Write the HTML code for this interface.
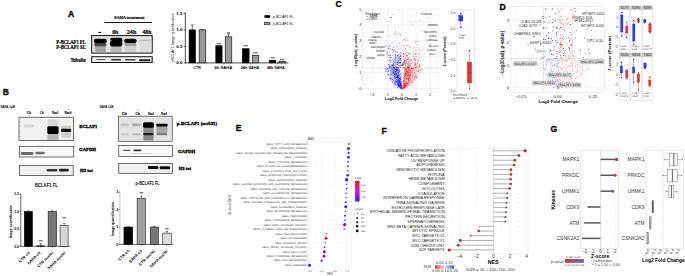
<!DOCTYPE html>
<html><head><meta charset="utf-8"><style>
html,body{margin:0;padding:0;background:#fff;}
body{width:685px;height:276px;overflow:hidden;}
svg{display:block;font-family:"Liberation Sans", sans-serif;}
</style></head><body>
<svg width="685" height="276" viewBox="0 0 685 276" xmlns="http://www.w3.org/2000/svg">
<defs>
<filter id="b1" x="-50%" y="-50%" width="200%" height="200%"><feGaussianBlur stdDeviation="0.9"/></filter>
<filter id="b05" x="-50%" y="-50%" width="200%" height="200%"><feGaussianBlur stdDeviation="0.5"/></filter>
<filter id="b03" x="-50%" y="-50%" width="200%" height="200%"><feGaussianBlur stdDeviation="0.3"/></filter>
<linearGradient id="gfdr" x1="0" y1="0" x2="0" y2="1"><stop offset="0" stop-color="#ff1010"/><stop offset="0.5" stop-color="#e010e0"/><stop offset="1" stop-color="#2020ff"/></linearGradient>
<linearGradient id="gf" x1="0" y1="0" x2="1" y2="0"><stop offset="0" stop-color="#e03030"/><stop offset="0.5" stop-color="#f0e0e0"/><stop offset="1" stop-color="#4060c0"/></linearGradient>
<linearGradient id="gg" x1="0" y1="0" x2="1" y2="0"><stop offset="0" stop-color="#d83030"/><stop offset="0.55" stop-color="#a05080"/><stop offset="1" stop-color="#5070c8"/></linearGradient>
</defs>
<rect width="685" height="276" fill="#fff"/>
<text x="68.00" y="17.20" font-size="8.6" text-anchor="start" font-weight="bold" fill="#000" stroke="#000" stroke-width="0.3" >A</text>
<text x="114.30" y="19.10" font-size="4.8" text-anchor="start" font-weight="bold" fill="#000" font-family="'Liberation Serif', serif" textLength="30.20" lengthAdjust="spacingAndGlyphs" stroke="#000" stroke-width="0.2" >SAHA treatment</text>
<line x1="104.40" y1="22.50" x2="152.00" y2="22.50" stroke="#000" stroke-width="0.9" />
<rect x="98.30" y="31.90" width="2.80" height="1.00" fill="#000" stroke="none" stroke-width="0" />
<text x="112.20" y="34.10" font-size="6.8" text-anchor="start" font-weight="bold" fill="#000" font-family="'Liberation Serif', serif" textLength="6.20" lengthAdjust="spacingAndGlyphs" stroke="#000" stroke-width="0.2" >6h</text>
<text x="126.80" y="34.10" font-size="6.8" text-anchor="start" font-weight="bold" fill="#000" font-family="'Liberation Serif', serif" textLength="9.50" lengthAdjust="spacingAndGlyphs" stroke="#000" stroke-width="0.2" >24h</text>
<text x="142.40" y="34.10" font-size="6.8" text-anchor="start" font-weight="bold" fill="#000" font-family="'Liberation Serif', serif" textLength="9.00" lengthAdjust="spacingAndGlyphs" stroke="#000" stroke-width="0.2" >48h</text>
<text x="56.30" y="43.90" font-size="5.4" text-anchor="start" font-weight="bold" fill="#000" font-family="'Liberation Serif', serif" textLength="29.50" lengthAdjust="spacingAndGlyphs" stroke="#000" stroke-width="0.2" >P-BCLAF1 FL</text>
<text x="56.30" y="49.40" font-size="5.4" text-anchor="start" font-weight="bold" fill="#000" font-family="'Liberation Serif', serif" textLength="29.50" lengthAdjust="spacingAndGlyphs" stroke="#000" stroke-width="0.2" >P-BCLAF1 SL</text>
<text x="70.40" y="61.90" font-size="5.4" text-anchor="start" font-weight="bold" fill="#000" font-family="'Liberation Serif', serif" textLength="15.40" lengthAdjust="spacingAndGlyphs" stroke="#000" stroke-width="0.2" >Tubulin</text>
<rect x="91.70" y="35.60" width="60.50" height="17.50" fill="#e6e6e6" stroke="#111" stroke-width="1.0" />
<g filter="url(#b05)">
<rect x="94.50" y="45.80" width="11.70" height="3.50" rx="1.2" fill="#a8a8a8" />
<rect x="95.00" y="49.20" width="11.00" height="2.60" rx="1.2" fill="#999" />
<rect x="110.50" y="46.00" width="11.30" height="6.00" rx="1.5" fill="#b8b8b8" />
<rect x="124.50" y="45.50" width="11.70" height="6.50" rx="1.5" fill="#cfcfcf" />
<rect x="140.00" y="41.00" width="11.50" height="11.00" rx="1.5" fill="#dcdcdc" />
<rect x="94.20" y="43.00" width="12.20" height="3.20" rx="1.5" fill="#4a4a4a" />
<rect x="93.90" y="38.80" width="12.80" height="4.40" rx="2.0" fill="#000" />
<rect x="110.00" y="37.70" width="12.30" height="8.80" rx="2.0" fill="#050505" />
<rect x="124.30" y="42.80" width="12.00" height="3.20" rx="1.5" fill="#a0a0a0" />
<rect x="124.20" y="38.80" width="12.40" height="4.20" rx="2.0" fill="#000" />
<rect x="139.30" y="39.40" width="12.70" height="1.90" rx="1.0" fill="#bdbdbd" />
</g>
<ellipse cx="110.90" cy="40.60" rx="0.80" ry="1.20" fill="#9a9a9a" filter="url(#b05)"/>
<rect x="91.70" y="56.70" width="60.50" height="5.80" fill="#f0f0f0" stroke="#111" stroke-width="1.0" />
<g filter="url(#b03)">
<rect x="96.10" y="59.00" width="9.30" height="1.10" rx="0.5" fill="#555" />
<rect x="111.20" y="58.90" width="9.80" height="1.60" rx="0.6" fill="#333" />
<rect x="125.10" y="58.90" width="10.50" height="1.70" rx="0.6" fill="#444" />
<rect x="139.00" y="59.20" width="11.60" height="2.00" rx="0.8" fill="#222" />
</g>
<line x1="185.30" y1="12.40" x2="185.30" y2="63.20" stroke="#000" stroke-width="0.7" />
<line x1="185.00" y1="62.90" x2="288.50" y2="62.90" stroke="#000" stroke-width="0.7" />
<line x1="183.60" y1="13.40" x2="185.30" y2="13.40" stroke="#000" stroke-width="0.6" />
<text x="176.20" y="14.70" font-size="3.7" text-anchor="start" font-weight="bold" fill="#000" textLength="6.30" lengthAdjust="spacingAndGlyphs" >1.5</text>
<line x1="183.60" y1="29.90" x2="185.30" y2="29.90" stroke="#000" stroke-width="0.6" />
<text x="176.20" y="31.20" font-size="3.7" text-anchor="start" font-weight="bold" fill="#000" textLength="6.30" lengthAdjust="spacingAndGlyphs" >1.0</text>
<line x1="183.60" y1="46.40" x2="185.30" y2="46.40" stroke="#000" stroke-width="0.6" />
<text x="176.20" y="47.70" font-size="3.7" text-anchor="start" font-weight="bold" fill="#000" textLength="6.30" lengthAdjust="spacingAndGlyphs" >0.5</text>
<line x1="183.60" y1="62.90" x2="185.30" y2="62.90" stroke="#000" stroke-width="0.6" />
<text x="176.20" y="64.20" font-size="3.7" text-anchor="start" font-weight="bold" fill="#000" textLength="6.30" lengthAdjust="spacingAndGlyphs" >0.0</text>
<text transform="translate(174.00,37.60) rotate(-90)" font-size="3.6" text-anchor="middle" fill="#000" textLength="48.50" lengthAdjust="spacingAndGlyphs" >pBCLAF1 Image quantification</text>
<rect x="189.10" y="29.90" width="6.40" height="33.00" fill="#000" stroke="#000" stroke-width="0.6" />
<line x1="192.30" y1="29.90" x2="192.30" y2="24.95" stroke="#000" stroke-width="0.5" />
<line x1="190.80" y1="24.95" x2="193.80" y2="24.95" stroke="#000" stroke-width="0.5" />
<rect x="199.10" y="29.90" width="6.70" height="33.00" fill="#999" stroke="#000" stroke-width="0.6" />
<line x1="202.45" y1="29.90" x2="202.45" y2="29.57" stroke="#000" stroke-width="0.5" />
<line x1="200.95" y1="29.57" x2="203.95" y2="29.57" stroke="#000" stroke-width="0.5" />
<rect x="215.80" y="45.74" width="6.30" height="17.16" fill="#000" stroke="#000" stroke-width="0.6" />
<rect x="225.20" y="36.83" width="6.60" height="26.07" fill="#999" stroke="#000" stroke-width="0.6" />
<line x1="228.50" y1="36.83" x2="228.50" y2="34.02" stroke="#000" stroke-width="0.5" />
<line x1="227.00" y1="34.02" x2="230.00" y2="34.02" stroke="#000" stroke-width="0.5" />
<rect x="242.30" y="48.71" width="6.80" height="14.19" fill="#000" stroke="#000" stroke-width="0.6" />
<rect x="252.40" y="55.31" width="6.40" height="7.59" fill="#999" stroke="#000" stroke-width="0.6" />
<rect x="269.40" y="60.26" width="6.40" height="2.64" fill="#000" stroke="#000" stroke-width="0.6" />
<rect x="279.00" y="61.58" width="6.40" height="1.32" fill="#999" stroke="#000" stroke-width="0.6" />
<text x="218.90" y="45.70" font-size="3.6" text-anchor="middle" font-weight="bold" fill="#111" >***</text>
<text x="228.50" y="34.90" font-size="3.6" text-anchor="middle" font-weight="bold" fill="#111" >**</text>
<text x="245.70" y="47.70" font-size="3.6" text-anchor="middle" font-weight="bold" fill="#111" >***</text>
<text x="255.60" y="54.60" font-size="3.6" text-anchor="middle" font-weight="bold" fill="#111" >***</text>
<text x="272.60" y="60.40" font-size="3.6" text-anchor="middle" font-weight="bold" fill="#111" >***</text>
<text x="282.20" y="61.70" font-size="3.6" text-anchor="middle" font-weight="bold" fill="#111" >***</text>
<line x1="197.40" y1="62.90" x2="197.40" y2="64.30" stroke="#000" stroke-width="0.6" />
<line x1="223.80" y1="62.90" x2="223.80" y2="64.30" stroke="#000" stroke-width="0.6" />
<line x1="250.55" y1="62.90" x2="250.55" y2="64.30" stroke="#000" stroke-width="0.6" />
<line x1="277.40" y1="62.90" x2="277.40" y2="64.30" stroke="#000" stroke-width="0.6" />
<text x="193.60" y="68.80" font-size="4.2" text-anchor="start" font-weight="bold" fill="#000" textLength="7.30" lengthAdjust="spacingAndGlyphs" >CTR</text>
<text x="214.50" y="68.80" font-size="4.2" text-anchor="start" font-weight="bold" fill="#000" textLength="17.80" lengthAdjust="spacingAndGlyphs" >6h SAHA</text>
<text x="240.70" y="68.80" font-size="4.2" text-anchor="start" font-weight="bold" fill="#000" textLength="18.60" lengthAdjust="spacingAndGlyphs" >24h SAHA</text>
<text x="266.90" y="68.80" font-size="4.2" text-anchor="start" font-weight="bold" fill="#000" textLength="17.80" lengthAdjust="spacingAndGlyphs" >48h SAHA</text>
<rect x="264.40" y="15.20" width="5.80" height="2.60" fill="#000" stroke="none" stroke-width="0" />
<rect x="264.60" y="22.30" width="5.40" height="2.50" fill="#999" stroke="#000" stroke-width="0.5" />
<text x="272.70" y="18.10" font-size="4.4" text-anchor="start" fill="#000" textLength="20.70" lengthAdjust="spacingAndGlyphs" >p-BCLAF1 FL</text>
<text x="272.70" y="25.20" font-size="4.4" text-anchor="start" fill="#000" textLength="20.70" lengthAdjust="spacingAndGlyphs" >p-BCLAF1 SL</text>
<text x="2.80" y="94.60" font-size="8.6" text-anchor="start" font-weight="bold" fill="#000" stroke="#000" stroke-width="0.3" >B</text>
<text x="0.20" y="107.80" font-size="3.3" text-anchor="start" font-weight="bold" fill="#000" textLength="14.80" lengthAdjust="spacingAndGlyphs" >SAHA 1μM</text>
<text x="99.50" y="107.80" font-size="3.3" text-anchor="start" font-weight="bold" fill="#000" textLength="14.10" lengthAdjust="spacingAndGlyphs" >SAHA 1μM</text>
<text x="29.00" y="109.80" font-size="3.0" text-anchor="middle" fill="#444" >-</text>
<text x="41.60" y="109.80" font-size="3.0" text-anchor="middle" fill="#444" >+</text>
<text x="54.80" y="109.80" font-size="3.0" text-anchor="middle" fill="#444" >-</text>
<text x="68.30" y="109.80" font-size="3.0" text-anchor="middle" fill="#444" >+</text>
<text x="26.80" y="113.90" font-size="3.9" text-anchor="start" font-weight="bold" fill="#000" font-family="'Liberation Serif', serif" textLength="4.40" lengthAdjust="spacingAndGlyphs" stroke="#000" stroke-width="0.15" >Cit</text>
<text x="40.00" y="113.90" font-size="3.9" text-anchor="start" font-weight="bold" fill="#000" font-family="'Liberation Serif', serif" textLength="3.80" lengthAdjust="spacingAndGlyphs" stroke="#000" stroke-width="0.15" >Cit</text>
<text x="52.00" y="113.90" font-size="3.9" text-anchor="start" font-weight="bold" fill="#000" font-family="'Liberation Serif', serif" textLength="6.00" lengthAdjust="spacingAndGlyphs" stroke="#000" stroke-width="0.15" >Nucl</text>
<text x="64.60" y="113.90" font-size="3.9" text-anchor="start" font-weight="bold" fill="#000" font-family="'Liberation Serif', serif" textLength="6.80" lengthAdjust="spacingAndGlyphs" stroke="#000" stroke-width="0.15" >Nucl</text>
<text x="124.30" y="111.00" font-size="3.0" text-anchor="middle" fill="#444" >-</text>
<text x="137.80" y="111.00" font-size="3.0" text-anchor="middle" fill="#444" >+</text>
<text x="150.90" y="111.00" font-size="3.0" text-anchor="middle" fill="#444" >-</text>
<text x="164.00" y="111.00" font-size="3.0" text-anchor="middle" fill="#444" >+</text>
<text x="121.70" y="114.50" font-size="3.9" text-anchor="start" font-weight="bold" fill="#000" font-family="'Liberation Serif', serif" textLength="5.20" lengthAdjust="spacingAndGlyphs" stroke="#000" stroke-width="0.15" >Cit</text>
<text x="135.60" y="114.50" font-size="3.9" text-anchor="start" font-weight="bold" fill="#000" font-family="'Liberation Serif', serif" textLength="4.40" lengthAdjust="spacingAndGlyphs" stroke="#000" stroke-width="0.15" >Cit</text>
<text x="148.00" y="114.50" font-size="3.9" text-anchor="start" font-weight="bold" fill="#000" font-family="'Liberation Serif', serif" textLength="5.80" lengthAdjust="spacingAndGlyphs" stroke="#000" stroke-width="0.15" >Nucl</text>
<text x="161.00" y="114.50" font-size="3.9" text-anchor="start" font-weight="bold" fill="#000" font-family="'Liberation Serif', serif" textLength="5.90" lengthAdjust="spacingAndGlyphs" stroke="#000" stroke-width="0.15" >Nucl</text>
<rect x="19.00" y="117.20" width="54.50" height="23.40" fill="#f1f1f1" stroke="#333" stroke-width="0.7" />
<g filter="url(#b05)">
<rect x="24.00" y="124.60" width="10.00" height="2.80" rx="0.8" fill="#dcdcdc" />
<rect x="47.50" y="119.50" width="11.00" height="7.00" rx="1.0" fill="#d8d8d8" />
<rect x="47.30" y="134.00" width="11.30" height="6.00" rx="1.0" fill="#b5b5b5" />
<rect x="47.30" y="126.30" width="11.30" height="7.80" rx="1.5" fill="#000" />
<rect x="61.20" y="125.50" width="9.80" height="12.00" rx="1.0" fill="#d0d0d0" />
<rect x="61.00" y="128.70" width="10.20" height="3.40" rx="1.2" fill="#0a0a0a" />
</g>
<line x1="19.30" y1="122.20" x2="20.80" y2="122.20" stroke="#777" stroke-width="0.4" />
<line x1="19.30" y1="126.30" x2="20.80" y2="126.30" stroke="#777" stroke-width="0.4" />
<line x1="19.30" y1="131.70" x2="20.80" y2="131.70" stroke="#777" stroke-width="0.4" />
<line x1="19.30" y1="136.50" x2="20.80" y2="136.50" stroke="#777" stroke-width="0.4" />
<rect x="19.30" y="146.30" width="54.50" height="10.70" fill="#f6f6f6" stroke="#333" stroke-width="0.7" />
<g filter="url(#b03)">
<rect x="20.70" y="152.00" width="12.70" height="3.00" rx="1.2" fill="#6a6a6a" />
<rect x="35.30" y="151.70" width="9.50" height="2.60" rx="1.2" fill="#707070" />
</g>
<rect x="19.30" y="165.30" width="53.90" height="10.30" fill="#f2f2f2" stroke="#333" stroke-width="0.7" />
<g filter="url(#b03)">
<rect x="46.70" y="169.00" width="10.70" height="2.60" rx="1.1" fill="#333" />
<rect x="58.70" y="168.80" width="10.10" height="2.60" rx="1.1" fill="#222" />
</g>
<text x="79.30" y="128.20" font-size="4.9" text-anchor="start" font-weight="bold" fill="#000" font-family="'Liberation Serif', serif" textLength="18.00" lengthAdjust="spacingAndGlyphs" stroke="#000" stroke-width="0.32" >BCLAF1</text>
<text x="79.10" y="150.90" font-size="4.9" text-anchor="start" font-weight="bold" fill="#000" font-family="'Liberation Serif', serif" textLength="16.90" lengthAdjust="spacingAndGlyphs" stroke="#000" stroke-width="0.32" >GAPDH</text>
<text x="80.10" y="171.60" font-size="4.9" text-anchor="start" font-weight="bold" fill="#000" font-family="'Liberation Serif', serif" textLength="12.70" lengthAdjust="spacingAndGlyphs" stroke="#000" stroke-width="0.32" >H3 tot</text>
<rect x="118.50" y="116.20" width="53.70" height="25.10" fill="#e3e3e3" stroke="#444" stroke-width="0.7" />
<g filter="url(#b05)">
<rect x="120.40" y="123.40" width="8.30" height="2.90" rx="1.0" fill="#c2c2c2" />
<rect x="120.40" y="133.30" width="8.30" height="2.00" rx="1.0" fill="#cacaca" />
<rect x="132.30" y="123.40" width="8.40" height="2.90" rx="1.0" fill="#a8a8a8" />
<rect x="132.30" y="133.30" width="8.40" height="2.00" rx="1.0" fill="#bdbdbd" />
<rect x="143.30" y="126.50" width="10.30" height="14.00" rx="1.0" fill="#8a8a8a" />
<rect x="143.10" y="122.20" width="10.70" height="5.60" rx="1.5" fill="#000" />
<rect x="143.30" y="132.90" width="10.30" height="2.40" rx="1.0" fill="#1e1e1e" />
<rect x="156.40" y="126.00" width="11.00" height="7.00" rx="1.0" fill="#a5a5a5" />
<rect x="156.20" y="123.80" width="11.40" height="2.80" rx="1.0" fill="#050505" />
<rect x="156.40" y="133.00" width="11.00" height="2.30" rx="1.0" fill="#7a7a7a" />
</g>
<rect x="118.80" y="145.40" width="53.70" height="11.20" fill="#fcfcfc" stroke="#333" stroke-width="0.7" />
<g filter="url(#b03)">
<rect x="123.10" y="149.80" width="7.20" height="1.10" rx="0.5" fill="#555" />
<rect x="133.50" y="149.60" width="7.90" height="1.60" rx="0.6" fill="#333" />
<rect x="130.00" y="153.20" width="22.00" height="0.90" rx="0.3" fill="#c4c4c4" />
</g>
<rect x="118.80" y="163.60" width="53.70" height="9.70" fill="#f0f0f0" stroke="#333" stroke-width="0.7" />
<g filter="url(#b03)">
<rect x="147.90" y="166.10" width="10.40" height="2.90" rx="1.2" fill="#111" />
<rect x="159.60" y="166.20" width="10.50" height="3.10" rx="1.2" fill="#111" />
</g>
<text x="176.80" y="124.90" font-size="4.5" text-anchor="start" font-weight="bold" fill="#000" font-family="'Liberation Serif', serif" textLength="40.20" lengthAdjust="spacingAndGlyphs" stroke="#000" stroke-width="0.32" >p-BCLAF1 (ser531)</text>
<text x="178.00" y="152.70" font-size="4.9" text-anchor="start" font-weight="bold" fill="#000" font-family="'Liberation Serif', serif" textLength="17.20" lengthAdjust="spacingAndGlyphs" stroke="#000" stroke-width="0.32" >GAPDH</text>
<text x="178.70" y="170.30" font-size="4.9" text-anchor="start" font-weight="bold" fill="#000" font-family="'Liberation Serif', serif" textLength="12.30" lengthAdjust="spacingAndGlyphs" stroke="#000" stroke-width="0.32" >H3 tot</text>
<line x1="20.80" y1="193.60" x2="20.80" y2="246.60" stroke="#000" stroke-width="0.6" />
<line x1="20.50" y1="246.30" x2="70.10" y2="246.30" stroke="#000" stroke-width="0.6" />
<line x1="19.50" y1="194.10" x2="20.80" y2="194.10" stroke="#000" stroke-width="0.5" />
<text x="19.00" y="195.35" font-size="3.5" text-anchor="end" font-weight="bold" fill="#000" >1.5</text>
<line x1="19.50" y1="211.50" x2="20.80" y2="211.50" stroke="#000" stroke-width="0.5" />
<text x="19.00" y="212.75" font-size="3.5" text-anchor="end" font-weight="bold" fill="#000" >1.0</text>
<line x1="19.50" y1="228.90" x2="20.80" y2="228.90" stroke="#000" stroke-width="0.5" />
<text x="19.00" y="230.15" font-size="3.5" text-anchor="end" font-weight="bold" fill="#000" >0.5</text>
<line x1="19.50" y1="246.30" x2="20.80" y2="246.30" stroke="#000" stroke-width="0.5" />
<text x="19.00" y="247.55" font-size="3.5" text-anchor="end" font-weight="bold" fill="#000" >0.0</text>
<rect x="24.30" y="211.50" width="8.20" height="34.80" fill="#000" stroke="#000" stroke-width="0.5" />
<line x1="28.40" y1="211.50" x2="28.40" y2="210.80" stroke="#000" stroke-width="0.5" />
<line x1="27.20" y1="210.80" x2="29.60" y2="210.80" stroke="#000" stroke-width="0.5" />
<line x1="28.40" y1="246.30" x2="28.40" y2="247.50" stroke="#000" stroke-width="0.5" />
<rect x="36.80" y="245.78" width="7.70" height="0.52" fill="#333" stroke="#000" stroke-width="0.5" />
<line x1="40.65" y1="245.78" x2="40.65" y2="243.69" stroke="#000" stroke-width="0.5" />
<line x1="39.45" y1="243.69" x2="41.85" y2="243.69" stroke="#000" stroke-width="0.5" />
<line x1="40.65" y1="246.30" x2="40.65" y2="247.50" stroke="#000" stroke-width="0.5" />
<rect x="48.10" y="211.50" width="8.50" height="34.80" fill="#777" stroke="#000" stroke-width="0.5" />
<line x1="52.35" y1="211.50" x2="52.35" y2="210.80" stroke="#000" stroke-width="0.5" />
<line x1="51.15" y1="210.80" x2="53.55" y2="210.80" stroke="#000" stroke-width="0.5" />
<line x1="52.35" y1="246.30" x2="52.35" y2="247.50" stroke="#000" stroke-width="0.5" />
<rect x="60.10" y="225.42" width="8.00" height="20.88" fill="#d5d5d5" stroke="#000" stroke-width="0.5" />
<line x1="64.10" y1="225.42" x2="64.10" y2="223.33" stroke="#000" stroke-width="0.5" />
<line x1="62.90" y1="223.33" x2="65.30" y2="223.33" stroke="#000" stroke-width="0.5" />
<line x1="64.10" y1="246.30" x2="64.10" y2="247.50" stroke="#000" stroke-width="0.5" />
<text x="35.00" y="187.00" font-size="4.9" text-anchor="start" font-weight="bold" fill="#000" textLength="22.80" lengthAdjust="spacingAndGlyphs" >BCLAF1 FL</text>
<text transform="translate(11.80,221.60) rotate(-90)" font-size="3.0" text-anchor="middle" font-weight="bold" fill="#000" textLength="33.00" lengthAdjust="spacingAndGlyphs" >Image quantification</text>
<text x="40.60" y="242.60" font-size="3.0" text-anchor="middle" font-weight="bold" fill="#000" >***</text>
<text x="64.10" y="220.40" font-size="3.0" text-anchor="middle" font-weight="bold" fill="#000" >***</text>
<line x1="119.90" y1="191.70" x2="119.90" y2="244.70" stroke="#999" stroke-width="0.6" />
<line x1="119.60" y1="244.40" x2="173.20" y2="244.40" stroke="#000" stroke-width="0.6" />
<line x1="118.60" y1="192.20" x2="119.90" y2="192.20" stroke="#000" stroke-width="0.5" />
<text x="118.20" y="193.45" font-size="3.5" text-anchor="end" font-weight="bold" fill="#000" >3</text>
<line x1="118.60" y1="209.60" x2="119.90" y2="209.60" stroke="#000" stroke-width="0.5" />
<text x="118.20" y="210.85" font-size="3.5" text-anchor="end" font-weight="bold" fill="#000" >2</text>
<line x1="118.60" y1="227.00" x2="119.90" y2="227.00" stroke="#000" stroke-width="0.5" />
<text x="118.20" y="228.25" font-size="3.5" text-anchor="end" font-weight="bold" fill="#000" >1</text>
<line x1="118.60" y1="244.40" x2="119.90" y2="244.40" stroke="#000" stroke-width="0.5" />
<text x="118.20" y="245.65" font-size="3.5" text-anchor="end" font-weight="bold" fill="#000" >0</text>
<rect x="123.90" y="227.00" width="8.80" height="17.40" fill="#000" stroke="#000" stroke-width="0.5" />
<line x1="128.30" y1="227.00" x2="128.30" y2="226.65" stroke="#000" stroke-width="0.5" />
<line x1="127.10" y1="226.65" x2="129.50" y2="226.65" stroke="#000" stroke-width="0.5" />
<line x1="128.30" y1="244.40" x2="128.30" y2="245.60" stroke="#000" stroke-width="0.5" />
<rect x="137.10" y="198.29" width="8.40" height="46.11" fill="#a0a0a0" stroke="#000" stroke-width="0.5" />
<line x1="141.30" y1="198.29" x2="141.30" y2="196.20" stroke="#000" stroke-width="0.5" />
<line x1="140.10" y1="196.20" x2="142.50" y2="196.20" stroke="#000" stroke-width="0.5" />
<line x1="141.30" y1="244.40" x2="141.30" y2="245.60" stroke="#000" stroke-width="0.5" />
<rect x="150.20" y="227.00" width="8.20" height="17.40" fill="#777" stroke="#000" stroke-width="0.5" />
<line x1="154.30" y1="227.00" x2="154.30" y2="226.65" stroke="#000" stroke-width="0.5" />
<line x1="153.10" y1="226.65" x2="155.50" y2="226.65" stroke="#000" stroke-width="0.5" />
<line x1="154.30" y1="244.40" x2="154.30" y2="245.60" stroke="#000" stroke-width="0.5" />
<rect x="162.80" y="233.09" width="8.40" height="11.31" fill="#dcdcdc" stroke="#000" stroke-width="0.5" />
<line x1="167.00" y1="233.09" x2="167.00" y2="231.35" stroke="#000" stroke-width="0.5" />
<line x1="165.80" y1="231.35" x2="168.20" y2="231.35" stroke="#000" stroke-width="0.5" />
<line x1="167.00" y1="244.40" x2="167.00" y2="245.60" stroke="#000" stroke-width="0.5" />
<text x="135.60" y="185.20" font-size="4.9" text-anchor="start" font-weight="bold" fill="#000" textLength="24.00" lengthAdjust="spacingAndGlyphs" >p-BCLAF1 FL</text>
<text transform="translate(114.30,219.00) rotate(-90)" font-size="3.0" text-anchor="middle" font-weight="bold" fill="#000" textLength="34.00" lengthAdjust="spacingAndGlyphs" >Image quantification</text>
<text x="141.30" y="195.00" font-size="3.0" text-anchor="middle" font-weight="bold" fill="#000" >***</text>
<text x="167.00" y="231.40" font-size="3.0" text-anchor="middle" font-weight="bold" fill="#000" >***</text>
<text transform="translate(30.20,253.00) rotate(-45)" font-size="4.0" text-anchor="end" font-weight="bold" fill="#000" >CTR cit</text>
<text transform="translate(40.90,253.00) rotate(-45)" font-size="4.0" text-anchor="end" font-weight="bold" fill="#000" >SAHA cit</text>
<text transform="translate(53.60,253.00) rotate(-45)" font-size="4.0" text-anchor="end" font-weight="bold" fill="#000" >CTR nuclei</text>
<text transform="translate(65.90,253.00) rotate(-45)" font-size="4.0" text-anchor="end" font-weight="bold" fill="#000" >SAHA nuclei</text>
<text transform="translate(129.60,251.20) rotate(-45)" font-size="4.0" text-anchor="end" font-weight="bold" fill="#000" >CTR cit</text>
<text transform="translate(142.40,251.20) rotate(-45)" font-size="4.0" text-anchor="end" font-weight="bold" fill="#000" >SAHA cit</text>
<text transform="translate(155.30,251.20) rotate(-45)" font-size="4.0" text-anchor="end" font-weight="bold" fill="#000" >CTR nuclei</text>
<text transform="translate(168.10,251.20) rotate(-45)" font-size="4.0" text-anchor="end" font-weight="bold" fill="#000" >SAHA nuclei</text>
<text x="335.40" y="6.60" font-size="8.6" text-anchor="start" font-weight="bold" fill="#000" stroke="#000" stroke-width="0.3" >C</text>
<line x1="366.05" y1="9.60" x2="366.05" y2="92.60" stroke="#f0f0f0" stroke-width="0.4" />
<line x1="380.35" y1="9.60" x2="380.35" y2="92.60" stroke="#f0f0f0" stroke-width="0.4" />
<line x1="394.65" y1="9.60" x2="394.65" y2="92.60" stroke="#f0f0f0" stroke-width="0.4" />
<line x1="408.95" y1="9.60" x2="408.95" y2="92.60" stroke="#f0f0f0" stroke-width="0.4" />
<line x1="423.25" y1="9.60" x2="423.25" y2="92.60" stroke="#f0f0f0" stroke-width="0.4" />
<line x1="437.55" y1="9.60" x2="437.55" y2="92.60" stroke="#f0f0f0" stroke-width="0.4" />
<line x1="362.30" y1="80.65" x2="440.50" y2="80.65" stroke="#f0f0f0" stroke-width="0.4" />
<line x1="362.30" y1="64.75" x2="440.50" y2="64.75" stroke="#f0f0f0" stroke-width="0.4" />
<line x1="362.30" y1="48.85" x2="440.50" y2="48.85" stroke="#f0f0f0" stroke-width="0.4" />
<line x1="362.30" y1="32.95" x2="440.50" y2="32.95" stroke="#f0f0f0" stroke-width="0.4" />
<line x1="362.30" y1="17.05" x2="440.50" y2="17.05" stroke="#f0f0f0" stroke-width="0.4" />
<line x1="373.20" y1="9.60" x2="373.20" y2="92.60" stroke="#dedede" stroke-width="0.45" />
<line x1="387.50" y1="9.60" x2="387.50" y2="92.60" stroke="#dedede" stroke-width="0.45" />
<line x1="401.80" y1="9.60" x2="401.80" y2="92.60" stroke="#dedede" stroke-width="0.45" />
<line x1="416.10" y1="9.60" x2="416.10" y2="92.60" stroke="#dedede" stroke-width="0.45" />
<line x1="430.40" y1="9.60" x2="430.40" y2="92.60" stroke="#dedede" stroke-width="0.45" />
<line x1="362.30" y1="88.60" x2="440.50" y2="88.60" stroke="#dedede" stroke-width="0.45" />
<line x1="362.30" y1="72.70" x2="440.50" y2="72.70" stroke="#dedede" stroke-width="0.45" />
<line x1="362.30" y1="56.80" x2="440.50" y2="56.80" stroke="#dedede" stroke-width="0.45" />
<line x1="362.30" y1="40.90" x2="440.50" y2="40.90" stroke="#dedede" stroke-width="0.45" />
<line x1="362.30" y1="25.00" x2="440.50" y2="25.00" stroke="#dedede" stroke-width="0.45" />
<line x1="362.30" y1="9.10" x2="440.50" y2="9.10" stroke="#dedede" stroke-width="0.45" />
<line x1="362.30" y1="9.60" x2="362.30" y2="92.60" stroke="#ccc" stroke-width="0.4" />
<path d="M394.1 79.3h0.5v0.5h-0.5zM390.4 75.5h0.5v0.5h-0.5zM398.2 87.7h0.5v0.5h-0.5zM392.1 71.1h0.5v0.5h-0.5zM391.7 69.5h0.5v0.5h-0.5zM390.5 77.8h0.5v0.5h-0.5zM393.6 84.1h0.5v0.5h-0.5zM390.6 71.6h0.5v0.5h-0.5zM385.4 68.9h0.5v0.5h-0.5zM390.6 73.8h0.5v0.5h-0.5zM392.9 75.7h0.5v0.5h-0.5zM392.4 79.5h0.5v0.5h-0.5zM387.5 74.2h0.5v0.5h-0.5zM388.9 68.2h0.5v0.5h-0.5zM391.6 68.9h0.5v0.5h-0.5zM387.6 74.5h0.5v0.5h-0.5zM391.4 77.8h0.5v0.5h-0.5zM391.6 75.2h0.5v0.5h-0.5zM392.2 82.5h0.5v0.5h-0.5zM394.6 82.9h0.5v0.5h-0.5zM392.9 75.6h0.5v0.5h-0.5zM391.1 72.4h0.5v0.5h-0.5zM393.8 81.9h0.5v0.5h-0.5zM394.2 83.8h0.5v0.5h-0.5zM396.6 84.2h0.5v0.5h-0.5zM392.2 70.5h0.5v0.5h-0.5zM387.6 71.1h0.5v0.5h-0.5zM393.5 78.5h0.5v0.5h-0.5zM392.9 78.6h0.5v0.5h-0.5zM387.3 68.2h0.5v0.5h-0.5zM391.1 80.7h0.5v0.5h-0.5zM385.6 69.8h0.5v0.5h-0.5zM388.2 70.4h0.5v0.5h-0.5zM384.4 68.2h0.5v0.5h-0.5zM392.3 80.8h0.5v0.5h-0.5zM391.8 81.3h0.5v0.5h-0.5zM395.6 82.4h0.5v0.5h-0.5zM387.7 68.0h0.5v0.5h-0.5zM393.8 77.5h0.5v0.5h-0.5zM390.8 70.2h0.5v0.5h-0.5zM395.2 82.0h0.5v0.5h-0.5zM393.6 82.8h0.5v0.5h-0.5zM390.1 76.5h0.5v0.5h-0.5zM391.5 78.2h0.5v0.5h-0.5zM388.1 71.1h0.5v0.5h-0.5zM391.3 74.5h0.5v0.5h-0.5zM394.7 84.8h0.5v0.5h-0.5zM390.6 74.6h0.5v0.5h-0.5zM393.8 79.6h0.5v0.5h-0.5zM392.6 81.2h0.5v0.5h-0.5zM390.7 79.9h0.5v0.5h-0.5zM396.6 83.5h0.5v0.5h-0.5zM392.5 73.4h0.5v0.5h-0.5zM398.1 86.4h0.5v0.5h-0.5zM394.6 81.8h0.5v0.5h-0.5zM397.0 86.4h0.5v0.5h-0.5zM390.1 72.0h0.5v0.5h-0.5zM392.7 72.5h0.5v0.5h-0.5zM398.1 86.1h0.5v0.5h-0.5zM385.9 70.8h0.5v0.5h-0.5zM387.9 71.4h0.5v0.5h-0.5zM390.5 80.0h0.5v0.5h-0.5zM390.2 76.5h0.5v0.5h-0.5zM393.2 74.9h0.5v0.5h-0.5zM393.8 78.4h0.5v0.5h-0.5zM391.5 79.3h0.5v0.5h-0.5zM391.6 72.7h0.5v0.5h-0.5zM387.9 75.4h0.5v0.5h-0.5zM390.0 78.5h0.5v0.5h-0.5zM395.9 84.0h0.5v0.5h-0.5zM394.9 81.6h0.5v0.5h-0.5zM395.5 84.0h0.5v0.5h-0.5zM394.3 78.3h0.5v0.5h-0.5zM390.7 74.5h0.5v0.5h-0.5zM391.3 76.9h0.5v0.5h-0.5zM395.0 80.6h0.5v0.5h-0.5zM392.1 79.6h0.5v0.5h-0.5zM390.7 79.0h0.5v0.5h-0.5zM392.3 79.1h0.5v0.5h-0.5zM388.4 68.4h0.5v0.5h-0.5zM394.3 82.8h0.5v0.5h-0.5zM398.1 86.4h0.5v0.5h-0.5zM387.0 71.9h0.5v0.5h-0.5zM392.0 77.1h0.5v0.5h-0.5zM394.8 82.7h0.5v0.5h-0.5zM392.4 74.6h0.5v0.5h-0.5zM396.1 84.9h0.5v0.5h-0.5zM387.7 70.5h0.5v0.5h-0.5zM389.8 73.8h0.5v0.5h-0.5zM387.1 68.3h0.5v0.5h-0.5zM390.6 79.6h0.5v0.5h-0.5zM397.5 86.9h0.5v0.5h-0.5zM390.4 76.6h0.5v0.5h-0.5zM393.8 84.0h0.5v0.5h-0.5zM388.2 74.8h0.5v0.5h-0.5zM393.2 80.6h0.5v0.5h-0.5zM393.1 80.6h0.5v0.5h-0.5zM392.1 77.4h0.5v0.5h-0.5zM385.5 71.3h0.5v0.5h-0.5zM387.1 71.9h0.5v0.5h-0.5zM389.0 77.7h0.5v0.5h-0.5zM391.1 71.0h0.5v0.5h-0.5zM391.5 78.1h0.5v0.5h-0.5zM392.8 81.5h0.5v0.5h-0.5zM386.8 69.5h0.5v0.5h-0.5zM389.9 70.2h0.5v0.5h-0.5zM392.5 82.0h0.5v0.5h-0.5zM393.2 74.2h0.5v0.5h-0.5zM389.4 74.7h0.5v0.5h-0.5zM389.7 77.9h0.5v0.5h-0.5zM389.5 68.4h0.5v0.5h-0.5zM391.3 70.6h0.5v0.5h-0.5zM389.0 76.1h0.5v0.5h-0.5zM397.1 85.1h0.5v0.5h-0.5zM394.6 82.5h0.5v0.5h-0.5zM391.4 74.3h0.5v0.5h-0.5zM397.2 87.2h0.5v0.5h-0.5zM396.7 86.2h0.5v0.5h-0.5zM393.1 80.1h0.5v0.5h-0.5zM390.4 78.3h0.5v0.5h-0.5zM393.2 74.8h0.5v0.5h-0.5zM389.5 78.8h0.5v0.5h-0.5zM392.7 76.0h0.5v0.5h-0.5zM395.1 81.0h0.5v0.5h-0.5zM395.3 82.6h0.5v0.5h-0.5zM384.8 68.5h0.5v0.5h-0.5zM392.4 74.2h0.5v0.5h-0.5zM386.4 71.1h0.5v0.5h-0.5zM395.1 85.4h0.5v0.5h-0.5zM395.2 80.1h0.5v0.5h-0.5zM393.6 82.7h0.5v0.5h-0.5zM395.1 81.4h0.5v0.5h-0.5zM388.1 73.9h0.5v0.5h-0.5zM391.2 69.5h0.5v0.5h-0.5zM397.9 85.8h0.5v0.5h-0.5zM390.2 73.5h0.5v0.5h-0.5zM390.6 74.0h0.5v0.5h-0.5zM387.2 67.8h0.5v0.5h-0.5zM392.2 71.9h0.5v0.5h-0.5zM393.5 82.9h0.5v0.5h-0.5zM387.9 71.6h0.5v0.5h-0.5zM395.1 83.5h0.5v0.5h-0.5zM386.0 67.8h0.5v0.5h-0.5zM397.0 84.7h0.5v0.5h-0.5zM393.7 83.1h0.5v0.5h-0.5zM391.6 68.8h0.5v0.5h-0.5zM385.4 71.0h0.5v0.5h-0.5zM390.4 70.6h0.5v0.5h-0.5zM386.7 69.1h0.5v0.5h-0.5zM388.3 69.7h0.5v0.5h-0.5zM391.8 73.5h0.5v0.5h-0.5zM394.5 80.4h0.5v0.5h-0.5zM388.0 74.4h0.5v0.5h-0.5zM386.7 69.6h0.5v0.5h-0.5zM390.2 70.3h0.5v0.5h-0.5zM386.4 69.4h0.5v0.5h-0.5zM385.8 69.7h0.5v0.5h-0.5zM391.4 67.7h0.5v0.5h-0.5zM386.6 68.9h0.5v0.5h-0.5zM395.1 84.5h0.5v0.5h-0.5zM394.3 84.7h0.5v0.5h-0.5zM396.9 86.7h0.5v0.5h-0.5z" fill="#1a1aff"/>
<path d="M411.3 80.9h0.5v0.5h-0.5zM410.8 79.9h0.5v0.5h-0.5zM413.5 78.5h0.5v0.5h-0.5zM416.9 69.9h0.5v0.5h-0.5zM418.2 71.6h0.5v0.5h-0.5zM415.5 76.1h0.5v0.5h-0.5zM404.3 88.1h0.5v0.5h-0.5zM414.7 75.7h0.5v0.5h-0.5zM416.1 77.2h0.5v0.5h-0.5zM412.4 76.5h0.5v0.5h-0.5zM412.4 77.7h0.5v0.5h-0.5zM414.7 79.1h0.5v0.5h-0.5zM414.7 79.1h0.5v0.5h-0.5zM420.8 71.1h0.5v0.5h-0.5zM415.7 75.4h0.5v0.5h-0.5zM413.9 78.5h0.5v0.5h-0.5zM413.8 77.5h0.5v0.5h-0.5zM416.8 69.4h0.5v0.5h-0.5zM417.4 76.8h0.5v0.5h-0.5zM414.8 78.7h0.5v0.5h-0.5zM413.5 70.2h0.5v0.5h-0.5zM420.0 69.2h0.5v0.5h-0.5zM416.8 67.8h0.5v0.5h-0.5zM414.1 73.4h0.5v0.5h-0.5zM413.9 67.7h0.5v0.5h-0.5zM412.1 77.3h0.5v0.5h-0.5zM418.2 70.0h0.5v0.5h-0.5zM411.9 80.3h0.5v0.5h-0.5zM416.7 67.7h0.5v0.5h-0.5zM415.2 75.3h0.5v0.5h-0.5zM409.2 84.4h0.5v0.5h-0.5zM407.8 85.9h0.5v0.5h-0.5zM412.3 76.0h0.5v0.5h-0.5zM408.7 84.0h0.5v0.5h-0.5zM406.2 86.6h0.5v0.5h-0.5zM408.3 82.9h0.5v0.5h-0.5zM409.8 80.2h0.5v0.5h-0.5zM415.9 76.7h0.5v0.5h-0.5zM411.2 78.0h0.5v0.5h-0.5zM415.0 68.3h0.5v0.5h-0.5zM412.2 80.4h0.5v0.5h-0.5zM409.1 81.5h0.5v0.5h-0.5zM412.7 75.4h0.5v0.5h-0.5zM410.2 79.1h0.5v0.5h-0.5zM419.5 71.0h0.5v0.5h-0.5zM414.4 72.6h0.5v0.5h-0.5zM414.8 77.3h0.5v0.5h-0.5zM410.7 80.7h0.5v0.5h-0.5zM419.1 68.9h0.5v0.5h-0.5zM410.8 82.3h0.5v0.5h-0.5zM414.8 70.1h0.5v0.5h-0.5zM407.4 86.3h0.5v0.5h-0.5zM415.5 77.7h0.5v0.5h-0.5zM414.8 77.1h0.5v0.5h-0.5zM417.1 71.6h0.5v0.5h-0.5zM416.7 77.0h0.5v0.5h-0.5zM407.7 83.6h0.5v0.5h-0.5zM413.9 72.2h0.5v0.5h-0.5zM415.6 74.9h0.5v0.5h-0.5zM409.0 83.3h0.5v0.5h-0.5zM418.8 70.4h0.5v0.5h-0.5zM410.8 82.5h0.5v0.5h-0.5zM416.3 76.4h0.5v0.5h-0.5zM410.5 81.9h0.5v0.5h-0.5zM405.5 87.7h0.5v0.5h-0.5zM410.4 84.9h0.5v0.5h-0.5zM405.0 87.9h0.5v0.5h-0.5zM416.4 73.4h0.5v0.5h-0.5zM407.2 86.9h0.5v0.5h-0.5zM414.0 69.9h0.5v0.5h-0.5zM418.4 70.9h0.5v0.5h-0.5zM411.3 78.1h0.5v0.5h-0.5zM407.4 86.3h0.5v0.5h-0.5zM420.3 70.3h0.5v0.5h-0.5zM407.1 85.0h0.5v0.5h-0.5zM411.1 76.7h0.5v0.5h-0.5zM416.1 69.8h0.5v0.5h-0.5zM412.0 79.9h0.5v0.5h-0.5zM418.9 72.8h0.5v0.5h-0.5zM421.0 68.0h0.5v0.5h-0.5zM418.6 68.0h0.5v0.5h-0.5zM412.4 78.1h0.5v0.5h-0.5zM413.7 75.1h0.5v0.5h-0.5zM409.3 81.2h0.5v0.5h-0.5zM411.6 75.4h0.5v0.5h-0.5zM418.7 69.7h0.5v0.5h-0.5zM412.2 74.6h0.5v0.5h-0.5zM414.3 77.1h0.5v0.5h-0.5zM420.8 69.5h0.5v0.5h-0.5zM413.8 78.7h0.5v0.5h-0.5zM417.9 71.6h0.5v0.5h-0.5zM406.0 86.3h0.5v0.5h-0.5zM412.0 74.8h0.5v0.5h-0.5zM415.1 68.7h0.5v0.5h-0.5zM407.8 84.1h0.5v0.5h-0.5zM416.9 75.0h0.5v0.5h-0.5zM411.8 83.0h0.5v0.5h-0.5zM415.6 70.4h0.5v0.5h-0.5zM413.9 77.7h0.5v0.5h-0.5zM413.4 69.2h0.5v0.5h-0.5zM404.2 88.0h0.5v0.5h-0.5zM411.8 80.4h0.5v0.5h-0.5zM413.7 68.2h0.5v0.5h-0.5zM417.7 74.6h0.5v0.5h-0.5zM417.4 71.1h0.5v0.5h-0.5zM418.5 69.5h0.5v0.5h-0.5zM413.7 79.5h0.5v0.5h-0.5zM413.2 75.5h0.5v0.5h-0.5zM404.5 87.9h0.5v0.5h-0.5zM412.4 76.7h0.5v0.5h-0.5zM412.6 79.4h0.5v0.5h-0.5zM413.8 74.3h0.5v0.5h-0.5zM416.2 73.9h0.5v0.5h-0.5zM413.3 81.9h0.5v0.5h-0.5zM412.7 82.1h0.5v0.5h-0.5zM413.2 73.2h0.5v0.5h-0.5zM413.4 79.0h0.5v0.5h-0.5zM412.2 77.4h0.5v0.5h-0.5zM405.4 87.6h0.5v0.5h-0.5zM408.3 84.7h0.5v0.5h-0.5zM414.9 75.0h0.5v0.5h-0.5zM414.1 73.0h0.5v0.5h-0.5zM414.6 71.2h0.5v0.5h-0.5zM415.8 71.1h0.5v0.5h-0.5zM414.7 80.0h0.5v0.5h-0.5zM414.3 73.0h0.5v0.5h-0.5zM407.9 85.7h0.5v0.5h-0.5zM409.8 82.2h0.5v0.5h-0.5zM413.1 75.7h0.5v0.5h-0.5zM407.5 85.5h0.5v0.5h-0.5zM416.6 77.4h0.5v0.5h-0.5zM411.6 81.7h0.5v0.5h-0.5zM410.5 79.6h0.5v0.5h-0.5zM411.8 75.9h0.5v0.5h-0.5zM415.2 72.5h0.5v0.5h-0.5zM412.8 74.3h0.5v0.5h-0.5zM407.3 84.1h0.5v0.5h-0.5zM420.1 72.0h0.5v0.5h-0.5z" fill="#ff1a1a"/>
<path d="M397.4 81.0h0.65v0.65h-0.65zM400.1 78.7h0.65v0.65h-0.65zM393.9 75.8h0.65v0.65h-0.65zM400.1 84.9h0.65v0.65h-0.65zM395.5 71.1h0.65v0.65h-0.65zM396.4 74.6h0.65v0.65h-0.65zM400.9 86.9h0.65v0.65h-0.65zM397.9 73.8h0.65v0.65h-0.65zM398.3 75.6h0.65v0.65h-0.65zM393.0 72.8h0.65v0.65h-0.65zM398.7 85.5h0.65v0.65h-0.65zM401.1 84.7h0.65v0.65h-0.65zM394.4 70.0h0.65v0.65h-0.65zM395.2 74.1h0.65v0.65h-0.65zM397.6 81.8h0.65v0.65h-0.65zM401.3 87.9h0.65v0.65h-0.65zM398.7 85.6h0.65v0.65h-0.65zM399.9 85.3h0.65v0.65h-0.65zM396.2 70.1h0.65v0.65h-0.65zM396.5 70.2h0.65v0.65h-0.65zM400.3 84.8h0.65v0.65h-0.65zM398.3 82.9h0.65v0.65h-0.65zM398.9 82.3h0.65v0.65h-0.65zM393.8 73.8h0.65v0.65h-0.65zM400.1 79.6h0.65v0.65h-0.65zM399.7 74.7h0.65v0.65h-0.65zM399.6 83.5h0.65v0.65h-0.65zM401.1 87.1h0.65v0.65h-0.65zM401.3 85.9h0.65v0.65h-0.65zM399.3 82.5h0.65v0.65h-0.65zM400.0 78.0h0.65v0.65h-0.65zM400.5 85.9h0.65v0.65h-0.65zM399.6 70.9h0.65v0.65h-0.65zM397.0 76.5h0.65v0.65h-0.65zM400.2 82.3h0.65v0.65h-0.65zM396.5 80.9h0.65v0.65h-0.65zM400.2 77.0h0.65v0.65h-0.65zM401.1 87.8h0.65v0.65h-0.65zM399.5 80.1h0.65v0.65h-0.65zM398.4 83.7h0.65v0.65h-0.65zM398.6 72.4h0.65v0.65h-0.65zM394.0 71.6h0.65v0.65h-0.65zM396.3 68.1h0.65v0.65h-0.65zM398.1 85.3h0.65v0.65h-0.65zM393.7 71.3h0.65v0.65h-0.65zM400.2 76.4h0.65v0.65h-0.65zM392.8 68.9h0.65v0.65h-0.65zM397.9 70.9h0.65v0.65h-0.65zM397.9 81.6h0.65v0.65h-0.65zM400.4 82.4h0.65v0.65h-0.65zM396.0 69.3h0.65v0.65h-0.65zM397.6 76.9h0.65v0.65h-0.65zM397.8 84.0h0.65v0.65h-0.65zM398.2 84.3h0.65v0.65h-0.65zM397.0 76.2h0.65v0.65h-0.65zM398.5 76.1h0.65v0.65h-0.65zM396.3 73.5h0.65v0.65h-0.65zM399.6 85.1h0.65v0.65h-0.65zM401.2 86.6h0.65v0.65h-0.65zM399.2 84.5h0.65v0.65h-0.65zM399.1 80.7h0.65v0.65h-0.65zM396.0 72.9h0.65v0.65h-0.65zM398.6 78.6h0.65v0.65h-0.65zM401.2 85.8h0.65v0.65h-0.65zM398.9 71.8h0.65v0.65h-0.65zM396.6 82.4h0.65v0.65h-0.65zM393.5 71.4h0.65v0.65h-0.65zM398.4 82.2h0.65v0.65h-0.65zM400.3 82.8h0.65v0.65h-0.65zM400.8 87.2h0.65v0.65h-0.65zM398.3 77.4h0.65v0.65h-0.65zM401.6 88.0h0.65v0.65h-0.65zM396.1 71.1h0.65v0.65h-0.65zM395.9 70.8h0.65v0.65h-0.65zM400.3 79.3h0.65v0.65h-0.65zM398.6 85.3h0.65v0.65h-0.65zM400.6 82.5h0.65v0.65h-0.65zM399.5 81.9h0.65v0.65h-0.65zM397.8 78.2h0.65v0.65h-0.65zM394.1 76.4h0.65v0.65h-0.65zM400.9 81.3h0.65v0.65h-0.65zM397.9 79.8h0.65v0.65h-0.65zM399.0 82.3h0.65v0.65h-0.65zM400.9 87.4h0.65v0.65h-0.65zM397.2 69.9h0.65v0.65h-0.65zM393.7 67.9h0.65v0.65h-0.65zM394.4 74.5h0.65v0.65h-0.65zM395.9 71.2h0.65v0.65h-0.65zM400.9 87.7h0.65v0.65h-0.65zM395.5 77.6h0.65v0.65h-0.65zM395.0 74.2h0.65v0.65h-0.65zM399.7 82.5h0.65v0.65h-0.65zM394.7 72.8h0.65v0.65h-0.65zM396.4 68.1h0.65v0.65h-0.65zM398.4 84.9h0.65v0.65h-0.65zM399.7 86.9h0.65v0.65h-0.65zM397.5 77.0h0.65v0.65h-0.65zM399.3 78.4h0.65v0.65h-0.65zM395.0 68.6h0.65v0.65h-0.65zM399.4 69.6h0.65v0.65h-0.65zM401.3 88.5h0.65v0.65h-0.65zM399.1 81.5h0.65v0.65h-0.65zM398.9 81.7h0.65v0.65h-0.65zM400.3 78.8h0.65v0.65h-0.65zM397.5 68.8h0.65v0.65h-0.65zM398.1 77.1h0.65v0.65h-0.65zM394.6 72.7h0.65v0.65h-0.65zM399.8 74.5h0.65v0.65h-0.65zM395.9 69.0h0.65v0.65h-0.65zM396.8 80.6h0.65v0.65h-0.65zM394.3 68.1h0.65v0.65h-0.65zM400.4 84.4h0.65v0.65h-0.65zM397.9 69.4h0.65v0.65h-0.65zM400.9 85.0h0.65v0.65h-0.65zM399.5 80.6h0.65v0.65h-0.65zM396.9 72.4h0.65v0.65h-0.65zM398.2 76.9h0.65v0.65h-0.65zM398.9 86.9h0.65v0.65h-0.65zM397.6 70.2h0.65v0.65h-0.65zM398.9 82.6h0.65v0.65h-0.65zM400.4 87.9h0.65v0.65h-0.65zM395.1 69.6h0.65v0.65h-0.65zM401.6 88.6h0.65v0.65h-0.65zM400.3 82.6h0.65v0.65h-0.65zM393.1 71.8h0.65v0.65h-0.65zM399.3 74.4h0.65v0.65h-0.65zM399.6 85.7h0.65v0.65h-0.65zM398.8 75.7h0.65v0.65h-0.65zM398.2 75.3h0.65v0.65h-0.65zM397.8 69.8h0.65v0.65h-0.65zM398.3 81.3h0.65v0.65h-0.65zM398.3 73.9h0.65v0.65h-0.65zM400.7 87.6h0.65v0.65h-0.65zM394.5 73.7h0.65v0.65h-0.65zM393.0 68.2h0.65v0.65h-0.65zM397.6 83.0h0.65v0.65h-0.65zM399.4 84.0h0.65v0.65h-0.65zM395.1 79.5h0.65v0.65h-0.65zM401.0 85.0h0.65v0.65h-0.65zM395.9 80.9h0.65v0.65h-0.65zM395.1 72.5h0.65v0.65h-0.65zM398.9 79.8h0.65v0.65h-0.65zM400.1 84.4h0.65v0.65h-0.65zM396.7 68.3h0.65v0.65h-0.65zM400.6 87.2h0.65v0.65h-0.65zM396.7 69.1h0.65v0.65h-0.65zM396.5 69.6h0.65v0.65h-0.65zM399.7 87.6h0.65v0.65h-0.65zM395.7 80.7h0.65v0.65h-0.65zM395.4 75.0h0.65v0.65h-0.65zM400.8 81.1h0.65v0.65h-0.65zM397.7 68.7h0.65v0.65h-0.65zM398.3 79.7h0.65v0.65h-0.65zM396.7 81.1h0.65v0.65h-0.65zM399.2 86.5h0.65v0.65h-0.65zM400.9 82.6h0.65v0.65h-0.65zM394.0 76.3h0.65v0.65h-0.65zM399.9 86.3h0.65v0.65h-0.65zM398.3 73.2h0.65v0.65h-0.65zM395.5 76.0h0.65v0.65h-0.65zM400.1 83.7h0.65v0.65h-0.65zM395.6 80.9h0.65v0.65h-0.65zM395.4 77.2h0.65v0.65h-0.65zM397.3 69.2h0.65v0.65h-0.65zM397.9 85.5h0.65v0.65h-0.65zM397.7 70.2h0.65v0.65h-0.65zM399.6 80.0h0.65v0.65h-0.65zM399.7 83.6h0.65v0.65h-0.65zM397.9 73.8h0.65v0.65h-0.65zM400.4 86.8h0.65v0.65h-0.65zM396.2 81.9h0.65v0.65h-0.65zM396.7 80.2h0.65v0.65h-0.65zM397.2 83.6h0.65v0.65h-0.65zM398.4 69.8h0.65v0.65h-0.65zM394.8 69.3h0.65v0.65h-0.65zM398.6 85.7h0.65v0.65h-0.65zM398.5 68.2h0.65v0.65h-0.65zM399.5 84.0h0.65v0.65h-0.65zM399.6 77.0h0.65v0.65h-0.65zM397.9 81.4h0.65v0.65h-0.65zM396.9 78.6h0.65v0.65h-0.65zM395.8 77.6h0.65v0.65h-0.65zM398.5 71.8h0.65v0.65h-0.65zM399.7 77.9h0.65v0.65h-0.65zM398.0 78.8h0.65v0.65h-0.65zM396.4 77.1h0.65v0.65h-0.65zM397.3 77.1h0.65v0.65h-0.65zM392.5 71.1h0.65v0.65h-0.65zM399.4 86.8h0.65v0.65h-0.65zM396.0 71.1h0.65v0.65h-0.65zM397.5 69.1h0.65v0.65h-0.65zM400.2 77.2h0.65v0.65h-0.65zM397.3 84.1h0.65v0.65h-0.65zM396.0 71.7h0.65v0.65h-0.65zM394.2 74.6h0.65v0.65h-0.65zM398.6 72.1h0.65v0.65h-0.65zM394.0 72.5h0.65v0.65h-0.65zM401.6 88.5h0.65v0.65h-0.65zM396.7 75.0h0.65v0.65h-0.65zM397.9 69.6h0.65v0.65h-0.65zM400.1 74.3h0.65v0.65h-0.65zM398.8 80.3h0.65v0.65h-0.65zM398.8 84.8h0.65v0.65h-0.65zM397.8 82.3h0.65v0.65h-0.65zM396.1 76.1h0.65v0.65h-0.65zM398.9 76.7h0.65v0.65h-0.65zM400.6 81.3h0.65v0.65h-0.65zM400.0 83.1h0.65v0.65h-0.65zM399.9 87.5h0.65v0.65h-0.65zM397.7 69.9h0.65v0.65h-0.65zM393.6 72.5h0.65v0.65h-0.65zM396.0 80.9h0.65v0.65h-0.65zM392.8 68.0h0.65v0.65h-0.65zM399.4 69.3h0.65v0.65h-0.65zM401.1 85.0h0.65v0.65h-0.65zM395.7 72.7h0.65v0.65h-0.65zM393.0 69.7h0.65v0.65h-0.65zM401.0 83.5h0.65v0.65h-0.65zM398.9 86.0h0.65v0.65h-0.65zM399.3 83.6h0.65v0.65h-0.65zM401.1 88.0h0.65v0.65h-0.65zM397.7 73.1h0.65v0.65h-0.65zM397.4 75.0h0.65v0.65h-0.65zM393.5 70.2h0.65v0.65h-0.65zM400.4 84.3h0.65v0.65h-0.65zM395.5 77.5h0.65v0.65h-0.65zM399.7 84.0h0.65v0.65h-0.65zM392.7 70.8h0.65v0.65h-0.65zM397.4 81.8h0.65v0.65h-0.65zM396.5 77.4h0.65v0.65h-0.65zM395.6 79.4h0.65v0.65h-0.65zM397.1 83.5h0.65v0.65h-0.65zM394.9 77.3h0.65v0.65h-0.65zM398.6 82.9h0.65v0.65h-0.65zM399.9 80.5h0.65v0.65h-0.65zM398.1 84.4h0.65v0.65h-0.65zM397.2 75.8h0.65v0.65h-0.65zM398.2 69.8h0.65v0.65h-0.65zM400.3 84.7h0.65v0.65h-0.65zM395.7 80.9h0.65v0.65h-0.65zM393.1 72.8h0.65v0.65h-0.65zM398.2 85.9h0.65v0.65h-0.65zM401.0 83.5h0.65v0.65h-0.65zM397.3 74.8h0.65v0.65h-0.65zM395.3 76.5h0.65v0.65h-0.65zM394.4 76.9h0.65v0.65h-0.65zM392.7 72.2h0.65v0.65h-0.65zM399.3 80.3h0.65v0.65h-0.65zM398.3 79.4h0.65v0.65h-0.65zM397.4 82.2h0.65v0.65h-0.65zM398.2 71.4h0.65v0.65h-0.65zM396.3 74.7h0.65v0.65h-0.65zM397.2 78.0h0.65v0.65h-0.65zM396.9 70.5h0.65v0.65h-0.65zM400.1 82.5h0.65v0.65h-0.65zM398.8 82.7h0.65v0.65h-0.65zM393.8 71.7h0.65v0.65h-0.65zM400.1 74.7h0.65v0.65h-0.65zM400.6 85.9h0.65v0.65h-0.65zM398.7 71.9h0.65v0.65h-0.65zM394.5 70.7h0.65v0.65h-0.65zM398.8 82.9h0.65v0.65h-0.65zM401.1 87.0h0.65v0.65h-0.65zM397.1 77.5h0.65v0.65h-0.65zM393.3 70.2h0.65v0.65h-0.65zM396.6 70.6h0.65v0.65h-0.65zM394.5 68.4h0.65v0.65h-0.65zM396.0 74.6h0.65v0.65h-0.65zM394.1 69.6h0.65v0.65h-0.65zM394.4 74.8h0.65v0.65h-0.65zM397.8 80.1h0.65v0.65h-0.65zM396.7 72.0h0.65v0.65h-0.65zM397.3 77.3h0.65v0.65h-0.65zM399.2 80.8h0.65v0.65h-0.65zM398.4 76.4h0.65v0.65h-0.65zM400.8 88.4h0.65v0.65h-0.65zM395.4 73.7h0.65v0.65h-0.65zM397.9 84.1h0.65v0.65h-0.65zM399.0 82.4h0.65v0.65h-0.65zM397.5 81.1h0.65v0.65h-0.65zM395.1 68.9h0.65v0.65h-0.65zM399.8 87.5h0.65v0.65h-0.65zM400.8 88.1h0.65v0.65h-0.65zM396.9 79.1h0.65v0.65h-0.65zM401.0 83.4h0.65v0.65h-0.65zM392.6 68.2h0.65v0.65h-0.65zM398.7 85.3h0.65v0.65h-0.65zM392.0 68.9h0.65v0.65h-0.65zM399.9 73.0h0.65v0.65h-0.65zM399.2 70.3h0.65v0.65h-0.65zM394.5 73.8h0.65v0.65h-0.65zM396.1 79.0h0.65v0.65h-0.65zM396.0 81.7h0.65v0.65h-0.65zM397.4 75.3h0.65v0.65h-0.65zM394.4 69.7h0.65v0.65h-0.65zM399.6 81.9h0.65v0.65h-0.65zM393.3 69.8h0.65v0.65h-0.65zM399.0 78.1h0.65v0.65h-0.65zM399.0 75.6h0.65v0.65h-0.65zM396.9 76.1h0.65v0.65h-0.65zM397.4 84.8h0.65v0.65h-0.65zM397.2 79.9h0.65v0.65h-0.65zM395.5 71.7h0.65v0.65h-0.65zM392.9 71.8h0.65v0.65h-0.65zM400.0 82.5h0.65v0.65h-0.65zM401.0 84.1h0.65v0.65h-0.65zM399.4 75.4h0.65v0.65h-0.65zM395.1 68.4h0.65v0.65h-0.65zM399.8 79.5h0.65v0.65h-0.65zM400.8 87.5h0.65v0.65h-0.65zM396.0 73.8h0.65v0.65h-0.65zM397.6 72.2h0.65v0.65h-0.65zM398.7 82.4h0.65v0.65h-0.65zM400.6 84.4h0.65v0.65h-0.65zM395.1 73.8h0.65v0.65h-0.65zM397.1 83.8h0.65v0.65h-0.65zM396.2 69.7h0.65v0.65h-0.65zM397.9 74.8h0.65v0.65h-0.65zM395.1 71.0h0.65v0.65h-0.65zM401.0 85.0h0.65v0.65h-0.65zM396.5 70.1h0.65v0.65h-0.65zM397.9 84.7h0.65v0.65h-0.65zM398.2 80.8h0.65v0.65h-0.65zM392.4 68.0h0.65v0.65h-0.65zM396.8 74.0h0.65v0.65h-0.65zM399.9 81.8h0.65v0.65h-0.65zM397.3 69.0h0.65v0.65h-0.65zM394.0 69.6h0.65v0.65h-0.65zM398.8 71.3h0.65v0.65h-0.65zM397.3 84.0h0.65v0.65h-0.65zM400.8 83.7h0.65v0.65h-0.65zM398.4 75.2h0.65v0.65h-0.65zM394.2 73.0h0.65v0.65h-0.65zM394.8 77.5h0.65v0.65h-0.65zM398.8 84.5h0.65v0.65h-0.65zM395.9 77.0h0.65v0.65h-0.65zM394.7 73.2h0.65v0.65h-0.65zM394.2 76.6h0.65v0.65h-0.65zM400.6 83.1h0.65v0.65h-0.65zM399.5 85.4h0.65v0.65h-0.65zM398.9 81.9h0.65v0.65h-0.65zM395.9 79.6h0.65v0.65h-0.65zM394.4 76.8h0.65v0.65h-0.65zM398.1 71.9h0.65v0.65h-0.65zM395.6 80.8h0.65v0.65h-0.65zM395.8 70.5h0.65v0.65h-0.65zM397.6 76.7h0.65v0.65h-0.65zM399.6 77.3h0.65v0.65h-0.65zM394.7 69.8h0.65v0.65h-0.65zM397.1 68.5h0.65v0.65h-0.65zM396.1 74.4h0.65v0.65h-0.65zM400.3 85.4h0.65v0.65h-0.65zM399.2 79.3h0.65v0.65h-0.65z" fill="#1a1aff"/>
<path d="M403.3 86.6h0.65v0.65h-0.65zM402.2 87.0h0.65v0.65h-0.65zM403.8 78.9h0.65v0.65h-0.65zM407.4 83.2h0.65v0.65h-0.65zM402.8 87.3h0.65v0.65h-0.65zM405.9 71.5h0.65v0.65h-0.65zM409.9 75.9h0.65v0.65h-0.65zM408.1 74.0h0.65v0.65h-0.65zM406.8 75.5h0.65v0.65h-0.65zM408.0 70.7h0.65v0.65h-0.65zM409.9 74.4h0.65v0.65h-0.65zM409.3 76.4h0.65v0.65h-0.65zM408.8 80.3h0.65v0.65h-0.65zM408.9 80.0h0.65v0.65h-0.65zM408.5 73.6h0.65v0.65h-0.65zM410.5 71.8h0.65v0.65h-0.65zM405.3 70.0h0.65v0.65h-0.65zM406.3 85.4h0.65v0.65h-0.65zM405.4 68.5h0.65v0.65h-0.65zM410.5 68.0h0.65v0.65h-0.65zM410.3 72.0h0.65v0.65h-0.65zM411.5 67.9h0.65v0.65h-0.65zM405.8 71.1h0.65v0.65h-0.65zM407.2 73.5h0.65v0.65h-0.65zM412.7 68.8h0.65v0.65h-0.65zM408.2 69.5h0.65v0.65h-0.65zM404.2 74.3h0.65v0.65h-0.65zM409.7 74.1h0.65v0.65h-0.65zM405.6 68.6h0.65v0.65h-0.65zM407.4 68.0h0.65v0.65h-0.65zM408.9 68.2h0.65v0.65h-0.65zM406.5 75.7h0.65v0.65h-0.65zM408.8 69.2h0.65v0.65h-0.65zM404.1 76.2h0.65v0.65h-0.65zM408.4 72.0h0.65v0.65h-0.65zM407.4 72.2h0.65v0.65h-0.65zM407.3 75.1h0.65v0.65h-0.65zM408.0 77.8h0.65v0.65h-0.65zM406.2 70.0h0.65v0.65h-0.65zM409.5 76.2h0.65v0.65h-0.65zM410.7 74.0h0.65v0.65h-0.65zM405.3 84.7h0.65v0.65h-0.65zM406.5 85.0h0.65v0.65h-0.65zM404.6 83.2h0.65v0.65h-0.65zM409.0 77.6h0.65v0.65h-0.65zM403.9 74.9h0.65v0.65h-0.65zM413.1 67.9h0.65v0.65h-0.65zM408.5 78.9h0.65v0.65h-0.65zM404.0 75.9h0.65v0.65h-0.65zM403.3 87.0h0.65v0.65h-0.65zM404.2 86.6h0.65v0.65h-0.65zM403.5 86.8h0.65v0.65h-0.65zM408.5 80.7h0.65v0.65h-0.65zM404.4 81.4h0.65v0.65h-0.65zM405.2 72.7h0.65v0.65h-0.65zM403.8 77.9h0.65v0.65h-0.65zM406.3 73.6h0.65v0.65h-0.65zM409.3 70.8h0.65v0.65h-0.65zM409.7 70.6h0.65v0.65h-0.65zM408.0 82.3h0.65v0.65h-0.65zM402.5 83.6h0.65v0.65h-0.65zM405.3 82.9h0.65v0.65h-0.65zM409.6 72.4h0.65v0.65h-0.65zM410.5 69.7h0.65v0.65h-0.65zM408.9 77.3h0.65v0.65h-0.65zM411.5 70.9h0.65v0.65h-0.65zM405.4 73.7h0.65v0.65h-0.65zM404.3 85.8h0.65v0.65h-0.65zM408.7 74.8h0.65v0.65h-0.65zM408.1 72.4h0.65v0.65h-0.65zM408.5 77.8h0.65v0.65h-0.65zM404.0 75.0h0.65v0.65h-0.65zM402.8 81.4h0.65v0.65h-0.65zM405.9 73.5h0.65v0.65h-0.65zM403.1 85.5h0.65v0.65h-0.65zM404.3 68.0h0.65v0.65h-0.65zM409.7 78.2h0.65v0.65h-0.65zM406.4 85.0h0.65v0.65h-0.65zM404.4 85.2h0.65v0.65h-0.65zM406.0 69.8h0.65v0.65h-0.65zM402.8 81.2h0.65v0.65h-0.65zM404.7 72.4h0.65v0.65h-0.65zM412.1 69.0h0.65v0.65h-0.65zM407.5 67.6h0.65v0.65h-0.65zM403.3 85.9h0.65v0.65h-0.65zM411.5 68.4h0.65v0.65h-0.65zM410.8 74.7h0.65v0.65h-0.65zM403.6 76.4h0.65v0.65h-0.65zM405.0 81.5h0.65v0.65h-0.65zM408.0 69.4h0.65v0.65h-0.65zM407.5 82.4h0.65v0.65h-0.65zM404.9 85.3h0.65v0.65h-0.65zM412.0 68.5h0.65v0.65h-0.65zM412.2 70.9h0.65v0.65h-0.65zM410.0 76.9h0.65v0.65h-0.65zM409.9 73.0h0.65v0.65h-0.65zM403.3 78.2h0.65v0.65h-0.65zM406.4 82.5h0.65v0.65h-0.65zM407.5 78.2h0.65v0.65h-0.65zM406.4 82.6h0.65v0.65h-0.65zM405.3 74.0h0.65v0.65h-0.65zM405.4 72.6h0.65v0.65h-0.65zM405.6 81.6h0.65v0.65h-0.65zM404.7 74.1h0.65v0.65h-0.65zM408.7 79.5h0.65v0.65h-0.65zM411.3 72.7h0.65v0.65h-0.65zM403.6 80.4h0.65v0.65h-0.65zM407.5 71.0h0.65v0.65h-0.65zM404.2 71.2h0.65v0.65h-0.65zM407.5 82.4h0.65v0.65h-0.65zM409.0 72.3h0.65v0.65h-0.65zM409.8 77.9h0.65v0.65h-0.65zM404.4 77.5h0.65v0.65h-0.65zM410.8 71.4h0.65v0.65h-0.65zM406.5 72.0h0.65v0.65h-0.65zM406.3 69.8h0.65v0.65h-0.65zM407.5 79.1h0.65v0.65h-0.65zM409.2 72.4h0.65v0.65h-0.65zM403.5 85.5h0.65v0.65h-0.65zM404.9 84.7h0.65v0.65h-0.65zM404.3 74.3h0.65v0.65h-0.65zM409.0 77.9h0.65v0.65h-0.65zM406.2 75.7h0.65v0.65h-0.65zM404.6 71.9h0.65v0.65h-0.65zM405.0 75.4h0.65v0.65h-0.65zM406.2 82.5h0.65v0.65h-0.65zM405.2 83.6h0.65v0.65h-0.65zM403.9 76.3h0.65v0.65h-0.65zM404.3 84.5h0.65v0.65h-0.65zM404.9 81.2h0.65v0.65h-0.65zM409.6 79.1h0.65v0.65h-0.65zM405.7 78.9h0.65v0.65h-0.65zM403.0 88.1h0.65v0.65h-0.65zM403.8 80.0h0.65v0.65h-0.65zM407.9 81.9h0.65v0.65h-0.65zM408.4 68.7h0.65v0.65h-0.65zM403.2 87.1h0.65v0.65h-0.65zM411.3 69.4h0.65v0.65h-0.65zM403.4 84.6h0.65v0.65h-0.65zM408.4 79.3h0.65v0.65h-0.65zM407.4 82.6h0.65v0.65h-0.65zM404.0 87.4h0.65v0.65h-0.65zM402.3 87.5h0.65v0.65h-0.65zM408.2 75.4h0.65v0.65h-0.65zM406.0 78.9h0.65v0.65h-0.65zM404.8 86.4h0.65v0.65h-0.65zM403.8 79.9h0.65v0.65h-0.65zM410.3 70.3h0.65v0.65h-0.65zM409.6 77.5h0.65v0.65h-0.65zM406.6 84.5h0.65v0.65h-0.65zM403.6 84.6h0.65v0.65h-0.65zM404.9 73.8h0.65v0.65h-0.65zM409.8 76.2h0.65v0.65h-0.65zM404.6 85.8h0.65v0.65h-0.65zM404.6 79.5h0.65v0.65h-0.65zM407.5 67.8h0.65v0.65h-0.65zM408.0 82.5h0.65v0.65h-0.65zM405.7 75.6h0.65v0.65h-0.65zM405.6 83.1h0.65v0.65h-0.65zM404.9 83.6h0.65v0.65h-0.65zM403.3 85.1h0.65v0.65h-0.65zM407.5 70.1h0.65v0.65h-0.65zM408.0 78.5h0.65v0.65h-0.65zM402.8 82.6h0.65v0.65h-0.65zM402.2 87.0h0.65v0.65h-0.65zM404.3 76.3h0.65v0.65h-0.65zM405.0 83.7h0.65v0.65h-0.65zM404.8 74.5h0.65v0.65h-0.65zM410.3 69.7h0.65v0.65h-0.65zM402.7 88.4h0.65v0.65h-0.65zM406.2 78.1h0.65v0.65h-0.65zM409.3 73.5h0.65v0.65h-0.65zM405.1 82.2h0.65v0.65h-0.65zM406.0 71.7h0.65v0.65h-0.65zM405.2 74.5h0.65v0.65h-0.65zM407.6 82.9h0.65v0.65h-0.65zM408.6 74.7h0.65v0.65h-0.65zM407.1 73.4h0.65v0.65h-0.65zM406.2 72.9h0.65v0.65h-0.65zM402.9 83.4h0.65v0.65h-0.65zM403.6 85.8h0.65v0.65h-0.65zM409.2 73.5h0.65v0.65h-0.65zM408.0 80.2h0.65v0.65h-0.65zM405.0 69.2h0.65v0.65h-0.65zM409.4 70.5h0.65v0.65h-0.65zM406.3 70.9h0.65v0.65h-0.65zM411.9 68.3h0.65v0.65h-0.65zM405.4 78.6h0.65v0.65h-0.65zM405.4 73.3h0.65v0.65h-0.65zM403.8 72.2h0.65v0.65h-0.65zM404.5 86.4h0.65v0.65h-0.65zM406.8 71.7h0.65v0.65h-0.65zM402.3 86.3h0.65v0.65h-0.65zM409.1 72.3h0.65v0.65h-0.65zM410.3 70.6h0.65v0.65h-0.65zM407.6 81.5h0.65v0.65h-0.65zM403.7 80.9h0.65v0.65h-0.65zM407.5 71.5h0.65v0.65h-0.65zM403.0 83.8h0.65v0.65h-0.65zM407.5 79.4h0.65v0.65h-0.65zM406.5 77.3h0.65v0.65h-0.65zM404.1 85.0h0.65v0.65h-0.65zM407.2 72.6h0.65v0.65h-0.65zM406.5 75.9h0.65v0.65h-0.65zM407.1 83.0h0.65v0.65h-0.65zM410.9 71.9h0.65v0.65h-0.65zM407.2 73.8h0.65v0.65h-0.65zM403.3 81.2h0.65v0.65h-0.65zM407.7 79.0h0.65v0.65h-0.65zM405.9 78.3h0.65v0.65h-0.65zM405.0 73.9h0.65v0.65h-0.65zM406.6 74.3h0.65v0.65h-0.65zM403.4 77.6h0.65v0.65h-0.65zM405.0 68.7h0.65v0.65h-0.65zM408.7 75.9h0.65v0.65h-0.65zM409.1 77.1h0.65v0.65h-0.65zM404.5 83.4h0.65v0.65h-0.65zM405.3 79.0h0.65v0.65h-0.65zM406.1 68.8h0.65v0.65h-0.65zM405.6 85.3h0.65v0.65h-0.65zM404.4 83.1h0.65v0.65h-0.65zM409.8 74.6h0.65v0.65h-0.65zM403.7 85.4h0.65v0.65h-0.65zM402.1 88.5h0.65v0.65h-0.65zM407.4 78.8h0.65v0.65h-0.65zM408.2 80.2h0.65v0.65h-0.65zM404.7 87.0h0.65v0.65h-0.65zM406.4 68.5h0.65v0.65h-0.65zM405.5 69.4h0.65v0.65h-0.65zM410.9 69.7h0.65v0.65h-0.65zM409.8 74.0h0.65v0.65h-0.65zM406.4 76.7h0.65v0.65h-0.65zM406.3 69.8h0.65v0.65h-0.65zM407.7 78.0h0.65v0.65h-0.65zM406.2 73.7h0.65v0.65h-0.65zM408.6 68.0h0.65v0.65h-0.65zM408.5 78.9h0.65v0.65h-0.65zM405.0 81.6h0.65v0.65h-0.65zM411.4 68.1h0.65v0.65h-0.65zM409.3 75.6h0.65v0.65h-0.65zM404.2 87.4h0.65v0.65h-0.65zM409.5 75.2h0.65v0.65h-0.65zM409.5 69.3h0.65v0.65h-0.65zM408.1 74.8h0.65v0.65h-0.65zM403.8 78.2h0.65v0.65h-0.65zM407.3 69.2h0.65v0.65h-0.65zM408.7 71.0h0.65v0.65h-0.65zM406.7 75.8h0.65v0.65h-0.65zM408.4 68.8h0.65v0.65h-0.65zM402.1 88.4h0.65v0.65h-0.65zM403.6 82.7h0.65v0.65h-0.65zM404.0 87.2h0.65v0.65h-0.65zM404.6 70.4h0.65v0.65h-0.65zM407.0 74.8h0.65v0.65h-0.65zM404.1 74.3h0.65v0.65h-0.65zM403.7 81.3h0.65v0.65h-0.65zM405.6 80.1h0.65v0.65h-0.65zM406.8 80.2h0.65v0.65h-0.65zM409.2 68.7h0.65v0.65h-0.65zM406.3 73.3h0.65v0.65h-0.65zM409.8 75.2h0.65v0.65h-0.65zM409.6 75.3h0.65v0.65h-0.65zM408.4 78.9h0.65v0.65h-0.65zM408.7 71.2h0.65v0.65h-0.65zM407.2 82.1h0.65v0.65h-0.65zM406.3 73.7h0.65v0.65h-0.65zM404.9 86.3h0.65v0.65h-0.65zM407.1 83.7h0.65v0.65h-0.65zM406.1 82.9h0.65v0.65h-0.65zM407.5 72.4h0.65v0.65h-0.65zM404.9 86.3h0.65v0.65h-0.65zM407.3 82.9h0.65v0.65h-0.65zM408.2 69.8h0.65v0.65h-0.65zM404.1 84.1h0.65v0.65h-0.65zM402.9 80.5h0.65v0.65h-0.65zM404.0 87.6h0.65v0.65h-0.65zM405.0 77.6h0.65v0.65h-0.65zM411.8 72.1h0.65v0.65h-0.65zM406.7 76.2h0.65v0.65h-0.65zM404.7 68.6h0.65v0.65h-0.65zM408.7 74.5h0.65v0.65h-0.65zM406.2 68.3h0.65v0.65h-0.65zM411.4 69.5h0.65v0.65h-0.65zM404.0 87.3h0.65v0.65h-0.65zM403.9 74.4h0.65v0.65h-0.65zM406.4 84.9h0.65v0.65h-0.65zM407.0 83.2h0.65v0.65h-0.65zM405.3 86.0h0.65v0.65h-0.65zM404.8 73.1h0.65v0.65h-0.65zM403.4 81.1h0.65v0.65h-0.65zM409.1 80.1h0.65v0.65h-0.65zM402.8 81.6h0.65v0.65h-0.65zM402.2 88.5h0.65v0.65h-0.65zM403.2 83.3h0.65v0.65h-0.65zM405.8 84.1h0.65v0.65h-0.65zM406.0 83.5h0.65v0.65h-0.65zM405.5 71.2h0.65v0.65h-0.65zM403.4 86.8h0.65v0.65h-0.65zM408.1 80.8h0.65v0.65h-0.65zM405.0 77.8h0.65v0.65h-0.65zM404.2 84.0h0.65v0.65h-0.65zM402.3 88.4h0.65v0.65h-0.65zM406.6 71.1h0.65v0.65h-0.65zM405.0 86.9h0.65v0.65h-0.65zM406.9 77.5h0.65v0.65h-0.65zM402.8 82.6h0.65v0.65h-0.65zM402.9 86.0h0.65v0.65h-0.65zM403.0 88.0h0.65v0.65h-0.65zM404.0 76.9h0.65v0.65h-0.65zM404.3 70.1h0.65v0.65h-0.65zM406.0 85.1h0.65v0.65h-0.65zM405.6 84.9h0.65v0.65h-0.65zM406.7 84.5h0.65v0.65h-0.65zM410.7 71.3h0.65v0.65h-0.65zM406.4 68.4h0.65v0.65h-0.65zM405.4 78.9h0.65v0.65h-0.65zM412.7 68.2h0.65v0.65h-0.65zM410.3 74.7h0.65v0.65h-0.65zM404.1 82.2h0.65v0.65h-0.65zM407.8 76.5h0.65v0.65h-0.65zM404.9 82.6h0.65v0.65h-0.65zM406.5 68.4h0.65v0.65h-0.65zM404.1 78.0h0.65v0.65h-0.65zM405.1 86.2h0.65v0.65h-0.65zM408.4 75.1h0.65v0.65h-0.65zM404.8 83.6h0.65v0.65h-0.65zM406.7 76.4h0.65v0.65h-0.65z" fill="#ff1a1a"/>
<path d="M395.7 58.6h0.7v0.7h-0.7zM400.2 65.8h0.7v0.7h-0.7zM395.5 51.2h0.7v0.7h-0.7zM399.7 66.8h0.7v0.7h-0.7zM391.9 58.7h0.7v0.7h-0.7zM397.9 62.4h0.7v0.7h-0.7zM399.6 57.5h0.7v0.7h-0.7zM400.5 65.5h0.7v0.7h-0.7zM395.2 62.3h0.7v0.7h-0.7zM393.4 64.3h0.7v0.7h-0.7zM398.2 57.9h0.7v0.7h-0.7zM400.0 64.1h0.7v0.7h-0.7zM390.2 17.0h0.7v0.7h-0.7zM393.0 47.2h0.7v0.7h-0.7zM399.5 64.2h0.7v0.7h-0.7zM391.6 48.9h0.7v0.7h-0.7zM395.3 58.0h0.7v0.7h-0.7zM389.0 60.4h0.7v0.7h-0.7zM400.0 62.8h0.7v0.7h-0.7zM397.1 51.8h0.7v0.7h-0.7zM400.3 66.6h0.7v0.7h-0.7zM397.4 63.1h0.7v0.7h-0.7zM397.7 62.1h0.7v0.7h-0.7zM400.6 64.6h0.7v0.7h-0.7zM391.1 64.8h0.7v0.7h-0.7zM392.0 66.1h0.7v0.7h-0.7zM400.5 60.3h0.7v0.7h-0.7zM392.9 63.3h0.7v0.7h-0.7zM394.1 65.1h0.7v0.7h-0.7zM397.2 54.7h0.7v0.7h-0.7zM400.4 59.2h0.7v0.7h-0.7zM395.3 56.7h0.7v0.7h-0.7zM391.5 65.9h0.7v0.7h-0.7zM392.7 67.1h0.7v0.7h-0.7zM393.2 61.3h0.7v0.7h-0.7zM400.5 58.1h0.7v0.7h-0.7zM394.5 58.6h0.7v0.7h-0.7zM396.1 66.7h0.7v0.7h-0.7zM399.1 65.5h0.7v0.7h-0.7zM398.5 63.6h0.7v0.7h-0.7zM400.5 65.6h0.7v0.7h-0.7zM396.5 61.8h0.7v0.7h-0.7zM387.9 55.1h0.7v0.7h-0.7zM398.3 61.5h0.7v0.7h-0.7zM395.1 61.9h0.7v0.7h-0.7zM391.7 64.8h0.7v0.7h-0.7zM388.6 60.8h0.7v0.7h-0.7zM393.7 52.1h0.7v0.7h-0.7zM392.6 55.1h0.7v0.7h-0.7zM399.3 59.0h0.7v0.7h-0.7zM387.6 53.4h0.7v0.7h-0.7zM400.3 66.1h0.7v0.7h-0.7zM388.9 59.4h0.7v0.7h-0.7zM400.5 58.7h0.7v0.7h-0.7zM390.1 58.5h0.7v0.7h-0.7zM395.1 65.2h0.7v0.7h-0.7zM388.5 48.6h0.7v0.7h-0.7zM397.7 64.0h0.7v0.7h-0.7zM395.2 59.8h0.7v0.7h-0.7zM393.1 67.1h0.7v0.7h-0.7zM387.6 53.9h0.7v0.7h-0.7zM392.5 65.2h0.7v0.7h-0.7zM400.0 61.7h0.7v0.7h-0.7zM399.1 64.7h0.7v0.7h-0.7zM390.8 57.1h0.7v0.7h-0.7zM395.4 65.1h0.7v0.7h-0.7zM400.6 60.7h0.7v0.7h-0.7zM393.8 62.2h0.7v0.7h-0.7zM390.6 66.6h0.7v0.7h-0.7zM395.9 66.9h0.7v0.7h-0.7zM399.8 66.9h0.7v0.7h-0.7zM399.5 66.2h0.7v0.7h-0.7zM390.8 66.8h0.7v0.7h-0.7zM389.1 45.1h0.7v0.7h-0.7zM398.7 56.9h0.7v0.7h-0.7zM396.2 67.7h0.7v0.7h-0.7zM394.5 61.1h0.7v0.7h-0.7zM390.0 54.5h0.7v0.7h-0.7zM396.4 45.5h0.7v0.7h-0.7zM393.1 67.2h0.7v0.7h-0.7zM397.9 58.9h0.7v0.7h-0.7zM399.4 66.7h0.7v0.7h-0.7zM395.6 55.5h0.7v0.7h-0.7zM394.0 59.9h0.7v0.7h-0.7zM399.7 57.9h0.7v0.7h-0.7zM384.9 44.7h0.7v0.7h-0.7zM389.6 55.6h0.7v0.7h-0.7zM396.8 65.8h0.7v0.7h-0.7zM389.9 65.8h0.7v0.7h-0.7zM395.7 55.4h0.7v0.7h-0.7zM391.9 67.8h0.7v0.7h-0.7zM398.0 64.7h0.7v0.7h-0.7zM393.6 67.2h0.7v0.7h-0.7zM398.6 54.2h0.7v0.7h-0.7zM398.9 42.8h0.7v0.7h-0.7zM388.7 63.9h0.7v0.7h-0.7zM395.0 53.8h0.7v0.7h-0.7zM389.7 67.9h0.7v0.7h-0.7zM395.5 64.5h0.7v0.7h-0.7zM391.6 42.8h0.7v0.7h-0.7zM395.6 60.0h0.7v0.7h-0.7zM389.0 64.8h0.7v0.7h-0.7zM393.7 50.3h0.7v0.7h-0.7zM397.4 61.1h0.7v0.7h-0.7zM394.9 56.5h0.7v0.7h-0.7zM395.2 65.3h0.7v0.7h-0.7zM398.6 65.0h0.7v0.7h-0.7zM389.4 66.3h0.7v0.7h-0.7zM397.1 66.2h0.7v0.7h-0.7zM397.7 67.0h0.7v0.7h-0.7zM392.4 64.9h0.7v0.7h-0.7zM397.6 56.8h0.7v0.7h-0.7zM391.5 60.0h0.7v0.7h-0.7zM395.6 65.7h0.7v0.7h-0.7zM398.2 54.8h0.7v0.7h-0.7zM400.4 66.8h0.7v0.7h-0.7zM390.3 61.2h0.7v0.7h-0.7zM400.4 60.4h0.7v0.7h-0.7zM400.3 66.0h0.7v0.7h-0.7zM400.7 53.4h0.7v0.7h-0.7zM398.7 60.0h0.7v0.7h-0.7zM395.7 67.4h0.7v0.7h-0.7zM389.7 54.8h0.7v0.7h-0.7zM394.6 67.0h0.7v0.7h-0.7zM395.3 64.6h0.7v0.7h-0.7zM400.4 62.3h0.7v0.7h-0.7zM394.5 33.8h0.7v0.7h-0.7zM393.8 66.8h0.7v0.7h-0.7zM397.9 58.1h0.7v0.7h-0.7zM398.8 66.3h0.7v0.7h-0.7zM393.1 63.3h0.7v0.7h-0.7zM395.5 66.2h0.7v0.7h-0.7zM399.4 57.8h0.7v0.7h-0.7zM397.8 60.0h0.7v0.7h-0.7zM399.7 65.0h0.7v0.7h-0.7zM400.2 63.1h0.7v0.7h-0.7zM400.6 66.1h0.7v0.7h-0.7zM389.3 36.6h0.7v0.7h-0.7zM399.4 66.8h0.7v0.7h-0.7zM400.6 60.9h0.7v0.7h-0.7zM394.7 67.3h0.7v0.7h-0.7zM392.8 50.7h0.7v0.7h-0.7zM390.0 66.1h0.7v0.7h-0.7zM394.9 64.1h0.7v0.7h-0.7zM396.9 66.9h0.7v0.7h-0.7zM392.7 63.3h0.7v0.7h-0.7zM397.6 67.5h0.7v0.7h-0.7zM388.8 67.4h0.7v0.7h-0.7zM392.0 65.9h0.7v0.7h-0.7zM389.1 67.6h0.7v0.7h-0.7zM400.5 55.0h0.7v0.7h-0.7zM399.7 47.9h0.7v0.7h-0.7zM395.3 54.8h0.7v0.7h-0.7zM388.2 48.2h0.7v0.7h-0.7zM395.8 67.3h0.7v0.7h-0.7zM400.6 65.2h0.7v0.7h-0.7zM390.0 57.1h0.7v0.7h-0.7zM400.0 54.7h0.7v0.7h-0.7zM396.8 59.6h0.7v0.7h-0.7zM392.8 64.5h0.7v0.7h-0.7zM392.2 64.3h0.7v0.7h-0.7zM400.4 56.3h0.7v0.7h-0.7zM397.2 62.1h0.7v0.7h-0.7zM386.7 51.2h0.7v0.7h-0.7zM398.3 65.1h0.7v0.7h-0.7zM388.9 67.1h0.7v0.7h-0.7zM397.4 65.4h0.7v0.7h-0.7zM390.7 67.8h0.7v0.7h-0.7zM389.9 47.8h0.7v0.7h-0.7zM390.8 61.9h0.7v0.7h-0.7zM386.4 45.8h0.7v0.7h-0.7zM390.0 66.0h0.7v0.7h-0.7zM393.4 67.8h0.7v0.7h-0.7zM395.1 31.6h0.7v0.7h-0.7zM398.8 56.8h0.7v0.7h-0.7zM400.4 58.5h0.7v0.7h-0.7zM398.0 67.4h0.7v0.7h-0.7zM396.4 66.7h0.7v0.7h-0.7zM400.2 56.3h0.7v0.7h-0.7zM393.5 65.1h0.7v0.7h-0.7zM388.4 46.5h0.7v0.7h-0.7zM399.6 65.3h0.7v0.7h-0.7zM392.3 49.2h0.7v0.7h-0.7zM388.8 66.7h0.7v0.7h-0.7zM400.6 65.9h0.7v0.7h-0.7zM386.5 52.7h0.7v0.7h-0.7zM397.5 55.6h0.7v0.7h-0.7zM399.0 62.0h0.7v0.7h-0.7zM397.3 55.3h0.7v0.7h-0.7zM399.4 56.4h0.7v0.7h-0.7zM397.9 66.0h0.7v0.7h-0.7zM389.7 59.8h0.7v0.7h-0.7zM397.1 65.8h0.7v0.7h-0.7zM393.4 67.0h0.7v0.7h-0.7zM396.6 67.1h0.7v0.7h-0.7zM397.1 66.4h0.7v0.7h-0.7zM398.0 66.9h0.7v0.7h-0.7zM392.9 67.3h0.7v0.7h-0.7zM386.9 52.4h0.7v0.7h-0.7zM399.7 62.0h0.7v0.7h-0.7zM400.3 52.0h0.7v0.7h-0.7zM396.4 57.5h0.7v0.7h-0.7zM393.9 64.9h0.7v0.7h-0.7zM388.3 64.4h0.7v0.7h-0.7zM400.6 62.7h0.7v0.7h-0.7zM391.8 13.9h0.7v0.7h-0.7zM391.1 17.0h0.7v0.7h-0.7zM398.9 32.9h0.7v0.7h-0.7zM396.8 33.7h0.7v0.7h-0.7zM400.4 34.5h0.7v0.7h-0.7z" fill="#1a1aff"/>
<path d="M404.9 67.8h0.7v0.7h-0.7zM405.6 62.5h0.7v0.7h-0.7zM416.1 66.0h0.7v0.7h-0.7zM409.2 59.5h0.7v0.7h-0.7zM417.6 58.6h0.7v0.7h-0.7zM406.1 63.6h0.7v0.7h-0.7zM413.3 66.9h0.7v0.7h-0.7zM408.6 64.8h0.7v0.7h-0.7zM402.9 64.9h0.7v0.7h-0.7zM408.7 57.0h0.7v0.7h-0.7zM404.3 60.8h0.7v0.7h-0.7zM406.1 60.0h0.7v0.7h-0.7zM405.3 60.4h0.7v0.7h-0.7zM404.2 60.0h0.7v0.7h-0.7zM408.3 62.8h0.7v0.7h-0.7zM409.9 47.1h0.7v0.7h-0.7zM404.3 62.0h0.7v0.7h-0.7zM407.0 66.4h0.7v0.7h-0.7zM418.0 59.8h0.7v0.7h-0.7zM403.4 53.7h0.7v0.7h-0.7zM408.2 64.4h0.7v0.7h-0.7zM410.1 21.8h0.7v0.7h-0.7zM413.5 62.8h0.7v0.7h-0.7zM405.6 66.6h0.7v0.7h-0.7zM403.0 66.1h0.7v0.7h-0.7zM404.5 66.4h0.7v0.7h-0.7zM415.1 67.2h0.7v0.7h-0.7zM403.9 61.1h0.7v0.7h-0.7zM407.1 39.7h0.7v0.7h-0.7zM413.6 62.5h0.7v0.7h-0.7zM406.9 67.7h0.7v0.7h-0.7zM406.5 63.0h0.7v0.7h-0.7zM406.9 62.8h0.7v0.7h-0.7zM415.3 62.6h0.7v0.7h-0.7zM406.5 59.1h0.7v0.7h-0.7zM408.4 67.6h0.7v0.7h-0.7zM403.4 56.3h0.7v0.7h-0.7zM427.5 18.1h0.7v0.7h-0.7zM404.5 67.9h0.7v0.7h-0.7zM409.1 52.4h0.7v0.7h-0.7zM418.7 51.9h0.7v0.7h-0.7zM405.8 62.6h0.7v0.7h-0.7zM414.2 65.2h0.7v0.7h-0.7zM403.0 63.3h0.7v0.7h-0.7zM403.0 63.4h0.7v0.7h-0.7zM408.7 66.4h0.7v0.7h-0.7zM407.0 55.7h0.7v0.7h-0.7zM403.5 64.9h0.7v0.7h-0.7zM418.6 66.6h0.7v0.7h-0.7zM403.3 63.5h0.7v0.7h-0.7zM412.3 23.8h0.7v0.7h-0.7zM403.2 62.5h0.7v0.7h-0.7zM409.9 62.7h0.7v0.7h-0.7zM415.2 65.4h0.7v0.7h-0.7zM403.0 65.9h0.7v0.7h-0.7zM405.6 60.7h0.7v0.7h-0.7zM403.0 45.0h0.7v0.7h-0.7zM413.4 67.1h0.7v0.7h-0.7zM405.4 66.8h0.7v0.7h-0.7zM403.6 64.2h0.7v0.7h-0.7zM405.2 66.5h0.7v0.7h-0.7zM408.4 53.2h0.7v0.7h-0.7zM405.9 61.8h0.7v0.7h-0.7zM403.0 62.4h0.7v0.7h-0.7zM404.2 61.2h0.7v0.7h-0.7zM403.1 65.2h0.7v0.7h-0.7zM403.1 55.7h0.7v0.7h-0.7zM418.9 65.7h0.7v0.7h-0.7zM411.1 67.6h0.7v0.7h-0.7zM402.9 63.0h0.7v0.7h-0.7zM419.7 64.7h0.7v0.7h-0.7zM414.7 55.9h0.7v0.7h-0.7zM403.2 53.1h0.7v0.7h-0.7zM417.2 41.1h0.7v0.7h-0.7zM417.3 66.8h0.7v0.7h-0.7zM418.5 49.2h0.7v0.7h-0.7zM407.4 55.0h0.7v0.7h-0.7zM418.7 54.1h0.7v0.7h-0.7zM408.3 65.1h0.7v0.7h-0.7zM406.4 58.7h0.7v0.7h-0.7zM412.8 55.8h0.7v0.7h-0.7zM407.5 45.3h0.7v0.7h-0.7zM414.6 67.2h0.7v0.7h-0.7zM415.2 64.6h0.7v0.7h-0.7zM407.1 63.6h0.7v0.7h-0.7zM405.2 53.1h0.7v0.7h-0.7zM414.7 63.3h0.7v0.7h-0.7zM403.0 66.9h0.7v0.7h-0.7zM420.4 50.4h0.7v0.7h-0.7zM403.8 62.3h0.7v0.7h-0.7zM404.4 63.1h0.7v0.7h-0.7zM406.5 52.2h0.7v0.7h-0.7zM413.7 46.9h0.7v0.7h-0.7zM406.7 67.3h0.7v0.7h-0.7zM408.3 59.0h0.7v0.7h-0.7zM403.0 64.3h0.7v0.7h-0.7zM410.0 53.6h0.7v0.7h-0.7zM417.0 63.2h0.7v0.7h-0.7zM403.0 57.6h0.7v0.7h-0.7zM404.9 57.0h0.7v0.7h-0.7zM410.8 63.6h0.7v0.7h-0.7zM406.4 54.9h0.7v0.7h-0.7zM415.3 41.7h0.7v0.7h-0.7zM405.9 54.0h0.7v0.7h-0.7zM415.7 66.7h0.7v0.7h-0.7zM403.6 66.5h0.7v0.7h-0.7zM418.8 64.1h0.7v0.7h-0.7zM404.5 64.1h0.7v0.7h-0.7zM406.8 66.1h0.7v0.7h-0.7zM415.9 53.5h0.7v0.7h-0.7zM411.4 62.9h0.7v0.7h-0.7zM405.3 48.1h0.7v0.7h-0.7zM408.7 67.6h0.7v0.7h-0.7zM404.5 64.5h0.7v0.7h-0.7zM406.9 56.8h0.7v0.7h-0.7zM411.0 59.7h0.7v0.7h-0.7zM406.5 58.6h0.7v0.7h-0.7zM406.3 45.5h0.7v0.7h-0.7zM405.5 64.0h0.7v0.7h-0.7zM408.2 66.3h0.7v0.7h-0.7zM417.6 62.1h0.7v0.7h-0.7zM415.8 63.7h0.7v0.7h-0.7zM406.6 59.2h0.7v0.7h-0.7zM403.6 55.6h0.7v0.7h-0.7zM408.3 59.1h0.7v0.7h-0.7zM415.6 49.8h0.7v0.7h-0.7zM418.9 54.3h0.7v0.7h-0.7zM411.5 66.8h0.7v0.7h-0.7zM404.7 60.6h0.7v0.7h-0.7zM415.5 59.0h0.7v0.7h-0.7zM403.1 64.4h0.7v0.7h-0.7zM403.9 66.0h0.7v0.7h-0.7zM409.6 53.4h0.7v0.7h-0.7zM403.0 67.7h0.7v0.7h-0.7zM409.9 60.0h0.7v0.7h-0.7zM409.5 63.9h0.7v0.7h-0.7zM419.3 65.9h0.7v0.7h-0.7zM405.6 55.0h0.7v0.7h-0.7zM407.9 66.2h0.7v0.7h-0.7zM414.1 58.3h0.7v0.7h-0.7zM415.9 44.4h0.7v0.7h-0.7zM411.8 67.8h0.7v0.7h-0.7zM418.9 66.5h0.7v0.7h-0.7zM414.4 64.4h0.7v0.7h-0.7zM407.1 66.6h0.7v0.7h-0.7zM421.1 30.9h0.7v0.7h-0.7zM403.4 62.8h0.7v0.7h-0.7zM407.7 67.0h0.7v0.7h-0.7zM422.6 48.9h0.7v0.7h-0.7zM415.4 64.1h0.7v0.7h-0.7zM408.0 53.8h0.7v0.7h-0.7zM408.1 67.6h0.7v0.7h-0.7zM412.6 60.9h0.7v0.7h-0.7zM404.4 59.0h0.7v0.7h-0.7zM407.7 59.6h0.7v0.7h-0.7zM409.4 66.7h0.7v0.7h-0.7zM414.7 54.1h0.7v0.7h-0.7zM404.0 65.7h0.7v0.7h-0.7zM411.2 59.1h0.7v0.7h-0.7zM403.2 67.8h0.7v0.7h-0.7zM404.2 39.2h0.7v0.7h-0.7zM416.0 67.0h0.7v0.7h-0.7zM408.1 61.5h0.7v0.7h-0.7zM415.1 60.2h0.7v0.7h-0.7zM408.4 67.0h0.7v0.7h-0.7zM403.3 52.9h0.7v0.7h-0.7zM418.5 66.7h0.7v0.7h-0.7zM409.3 67.0h0.7v0.7h-0.7zM418.5 60.4h0.7v0.7h-0.7zM419.2 57.4h0.7v0.7h-0.7zM403.0 53.5h0.7v0.7h-0.7zM407.0 58.9h0.7v0.7h-0.7zM404.4 63.3h0.7v0.7h-0.7zM414.3 59.5h0.7v0.7h-0.7zM415.1 53.5h0.7v0.7h-0.7zM415.9 56.1h0.7v0.7h-0.7zM405.7 64.9h0.7v0.7h-0.7zM403.6 61.8h0.7v0.7h-0.7zM408.7 61.9h0.7v0.7h-0.7zM403.2 58.6h0.7v0.7h-0.7zM414.0 58.7h0.7v0.7h-0.7zM403.9 67.7h0.7v0.7h-0.7zM410.4 65.5h0.7v0.7h-0.7zM410.1 60.8h0.7v0.7h-0.7zM405.3 40.2h0.7v0.7h-0.7zM403.2 63.3h0.7v0.7h-0.7zM404.0 67.7h0.7v0.7h-0.7zM413.0 52.6h0.7v0.7h-0.7zM403.8 60.9h0.7v0.7h-0.7zM409.1 64.1h0.7v0.7h-0.7zM403.4 64.3h0.7v0.7h-0.7zM414.5 67.5h0.7v0.7h-0.7zM409.0 62.9h0.7v0.7h-0.7zM419.6 61.4h0.7v0.7h-0.7zM407.1 65.5h0.7v0.7h-0.7zM420.4 20.2h0.7v0.7h-0.7z" fill="#ff1a1a"/>
<line x1="362.30" y1="67.93" x2="440.50" y2="67.93" stroke="#888" stroke-width="0.4" stroke-dasharray="1.2,1"/>
<text x="361.30" y="90.00" font-size="3.9" text-anchor="end" fill="#333" >0</text>
<text x="361.30" y="74.10" font-size="3.9" text-anchor="end" fill="#333" >1</text>
<text x="361.30" y="58.20" font-size="3.9" text-anchor="end" fill="#333" >2</text>
<text x="361.30" y="42.30" font-size="3.9" text-anchor="end" fill="#333" >3</text>
<text x="361.30" y="26.40" font-size="3.9" text-anchor="end" fill="#333" >4</text>
<text x="361.30" y="10.50" font-size="3.9" text-anchor="end" fill="#333" >5</text>
<text x="372.30" y="96.40" font-size="3.8" text-anchor="middle" fill="#222" >−2</text>
<text x="386.60" y="96.40" font-size="3.8" text-anchor="middle" fill="#222" >−1</text>
<text x="401.80" y="96.40" font-size="3.8" text-anchor="middle" fill="#222" >0</text>
<text x="416.10" y="96.40" font-size="3.8" text-anchor="middle" fill="#222" >1</text>
<text x="430.40" y="96.40" font-size="3.8" text-anchor="middle" fill="#222" >2</text>
<text x="384.80" y="99.90" font-size="3.9" text-anchor="start" font-weight="bold" fill="#000" textLength="33.30" lengthAdjust="spacingAndGlyphs" >Log2 Fold Change</text>
<text transform="translate(356.60,51.20) rotate(-90)" font-size="3.7" text-anchor="middle" font-weight="bold" fill="#111" textLength="34.50" lengthAdjust="spacingAndGlyphs" >−Log10(adj. p-value)</text>
<text x="365.60" y="14.60" font-size="3.2" text-anchor="start" fill="#222" textLength="14.40" lengthAdjust="spacingAndGlyphs" >Enrichment</text>
<circle cx="367.10" cy="16.30" r="0.55" fill="#f00" />
<text x="369.30" y="17.40" font-size="2.9" text-anchor="start" fill="#222" textLength="7.90" lengthAdjust="spacingAndGlyphs" >SAHA</text>
<circle cx="367.10" cy="19.20" r="0.55" fill="#00f" />
<text x="369.30" y="20.30" font-size="2.9" text-anchor="start" fill="#222" textLength="8.30" lengthAdjust="spacingAndGlyphs" >DMSO</text>
<text x="422.80" y="14.50" font-size="3.1" text-anchor="start" fill="#111" textLength="9.40" lengthAdjust="spacingAndGlyphs" text-rendering="geometricPrecision" >PBOX6</text>
<text x="428.10" y="25.80" font-size="3.1" text-anchor="start" fill="#111" textLength="9.30" lengthAdjust="spacingAndGlyphs" text-rendering="geometricPrecision" >SMIM2</text>
<text x="424.00" y="33.40" font-size="3.1" text-anchor="start" fill="#111" textLength="12.90" lengthAdjust="spacingAndGlyphs" text-rendering="geometricPrecision" >SERPIH1</text>
<text x="429.30" y="37.20" font-size="3.1" text-anchor="start" fill="#111" textLength="7.60" lengthAdjust="spacingAndGlyphs" text-rendering="geometricPrecision" >CSK1</text>
<text x="426.60" y="41.00" font-size="3.1" text-anchor="start" fill="#111" textLength="10.80" lengthAdjust="spacingAndGlyphs" text-rendering="geometricPrecision" >LMNCas</text>
<text x="429.40" y="47.40" font-size="3.1" text-anchor="start" fill="#111" textLength="9.80" lengthAdjust="spacingAndGlyphs" text-rendering="geometricPrecision" >KCTC47</text>
<text x="427.00" y="51.20" font-size="3.1" text-anchor="start" fill="#111" textLength="9.00" lengthAdjust="spacingAndGlyphs" text-rendering="geometricPrecision" >CREG1</text>
<text x="428.40" y="54.60" font-size="3.1" text-anchor="start" fill="#111" textLength="6.20" lengthAdjust="spacingAndGlyphs" text-rendering="geometricPrecision" >TAF6</text>
<text x="374.30" y="33.30" font-size="3.1" text-anchor="start" fill="#111" textLength="9.60" lengthAdjust="spacingAndGlyphs" text-rendering="geometricPrecision" >KIF13B</text>
<text x="371.40" y="37.50" font-size="3.1" text-anchor="start" fill="#111" textLength="9.30" lengthAdjust="spacingAndGlyphs" text-rendering="geometricPrecision" >UBE2C</text>
<text x="368.20" y="40.70" font-size="3.1" text-anchor="start" fill="#111" textLength="9.00" lengthAdjust="spacingAndGlyphs" text-rendering="geometricPrecision" >PCLAF</text>
<text x="369.00" y="43.90" font-size="3.1" text-anchor="start" fill="#111" textLength="7.40" lengthAdjust="spacingAndGlyphs" text-rendering="geometricPrecision" >NASP1</text>
<text x="370.80" y="47.70" font-size="3.1" text-anchor="start" fill="#111" textLength="13.70" lengthAdjust="spacingAndGlyphs" text-rendering="geometricPrecision" >SGPP2ABN</text>
<text x="376.10" y="52.10" font-size="3.1" text-anchor="start" fill="#111" textLength="9.00" lengthAdjust="spacingAndGlyphs" text-rendering="geometricPrecision" >SEMP</text>
<text x="377.20" y="55.70" font-size="3.1" text-anchor="start" fill="#111" textLength="7.60" lengthAdjust="spacingAndGlyphs" text-rendering="geometricPrecision" >APOE</text>
<text x="367.00" y="58.90" font-size="3.1" text-anchor="start" fill="#111" textLength="7.90" lengthAdjust="spacingAndGlyphs" text-rendering="geometricPrecision" >PKIB</text>
<circle cx="421.50" cy="13.50" r="0.60" fill="#f22" />
<circle cx="429.30" cy="46.40" r="0.50" fill="#222" />
<rect x="395.20" y="62.90" width="12.40" height="4.00" fill="#eee" stroke="#888" stroke-width="0.35" rx="0.8"/>
<text x="396.40" y="65.90" font-size="2.9" text-anchor="start" fill="#222" textLength="10.00" lengthAdjust="spacingAndGlyphs" >BCLAF1</text>
<rect x="456.90" y="9.90" width="17.40" height="83.50" fill="#fff" stroke="#ccc" stroke-width="0.4" />
<line x1="456.90" y1="12.80" x2="474.30" y2="12.80" stroke="#eee" stroke-width="0.4" />
<line x1="456.90" y1="28.45" x2="474.30" y2="28.45" stroke="#eee" stroke-width="0.4" />
<line x1="456.90" y1="44.10" x2="474.30" y2="44.10" stroke="#eee" stroke-width="0.4" />
<line x1="456.90" y1="59.75" x2="474.30" y2="59.75" stroke="#eee" stroke-width="0.4" />
<line x1="456.90" y1="75.40" x2="474.30" y2="75.40" stroke="#eee" stroke-width="0.4" />
<line x1="456.90" y1="91.05" x2="474.30" y2="91.05" stroke="#eee" stroke-width="0.4" />
<line x1="456.90" y1="4.98" x2="474.30" y2="4.98" stroke="#f6f6f6" stroke-width="0.3" />
<line x1="456.90" y1="20.62" x2="474.30" y2="20.62" stroke="#f6f6f6" stroke-width="0.3" />
<line x1="456.90" y1="36.27" x2="474.30" y2="36.27" stroke="#f6f6f6" stroke-width="0.3" />
<line x1="456.90" y1="51.93" x2="474.30" y2="51.93" stroke="#f6f6f6" stroke-width="0.3" />
<line x1="456.90" y1="67.58" x2="474.30" y2="67.58" stroke="#f6f6f6" stroke-width="0.3" />
<line x1="456.90" y1="83.22" x2="474.30" y2="83.22" stroke="#f6f6f6" stroke-width="0.3" />
<line x1="461.00" y1="9.90" x2="461.00" y2="93.40" stroke="#eee" stroke-width="0.4" />
<line x1="469.80" y1="9.90" x2="469.80" y2="93.40" stroke="#eee" stroke-width="0.4" />
<text x="455.40" y="14.10" font-size="3.5" text-anchor="end" fill="#333" >1.0</text>
<text x="455.40" y="29.75" font-size="3.5" text-anchor="end" fill="#333" >0.5</text>
<text x="455.40" y="45.40" font-size="3.5" text-anchor="end" fill="#333" >0.0</text>
<text x="455.40" y="61.05" font-size="3.5" text-anchor="end" fill="#333" >−0.5</text>
<text x="455.40" y="76.70" font-size="3.5" text-anchor="end" fill="#333" >−1.0</text>
<text x="455.40" y="92.35" font-size="3.5" text-anchor="end" fill="#333" >−1.5</text>
<line x1="460.80" y1="13.50" x2="460.80" y2="27.50" stroke="#00c" stroke-width="0.4" />
<rect x="458.80" y="15.60" width="4.10" height="5.40" fill="#2040e8" stroke="#00a" stroke-width="0.3" />
<circle cx="460.80" cy="13.50" r="0.70" fill="#00f" />
<circle cx="460.80" cy="27.50" r="0.70" fill="#00f" />
<line x1="469.40" y1="50.40" x2="469.40" y2="88.70" stroke="#e00" stroke-width="0.4" />
<rect x="467.30" y="62.10" width="4.30" height="20.80" fill="#e53535" stroke="#b00" stroke-width="0.3" />
<line x1="467.30" y1="73.10" x2="471.60" y2="73.10" stroke="#900" stroke-width="0.3" />
<circle cx="469.40" cy="50.40" r="0.70" fill="#e00" />
<circle cx="469.40" cy="88.70" r="0.70" fill="#e00" />
<circle cx="469.90" cy="66.00" r="0.45" fill="#a00" />
<circle cx="469.00" cy="80.30" r="0.45" fill="#a00" />
<text x="458.80" y="35.90" font-size="2.9" text-anchor="start" fill="#333" textLength="6.20" lengthAdjust="spacingAndGlyphs" text-rendering="geometricPrecision" >p value</text>
<text x="458.80" y="38.90" font-size="2.9" text-anchor="start" fill="#333" textLength="5.20" lengthAdjust="spacingAndGlyphs" text-rendering="geometricPrecision" >0.001</text>
<text transform="translate(445.80,51.50) rotate(-90)" font-size="3.9" text-anchor="middle" font-weight="bold" fill="#000" textLength="30.00" lengthAdjust="spacingAndGlyphs" >Z-score (Protein)</text>
<text x="453.00" y="96.00" font-size="3.2" text-anchor="start" fill="#333" textLength="14.20" lengthAdjust="spacingAndGlyphs" text-rendering="geometricPrecision" >Enrichment</text>
<circle cx="454.30" cy="98.30" r="0.60" fill="#00f" />
<text x="455.80" y="99.20" font-size="2.8" text-anchor="start" fill="#333" textLength="9.20" lengthAdjust="spacingAndGlyphs" text-rendering="geometricPrecision" >DMSO</text>
<circle cx="467.80" cy="98.30" r="0.60" fill="#e00" />
<text x="469.90" y="99.20" font-size="2.8" text-anchor="start" fill="#333" textLength="7.40" lengthAdjust="spacingAndGlyphs" text-rendering="geometricPrecision" >SAHA</text>
<text x="499.60" y="9.90" font-size="8.6" text-anchor="start" font-weight="bold" fill="#000" stroke="#000" stroke-width="0.3" >D</text>
<rect x="510.70" y="6.80" width="93.70" height="85.50" fill="#fff" stroke="#d8d8d8" stroke-width="0.4" />
<line x1="515.60" y1="6.80" x2="515.60" y2="92.30" stroke="#ececec" stroke-width="0.4" />
<line x1="529.70" y1="6.80" x2="529.70" y2="92.30" stroke="#ececec" stroke-width="0.4" />
<line x1="586.10" y1="6.80" x2="586.10" y2="92.30" stroke="#ececec" stroke-width="0.4" />
<line x1="600.20" y1="6.80" x2="600.20" y2="92.30" stroke="#ececec" stroke-width="0.4" />
<line x1="510.70" y1="76.40" x2="604.40" y2="76.40" stroke="#f2f2f2" stroke-width="0.35" />
<line x1="510.70" y1="54.00" x2="604.40" y2="54.00" stroke="#f2f2f2" stroke-width="0.35" />
<line x1="510.70" y1="31.60" x2="604.40" y2="31.60" stroke="#f2f2f2" stroke-width="0.35" />
<line x1="510.70" y1="9.20" x2="604.40" y2="9.20" stroke="#f2f2f2" stroke-width="0.35" />
<line x1="510.70" y1="87.60" x2="604.40" y2="87.60" stroke="#e6e6e6" stroke-width="0.4" />
<line x1="510.70" y1="65.20" x2="604.40" y2="65.20" stroke="#e6e6e6" stroke-width="0.4" />
<line x1="510.70" y1="42.80" x2="604.40" y2="42.80" stroke="#e6e6e6" stroke-width="0.4" />
<line x1="510.70" y1="20.40" x2="604.40" y2="20.40" stroke="#e6e6e6" stroke-width="0.4" />
<line x1="543.60" y1="6.80" x2="543.60" y2="92.30" stroke="#999" stroke-width="0.4" stroke-dasharray="1,0.8"/>
<line x1="572.60" y1="6.80" x2="572.60" y2="92.30" stroke="#999" stroke-width="0.4" stroke-dasharray="1,0.8"/>
<line x1="558.00" y1="6.80" x2="558.00" y2="92.30" stroke="#bbb" stroke-width="0.4" />
<line x1="510.70" y1="58.48" x2="604.40" y2="58.48" stroke="#999" stroke-width="0.4" stroke-dasharray="1,0.8"/>
<path d="M545.7 73.6h0.9v0.9h-0.9zM552.1 59.6h0.9v0.9h-0.9zM539.8 67.4h0.9v0.9h-0.9zM542.5 71.7h0.9v0.9h-0.9zM552.9 64.9h0.9v0.9h-0.9zM545.6 61.5h0.9v0.9h-0.9zM553.2 82.8h0.9v0.9h-0.9zM547.4 62.5h0.9v0.9h-0.9zM552.2 71.3h0.9v0.9h-0.9zM542.9 61.3h0.9v0.9h-0.9zM554.7 79.3h0.9v0.9h-0.9zM543.3 74.6h0.9v0.9h-0.9zM556.4 65.8h0.9v0.9h-0.9zM557.6 60.5h0.9v0.9h-0.9zM551.1 68.5h0.9v0.9h-0.9zM550.4 65.3h0.9v0.9h-0.9zM554.1 83.3h0.9v0.9h-0.9zM540.0 62.7h0.9v0.9h-0.9zM555.7 74.8h0.9v0.9h-0.9zM540.6 64.6h0.9v0.9h-0.9zM547.5 79.0h0.9v0.9h-0.9zM548.6 58.7h0.9v0.9h-0.9zM547.8 74.2h0.9v0.9h-0.9zM554.6 60.1h0.9v0.9h-0.9zM554.6 76.4h0.9v0.9h-0.9zM555.3 64.9h0.9v0.9h-0.9zM550.1 69.6h0.9v0.9h-0.9zM556.2 66.5h0.9v0.9h-0.9zM531.0 59.5h0.9v0.9h-0.9zM543.4 69.3h0.9v0.9h-0.9zM547.9 80.1h0.9v0.9h-0.9zM544.4 69.5h0.9v0.9h-0.9zM551.2 61.6h0.9v0.9h-0.9zM554.5 60.3h0.9v0.9h-0.9zM555.1 86.2h0.9v0.9h-0.9zM535.4 60.9h0.9v0.9h-0.9zM546.7 59.5h0.9v0.9h-0.9zM545.5 60.1h0.9v0.9h-0.9zM552.2 81.4h0.9v0.9h-0.9zM550.0 63.2h0.9v0.9h-0.9zM554.4 68.2h0.9v0.9h-0.9zM553.5 77.2h0.9v0.9h-0.9zM551.0 70.5h0.9v0.9h-0.9zM557.9 83.3h0.9v0.9h-0.9zM548.2 75.3h0.9v0.9h-0.9zM554.3 64.5h0.9v0.9h-0.9zM552.4 77.8h0.9v0.9h-0.9zM552.1 80.4h0.9v0.9h-0.9zM554.7 60.7h0.9v0.9h-0.9zM544.8 68.6h0.9v0.9h-0.9zM543.0 64.5h0.9v0.9h-0.9zM553.8 65.4h0.9v0.9h-0.9zM535.5 62.3h0.9v0.9h-0.9zM550.7 84.8h0.9v0.9h-0.9zM557.2 72.4h0.9v0.9h-0.9zM551.8 84.1h0.9v0.9h-0.9zM556.2 66.3h0.9v0.9h-0.9zM548.2 72.0h0.9v0.9h-0.9zM551.2 58.5h0.9v0.9h-0.9zM554.1 64.1h0.9v0.9h-0.9zM556.8 79.6h0.9v0.9h-0.9zM549.1 73.3h0.9v0.9h-0.9zM556.6 76.4h0.9v0.9h-0.9zM557.4 79.0h0.9v0.9h-0.9zM555.3 79.8h0.9v0.9h-0.9zM555.9 70.8h0.9v0.9h-0.9zM551.8 71.4h0.9v0.9h-0.9zM547.3 59.1h0.9v0.9h-0.9zM547.9 59.8h0.9v0.9h-0.9zM552.0 79.6h0.9v0.9h-0.9zM556.9 81.4h0.9v0.9h-0.9zM552.6 84.0h0.9v0.9h-0.9zM549.6 59.3h0.9v0.9h-0.9zM552.9 74.9h0.9v0.9h-0.9zM548.5 75.0h0.9v0.9h-0.9zM556.5 73.8h0.9v0.9h-0.9zM545.7 61.7h0.9v0.9h-0.9zM553.0 87.1h0.9v0.9h-0.9zM552.0 65.0h0.9v0.9h-0.9zM539.2 67.5h0.9v0.9h-0.9zM552.4 73.6h0.9v0.9h-0.9zM551.4 76.5h0.9v0.9h-0.9zM543.5 66.6h0.9v0.9h-0.9zM555.7 59.7h0.9v0.9h-0.9zM545.3 74.6h0.9v0.9h-0.9zM545.9 63.5h0.9v0.9h-0.9zM552.5 66.3h0.9v0.9h-0.9zM545.7 59.8h0.9v0.9h-0.9zM556.1 73.5h0.9v0.9h-0.9zM549.6 82.4h0.9v0.9h-0.9zM557.7 63.2h0.9v0.9h-0.9zM552.3 75.8h0.9v0.9h-0.9zM553.0 71.0h0.9v0.9h-0.9zM551.3 60.9h0.9v0.9h-0.9zM540.7 70.0h0.9v0.9h-0.9zM549.9 67.2h0.9v0.9h-0.9zM553.6 75.5h0.9v0.9h-0.9zM543.0 68.0h0.9v0.9h-0.9zM554.3 77.7h0.9v0.9h-0.9zM553.6 74.0h0.9v0.9h-0.9zM546.2 60.5h0.9v0.9h-0.9zM554.7 77.2h0.9v0.9h-0.9zM555.6 62.7h0.9v0.9h-0.9zM557.7 66.0h0.9v0.9h-0.9zM557.6 79.8h0.9v0.9h-0.9zM555.9 63.1h0.9v0.9h-0.9zM557.6 78.7h0.9v0.9h-0.9zM549.1 77.6h0.9v0.9h-0.9zM537.9 65.2h0.9v0.9h-0.9zM545.6 59.7h0.9v0.9h-0.9zM556.8 60.3h0.9v0.9h-0.9zM549.0 60.2h0.9v0.9h-0.9zM550.0 79.8h0.9v0.9h-0.9zM550.6 61.8h0.9v0.9h-0.9zM550.4 83.2h0.9v0.9h-0.9zM546.0 64.4h0.9v0.9h-0.9zM557.5 59.0h0.9v0.9h-0.9zM557.4 84.7h0.9v0.9h-0.9zM553.6 86.2h0.9v0.9h-0.9zM556.7 67.5h0.9v0.9h-0.9zM556.7 80.8h0.9v0.9h-0.9zM545.7 68.0h0.9v0.9h-0.9zM550.7 59.2h0.9v0.9h-0.9zM548.7 59.0h0.9v0.9h-0.9zM555.2 73.9h0.9v0.9h-0.9zM545.8 78.5h0.9v0.9h-0.9zM540.4 58.6h0.9v0.9h-0.9zM556.7 80.4h0.9v0.9h-0.9zM555.2 81.1h0.9v0.9h-0.9zM557.3 64.8h0.9v0.9h-0.9z" fill="#a8acf4"/>
<path d="M576.3 70.1h0.9v0.9h-0.9zM561.4 85.7h0.9v0.9h-0.9zM577.2 63.5h0.9v0.9h-0.9zM580.6 72.2h0.9v0.9h-0.9zM566.4 68.2h0.9v0.9h-0.9zM580.8 73.7h0.9v0.9h-0.9zM593.4 61.8h0.9v0.9h-0.9zM560.8 69.3h0.9v0.9h-0.9zM563.0 80.4h0.9v0.9h-0.9zM558.0 65.9h0.9v0.9h-0.9zM586.2 63.2h0.9v0.9h-0.9zM558.0 70.5h0.9v0.9h-0.9zM571.0 63.3h0.9v0.9h-0.9zM575.0 66.5h0.9v0.9h-0.9zM570.0 65.0h0.9v0.9h-0.9zM598.2 59.4h0.9v0.9h-0.9zM581.1 60.1h0.9v0.9h-0.9zM564.6 76.0h0.9v0.9h-0.9zM575.5 77.4h0.9v0.9h-0.9zM586.1 63.4h0.9v0.9h-0.9zM595.8 62.7h0.9v0.9h-0.9zM566.6 66.0h0.9v0.9h-0.9zM565.2 64.3h0.9v0.9h-0.9zM561.4 68.0h0.9v0.9h-0.9zM574.6 61.8h0.9v0.9h-0.9zM576.2 77.2h0.9v0.9h-0.9zM569.0 83.6h0.9v0.9h-0.9zM561.6 64.3h0.9v0.9h-0.9zM576.6 64.2h0.9v0.9h-0.9zM579.5 60.7h0.9v0.9h-0.9zM581.5 72.9h0.9v0.9h-0.9zM567.0 83.5h0.9v0.9h-0.9zM560.7 82.9h0.9v0.9h-0.9zM569.3 82.5h0.9v0.9h-0.9zM575.7 72.5h0.9v0.9h-0.9zM571.2 77.8h0.9v0.9h-0.9zM559.9 67.0h0.9v0.9h-0.9zM576.8 71.0h0.9v0.9h-0.9zM568.6 79.1h0.9v0.9h-0.9zM564.0 77.1h0.9v0.9h-0.9zM596.4 60.4h0.9v0.9h-0.9zM573.6 58.5h0.9v0.9h-0.9zM581.5 69.0h0.9v0.9h-0.9zM572.1 64.3h0.9v0.9h-0.9zM571.2 61.7h0.9v0.9h-0.9zM575.1 59.7h0.9v0.9h-0.9zM567.6 82.3h0.9v0.9h-0.9zM567.3 81.4h0.9v0.9h-0.9zM568.3 84.8h0.9v0.9h-0.9zM578.4 69.8h0.9v0.9h-0.9zM566.2 81.9h0.9v0.9h-0.9zM562.4 74.3h0.9v0.9h-0.9zM558.5 62.9h0.9v0.9h-0.9zM559.4 71.5h0.9v0.9h-0.9zM592.2 62.0h0.9v0.9h-0.9zM561.7 85.6h0.9v0.9h-0.9zM576.1 71.7h0.9v0.9h-0.9zM567.7 65.0h0.9v0.9h-0.9zM563.4 60.1h0.9v0.9h-0.9zM569.2 81.7h0.9v0.9h-0.9zM559.7 82.3h0.9v0.9h-0.9zM565.5 70.9h0.9v0.9h-0.9zM572.3 80.8h0.9v0.9h-0.9zM578.3 71.6h0.9v0.9h-0.9zM575.1 78.0h0.9v0.9h-0.9zM573.9 78.9h0.9v0.9h-0.9zM588.6 67.9h0.9v0.9h-0.9zM579.1 63.9h0.9v0.9h-0.9zM582.1 70.0h0.9v0.9h-0.9zM559.5 72.4h0.9v0.9h-0.9zM589.7 60.5h0.9v0.9h-0.9zM581.8 66.2h0.9v0.9h-0.9zM565.2 78.6h0.9v0.9h-0.9zM594.6 62.7h0.9v0.9h-0.9zM562.5 60.3h0.9v0.9h-0.9zM574.7 66.1h0.9v0.9h-0.9zM560.8 73.5h0.9v0.9h-0.9zM563.8 81.7h0.9v0.9h-0.9zM563.6 71.1h0.9v0.9h-0.9zM569.5 74.5h0.9v0.9h-0.9zM577.3 64.2h0.9v0.9h-0.9zM571.4 80.8h0.9v0.9h-0.9zM580.3 74.5h0.9v0.9h-0.9zM562.0 58.9h0.9v0.9h-0.9zM587.5 68.7h0.9v0.9h-0.9zM569.6 74.0h0.9v0.9h-0.9zM558.2 76.1h0.9v0.9h-0.9zM559.3 79.4h0.9v0.9h-0.9zM569.6 77.0h0.9v0.9h-0.9zM586.2 69.2h0.9v0.9h-0.9zM568.0 66.1h0.9v0.9h-0.9zM582.3 59.7h0.9v0.9h-0.9zM582.6 69.7h0.9v0.9h-0.9zM567.8 66.5h0.9v0.9h-0.9zM565.4 68.1h0.9v0.9h-0.9zM565.8 59.2h0.9v0.9h-0.9zM559.5 59.1h0.9v0.9h-0.9zM561.8 86.9h0.9v0.9h-0.9zM565.6 79.4h0.9v0.9h-0.9zM569.0 82.3h0.9v0.9h-0.9zM579.2 66.5h0.9v0.9h-0.9zM599.1 60.2h0.9v0.9h-0.9zM580.5 66.3h0.9v0.9h-0.9zM558.1 87.4h0.9v0.9h-0.9zM582.5 72.9h0.9v0.9h-0.9zM568.8 76.1h0.9v0.9h-0.9zM560.7 86.9h0.9v0.9h-0.9zM579.6 60.8h0.9v0.9h-0.9zM558.1 62.6h0.9v0.9h-0.9zM560.1 79.5h0.9v0.9h-0.9zM560.4 62.5h0.9v0.9h-0.9zM566.5 60.1h0.9v0.9h-0.9zM576.0 61.3h0.9v0.9h-0.9zM578.9 75.8h0.9v0.9h-0.9zM574.0 73.5h0.9v0.9h-0.9zM566.9 84.2h0.9v0.9h-0.9zM561.0 58.9h0.9v0.9h-0.9zM565.4 64.6h0.9v0.9h-0.9zM562.4 81.3h0.9v0.9h-0.9zM589.4 66.7h0.9v0.9h-0.9zM601.1 58.6h0.9v0.9h-0.9zM577.2 67.6h0.9v0.9h-0.9zM568.5 80.8h0.9v0.9h-0.9zM566.6 69.5h0.9v0.9h-0.9zM565.8 60.8h0.9v0.9h-0.9zM559.5 81.5h0.9v0.9h-0.9zM565.9 81.2h0.9v0.9h-0.9zM562.1 63.2h0.9v0.9h-0.9zM572.4 70.8h0.9v0.9h-0.9zM568.3 69.3h0.9v0.9h-0.9zM558.1 69.7h0.9v0.9h-0.9zM561.7 84.6h0.9v0.9h-0.9zM571.2 78.4h0.9v0.9h-0.9zM572.8 78.2h0.9v0.9h-0.9zM559.0 78.3h0.9v0.9h-0.9zM566.7 71.5h0.9v0.9h-0.9zM574.1 75.4h0.9v0.9h-0.9zM569.1 78.9h0.9v0.9h-0.9zM572.9 62.4h0.9v0.9h-0.9zM583.5 70.8h0.9v0.9h-0.9zM562.0 68.1h0.9v0.9h-0.9zM558.5 84.2h0.9v0.9h-0.9zM559.1 75.6h0.9v0.9h-0.9zM569.7 67.0h0.9v0.9h-0.9zM567.5 76.2h0.9v0.9h-0.9zM565.6 60.0h0.9v0.9h-0.9zM561.6 81.1h0.9v0.9h-0.9zM577.5 75.8h0.9v0.9h-0.9zM570.5 65.6h0.9v0.9h-0.9zM558.3 80.7h0.9v0.9h-0.9zM569.3 82.2h0.9v0.9h-0.9zM561.5 67.0h0.9v0.9h-0.9zM559.0 67.6h0.9v0.9h-0.9zM565.5 70.7h0.9v0.9h-0.9zM567.0 82.9h0.9v0.9h-0.9zM573.6 65.3h0.9v0.9h-0.9zM567.7 80.6h0.9v0.9h-0.9zM573.6 72.7h0.9v0.9h-0.9zM568.9 83.3h0.9v0.9h-0.9zM559.1 87.3h0.9v0.9h-0.9zM561.4 73.7h0.9v0.9h-0.9zM565.7 83.4h0.9v0.9h-0.9zM569.6 58.6h0.9v0.9h-0.9zM570.1 77.5h0.9v0.9h-0.9zM563.9 78.8h0.9v0.9h-0.9zM570.4 66.0h0.9v0.9h-0.9zM558.5 81.0h0.9v0.9h-0.9zM587.1 69.7h0.9v0.9h-0.9zM560.5 60.4h0.9v0.9h-0.9zM569.8 70.8h0.9v0.9h-0.9z" fill="#f6aaaa"/>
<path d="M556.4 27.6h0.9v0.9h-0.9zM550.9 38.3h0.9v0.9h-0.9zM549.9 50.3h0.9v0.9h-0.9zM546.3 27.7h0.9v0.9h-0.9zM545.3 8.5h0.9v0.9h-0.9zM540.0 43.8h0.9v0.9h-0.9zM544.4 50.7h0.9v0.9h-0.9zM556.4 56.4h0.9v0.9h-0.9zM555.3 40.0h0.9v0.9h-0.9zM543.7 21.6h0.9v0.9h-0.9zM556.5 42.0h0.9v0.9h-0.9zM551.8 8.3h0.9v0.9h-0.9zM533.4 36.0h0.9v0.9h-0.9zM542.4 16.0h0.9v0.9h-0.9zM543.2 39.1h0.9v0.9h-0.9zM553.7 46.2h0.9v0.9h-0.9zM553.3 26.6h0.9v0.9h-0.9zM556.5 53.4h0.9v0.9h-0.9zM552.2 30.4h0.9v0.9h-0.9zM555.8 33.1h0.9v0.9h-0.9zM543.2 50.1h0.9v0.9h-0.9zM551.2 53.9h0.9v0.9h-0.9zM556.3 31.9h0.9v0.9h-0.9zM550.2 50.3h0.9v0.9h-0.9zM544.7 39.3h0.9v0.9h-0.9zM543.3 27.1h0.9v0.9h-0.9zM535.2 48.7h0.9v0.9h-0.9zM541.6 57.3h0.9v0.9h-0.9zM554.3 58.2h0.9v0.9h-0.9zM546.3 35.0h0.9v0.9h-0.9zM555.9 27.6h0.9v0.9h-0.9zM550.2 49.9h0.9v0.9h-0.9zM543.2 18.2h0.9v0.9h-0.9zM544.5 52.2h0.9v0.9h-0.9zM548.4 32.6h0.9v0.9h-0.9zM553.4 49.4h0.9v0.9h-0.9zM556.2 35.3h0.9v0.9h-0.9zM551.9 22.1h0.9v0.9h-0.9zM556.5 26.4h0.9v0.9h-0.9zM548.1 38.0h0.9v0.9h-0.9zM543.3 27.9h0.9v0.9h-0.9zM552.5 19.2h0.9v0.9h-0.9zM548.9 22.4h0.9v0.9h-0.9zM555.0 20.4h0.9v0.9h-0.9zM556.4 51.2h0.9v0.9h-0.9zM552.6 54.5h0.9v0.9h-0.9zM543.6 56.5h0.9v0.9h-0.9zM548.2 32.2h0.9v0.9h-0.9zM551.8 40.1h0.9v0.9h-0.9zM555.6 58.2h0.9v0.9h-0.9zM527.6 43.7h0.9v0.9h-0.9zM549.4 15.9h0.9v0.9h-0.9zM539.6 24.4h0.9v0.9h-0.9zM554.7 20.5h0.9v0.9h-0.9zM545.4 16.8h0.9v0.9h-0.9zM555.2 13.3h0.9v0.9h-0.9z" fill="#2a2aee"/>
<path d="M568.9 58.1h0.9v0.9h-0.9zM559.0 47.7h0.9v0.9h-0.9zM559.0 52.2h0.9v0.9h-0.9zM568.7 49.6h0.9v0.9h-0.9zM574.9 11.0h0.9v0.9h-0.9zM562.2 44.6h0.9v0.9h-0.9zM561.4 40.4h0.9v0.9h-0.9zM560.2 56.9h0.9v0.9h-0.9zM568.4 55.6h0.9v0.9h-0.9zM569.0 48.1h0.9v0.9h-0.9zM560.5 44.3h0.9v0.9h-0.9zM559.3 11.3h0.9v0.9h-0.9zM563.1 53.0h0.9v0.9h-0.9zM570.3 23.9h0.9v0.9h-0.9zM566.4 18.9h0.9v0.9h-0.9zM570.5 51.4h0.9v0.9h-0.9zM559.6 19.6h0.9v0.9h-0.9zM560.0 27.0h0.9v0.9h-0.9zM559.7 51.3h0.9v0.9h-0.9zM561.4 28.7h0.9v0.9h-0.9zM568.9 40.1h0.9v0.9h-0.9zM560.9 57.7h0.9v0.9h-0.9zM568.3 46.8h0.9v0.9h-0.9zM576.0 29.7h0.9v0.9h-0.9zM561.4 45.8h0.9v0.9h-0.9zM569.8 52.9h0.9v0.9h-0.9zM573.6 17.5h0.9v0.9h-0.9zM562.1 19.4h0.9v0.9h-0.9zM566.8 23.7h0.9v0.9h-0.9zM565.1 55.6h0.9v0.9h-0.9zM589.3 53.1h0.9v0.9h-0.9zM559.8 38.1h0.9v0.9h-0.9zM562.8 35.7h0.9v0.9h-0.9zM569.9 24.0h0.9v0.9h-0.9zM563.1 55.0h0.9v0.9h-0.9zM567.9 36.9h0.9v0.9h-0.9zM564.5 50.0h0.9v0.9h-0.9zM562.9 24.2h0.9v0.9h-0.9zM590.4 38.9h0.9v0.9h-0.9zM564.2 29.5h0.9v0.9h-0.9zM559.2 28.5h0.9v0.9h-0.9zM574.5 8.1h0.9v0.9h-0.9zM561.9 37.9h0.9v0.9h-0.9zM569.8 56.4h0.9v0.9h-0.9zM563.2 39.4h0.9v0.9h-0.9zM573.0 55.5h0.9v0.9h-0.9zM560.0 46.9h0.9v0.9h-0.9zM560.3 55.0h0.9v0.9h-0.9zM560.3 34.3h0.9v0.9h-0.9zM563.7 52.2h0.9v0.9h-0.9zM561.2 44.5h0.9v0.9h-0.9zM561.4 8.7h0.9v0.9h-0.9zM589.8 22.5h0.9v0.9h-0.9zM583.9 37.5h0.9v0.9h-0.9zM568.7 46.9h0.9v0.9h-0.9zM560.6 22.9h0.9v0.9h-0.9zM570.6 9.5h0.9v0.9h-0.9zM561.3 44.4h0.9v0.9h-0.9zM574.9 37.7h0.9v0.9h-0.9zM560.4 15.8h0.9v0.9h-0.9zM560.5 22.3h0.9v0.9h-0.9zM571.6 40.4h0.9v0.9h-0.9zM569.7 32.0h0.9v0.9h-0.9zM590.8 30.2h0.9v0.9h-0.9zM570.8 45.0h0.9v0.9h-0.9zM563.0 48.0h0.9v0.9h-0.9zM559.7 43.7h0.9v0.9h-0.9zM580.1 49.8h0.9v0.9h-0.9zM586.9 28.6h0.9v0.9h-0.9zM587.9 49.0h0.9v0.9h-0.9zM567.6 18.3h0.9v0.9h-0.9zM560.0 42.3h0.9v0.9h-0.9zM570.8 33.9h0.9v0.9h-0.9zM571.3 44.1h0.9v0.9h-0.9zM573.2 14.4h0.9v0.9h-0.9zM567.6 22.3h0.9v0.9h-0.9zM582.8 57.1h0.9v0.9h-0.9zM570.0 38.4h0.9v0.9h-0.9zM576.2 20.1h0.9v0.9h-0.9zM559.6 44.3h0.9v0.9h-0.9zM570.3 45.0h0.9v0.9h-0.9zM559.4 49.8h0.9v0.9h-0.9zM564.3 22.5h0.9v0.9h-0.9z" fill="#ee2a2a"/>
<text x="509.20" y="89.10" font-size="4.2" text-anchor="end" fill="#222" >0</text>
<text x="509.20" y="66.70" font-size="4.2" text-anchor="end" fill="#222" >1</text>
<text x="509.20" y="44.30" font-size="4.2" text-anchor="end" fill="#222" >2</text>
<text x="509.20" y="21.90" font-size="4.2" text-anchor="end" fill="#222" >3</text>
<text x="515.80" y="97.80" font-size="4.3" text-anchor="start" fill="#222" textLength="10.80" lengthAdjust="spacingAndGlyphs" >−0.25</text>
<text x="553.60" y="97.80" font-size="4.3" text-anchor="start" fill="#222" textLength="8.20" lengthAdjust="spacingAndGlyphs" >0.00</text>
<text x="588.80" y="97.80" font-size="4.3" text-anchor="start" fill="#222" textLength="8.40" lengthAdjust="spacingAndGlyphs" >0.25</text>
<text x="538.50" y="102.60" font-size="4.4" text-anchor="start" font-weight="bold" fill="#000" textLength="39.40" lengthAdjust="spacingAndGlyphs" >Log2 Fold Change</text>
<text transform="translate(504.00,53.20) rotate(-90)" font-size="4.6" text-anchor="middle" font-weight="bold" fill="#111" textLength="44.50" lengthAdjust="spacingAndGlyphs" >−Log10(adj. p-value)</text>
<text x="520.80" y="22.90" font-size="3.5" text-anchor="start" fill="#3a3a3a" textLength="20.60" lengthAdjust="spacingAndGlyphs" >JCAD-S1048</text>
<text x="518.60" y="26.80" font-size="3.5" text-anchor="start" fill="#3a3a3a" textLength="19.30" lengthAdjust="spacingAndGlyphs" >JCAD-S737</text>
<text x="513.40" y="35.10" font-size="3.5" text-anchor="start" fill="#3a3a3a" textLength="27.10" lengthAdjust="spacingAndGlyphs" >CHAENF1-S984</text>
<text x="529.70" y="43.70" font-size="3.5" text-anchor="start" fill="#3a3a3a" textLength="21.20" lengthAdjust="spacingAndGlyphs" >SSRP1-S444</text>
<text x="582.20" y="15.10" font-size="3.5" text-anchor="start" fill="#3a3a3a" textLength="22.40" lengthAdjust="spacingAndGlyphs" >HP1BP3-S441</text>
<text x="572.30" y="18.70" font-size="3.5" text-anchor="start" fill="#3a3a3a" textLength="19.70" lengthAdjust="spacingAndGlyphs" >PSMD5-S18</text>
<text x="574.10" y="22.30" font-size="3.5" text-anchor="start" fill="#3a3a3a" textLength="19.00" lengthAdjust="spacingAndGlyphs" >STIM1-S257</text>
<text x="581.10" y="26.70" font-size="3.5" text-anchor="start" fill="#3a3a3a" textLength="22.60" lengthAdjust="spacingAndGlyphs" >HP1BP3-S448</text>
<text x="586.20" y="41.90" font-size="3.5" text-anchor="start" fill="#3a3a3a" textLength="17.10" lengthAdjust="spacingAndGlyphs" >TJP2-S110</text>
<rect x="535.60" y="49.60" width="9.40" height="3.40" fill="#ececec" stroke="#ccc" stroke-width="0.3" rx="0.8"/>
<text x="536.50" y="52.30" font-size="2.6" text-anchor="start" fill="#888" textLength="7.70" lengthAdjust="spacingAndGlyphs" text-rendering="geometricPrecision" >ASAH1</text>
<rect x="513.40" y="61.80" width="23.60" height="3.70" fill="#dedede" stroke="#888" stroke-width="0.4" rx="0.9"/>
<text x="514.60" y="64.75" font-size="3.2" text-anchor="start" fill="#111" textLength="21.20" lengthAdjust="spacingAndGlyphs" text-rendering="geometricPrecision" >BCLAF1-S397</text>
<rect x="580.00" y="59.80" width="24.00" height="3.80" fill="#dedede" stroke="#888" stroke-width="0.4" rx="0.9"/>
<text x="581.20" y="62.85" font-size="3.2" text-anchor="start" fill="#111" textLength="21.60" lengthAdjust="spacingAndGlyphs" text-rendering="geometricPrecision" >BCLAF1-S290</text>
<rect x="547.80" y="73.10" width="23.80" height="3.70" fill="#dedede" stroke="#888" stroke-width="0.4" rx="0.9"/>
<text x="549.00" y="76.05" font-size="3.2" text-anchor="start" fill="#111" textLength="21.40" lengthAdjust="spacingAndGlyphs" text-rendering="geometricPrecision" >BCLAF1-S177</text>
<rect x="532.50" y="81.20" width="23.50" height="3.70" fill="#dedede" stroke="#888" stroke-width="0.4" rx="0.9"/>
<text x="533.70" y="84.15" font-size="3.2" text-anchor="start" fill="#111" textLength="21.10" lengthAdjust="spacingAndGlyphs" text-rendering="geometricPrecision" >BCLAF1-S531</text>
<rect x="558.40" y="83.00" width="22.80" height="3.80" fill="#dedede" stroke="#888" stroke-width="0.4" rx="0.9"/>
<text x="559.60" y="86.05" font-size="3.2" text-anchor="start" fill="#111" textLength="20.40" lengthAdjust="spacingAndGlyphs" text-rendering="geometricPrecision" >BCLAF1-S658</text>
<circle cx="558.20" cy="88.00" r="0.80" fill="#e22" />
<circle cx="557.40" cy="86.60" r="0.60" fill="#33e" />
<rect x="619.20" y="5.90" width="10.60" height="4.00" fill="#cdcdcd" stroke="#aaa" stroke-width="0.3" />
<text x="620.40" y="9.10" font-size="3.0" text-anchor="start" fill="#111" textLength="8.20" lengthAdjust="spacingAndGlyphs" >S177</text>
<rect x="619.20" y="9.70" width="10.60" height="43.10" fill="#fff" stroke="#bbb" stroke-width="0.3" />
<rect x="630.80" y="5.90" width="10.50" height="4.00" fill="#cdcdcd" stroke="#aaa" stroke-width="0.3" />
<text x="632.00" y="9.10" font-size="3.0" text-anchor="start" fill="#111" textLength="8.10" lengthAdjust="spacingAndGlyphs" >S290</text>
<rect x="630.80" y="9.70" width="10.50" height="43.10" fill="#fff" stroke="#bbb" stroke-width="0.3" />
<rect x="642.30" y="5.90" width="10.40" height="4.00" fill="#cdcdcd" stroke="#aaa" stroke-width="0.3" />
<text x="643.50" y="9.10" font-size="3.0" text-anchor="start" fill="#111" textLength="8.00" lengthAdjust="spacingAndGlyphs" >S397</text>
<rect x="642.30" y="9.70" width="10.40" height="43.10" fill="#fff" stroke="#bbb" stroke-width="0.3" />
<rect x="619.20" y="53.20" width="10.60" height="4.00" fill="#cdcdcd" stroke="#aaa" stroke-width="0.3" />
<text x="620.40" y="56.40" font-size="3.0" text-anchor="start" fill="#111" textLength="8.20" lengthAdjust="spacingAndGlyphs" >S531</text>
<rect x="619.20" y="57.00" width="10.60" height="43.70" fill="#fff" stroke="#bbb" stroke-width="0.3" />
<rect x="630.80" y="53.20" width="10.50" height="4.00" fill="#cdcdcd" stroke="#aaa" stroke-width="0.3" />
<text x="632.00" y="56.40" font-size="3.0" text-anchor="start" fill="#111" textLength="8.10" lengthAdjust="spacingAndGlyphs" >S658</text>
<rect x="630.80" y="57.00" width="10.50" height="43.70" fill="#fff" stroke="#bbb" stroke-width="0.3" />
<rect x="642.30" y="53.20" width="10.40" height="4.00" fill="#cdcdcd" stroke="#aaa" stroke-width="0.3" />
<text x="643.50" y="56.40" font-size="3.0" text-anchor="start" fill="#111" textLength="8.00" lengthAdjust="spacingAndGlyphs" >T402</text>
<rect x="642.30" y="57.00" width="10.40" height="43.70" fill="#fff" stroke="#bbb" stroke-width="0.3" />
<text x="618.20" y="18.50" font-size="3.7" text-anchor="end" fill="#333" >1</text>
<text x="618.20" y="66.20" font-size="3.7" text-anchor="end" fill="#333" >1</text>
<line x1="619.20" y1="17.20" x2="629.80" y2="17.20" stroke="#eee" stroke-width="0.3" />
<line x1="619.20" y1="64.90" x2="629.80" y2="64.90" stroke="#eee" stroke-width="0.3" />
<line x1="630.80" y1="17.20" x2="641.30" y2="17.20" stroke="#eee" stroke-width="0.3" />
<line x1="630.80" y1="64.90" x2="641.30" y2="64.90" stroke="#eee" stroke-width="0.3" />
<line x1="642.30" y1="17.20" x2="652.70" y2="17.20" stroke="#eee" stroke-width="0.3" />
<line x1="642.30" y1="64.90" x2="652.70" y2="64.90" stroke="#eee" stroke-width="0.3" />
<text x="618.20" y="28.20" font-size="3.7" text-anchor="end" fill="#333" >0</text>
<text x="618.20" y="76.10" font-size="3.7" text-anchor="end" fill="#333" >0</text>
<line x1="619.20" y1="26.90" x2="629.80" y2="26.90" stroke="#eee" stroke-width="0.3" />
<line x1="619.20" y1="74.80" x2="629.80" y2="74.80" stroke="#eee" stroke-width="0.3" />
<line x1="630.80" y1="26.90" x2="641.30" y2="26.90" stroke="#eee" stroke-width="0.3" />
<line x1="630.80" y1="74.80" x2="641.30" y2="74.80" stroke="#eee" stroke-width="0.3" />
<line x1="642.30" y1="26.90" x2="652.70" y2="26.90" stroke="#eee" stroke-width="0.3" />
<line x1="642.30" y1="74.80" x2="652.70" y2="74.80" stroke="#eee" stroke-width="0.3" />
<text x="618.20" y="37.90" font-size="3.7" text-anchor="end" fill="#333" >−1</text>
<text x="618.20" y="86.00" font-size="3.7" text-anchor="end" fill="#333" >−1</text>
<line x1="619.20" y1="36.60" x2="629.80" y2="36.60" stroke="#eee" stroke-width="0.3" />
<line x1="619.20" y1="84.70" x2="629.80" y2="84.70" stroke="#eee" stroke-width="0.3" />
<line x1="630.80" y1="36.60" x2="641.30" y2="36.60" stroke="#eee" stroke-width="0.3" />
<line x1="630.80" y1="84.70" x2="641.30" y2="84.70" stroke="#eee" stroke-width="0.3" />
<line x1="642.30" y1="36.60" x2="652.70" y2="36.60" stroke="#eee" stroke-width="0.3" />
<line x1="642.30" y1="84.70" x2="652.70" y2="84.70" stroke="#eee" stroke-width="0.3" />
<text x="618.20" y="47.60" font-size="3.7" text-anchor="end" fill="#333" >−2</text>
<text x="618.20" y="95.90" font-size="3.7" text-anchor="end" fill="#333" >−2</text>
<line x1="619.20" y1="46.30" x2="629.80" y2="46.30" stroke="#eee" stroke-width="0.3" />
<line x1="619.20" y1="94.60" x2="629.80" y2="94.60" stroke="#eee" stroke-width="0.3" />
<line x1="630.80" y1="46.30" x2="641.30" y2="46.30" stroke="#eee" stroke-width="0.3" />
<line x1="630.80" y1="94.60" x2="641.30" y2="94.60" stroke="#eee" stroke-width="0.3" />
<line x1="642.30" y1="46.30" x2="652.70" y2="46.30" stroke="#eee" stroke-width="0.3" />
<line x1="642.30" y1="94.60" x2="652.70" y2="94.60" stroke="#eee" stroke-width="0.3" />
<text transform="translate(611.40,53.50) rotate(-90)" font-size="4.2" text-anchor="middle" font-weight="bold" fill="#000" textLength="35.00" lengthAdjust="spacingAndGlyphs" >Z-score (Protein)</text>
<line x1="621.80" y1="12.40" x2="621.80" y2="35.90" stroke="#0000cc" stroke-width="0.35" />
<rect x="620.65" y="15.00" width="2.30" height="17.00" fill="#3040f0" stroke="#0000cc" stroke-width="0.3" />
<circle cx="621.80" cy="12.40" r="0.65" fill="#0000cc" />
<circle cx="621.80" cy="35.90" r="0.65" fill="#0000cc" />
<line x1="626.80" y1="22.30" x2="626.80" y2="37.50" stroke="#cc0000" stroke-width="0.35" />
<rect x="625.65" y="26.00" width="2.30" height="7.00" fill="#e83a3a" stroke="#cc0000" stroke-width="0.3" />
<circle cx="626.80" cy="22.30" r="0.65" fill="#cc0000" />
<circle cx="626.80" cy="37.50" r="0.65" fill="#cc0000" />
<line x1="633.80" y1="20.50" x2="633.80" y2="44.30" stroke="#0000cc" stroke-width="0.35" />
<rect x="632.65" y="24.00" width="2.30" height="17.00" fill="#3040f0" stroke="#0000cc" stroke-width="0.3" />
<circle cx="633.80" cy="20.50" r="0.65" fill="#0000cc" />
<circle cx="633.80" cy="44.30" r="0.65" fill="#0000cc" />
<line x1="638.50" y1="18.50" x2="638.50" y2="22.50" stroke="#cc0000" stroke-width="0.35" />
<rect x="637.35" y="19.00" width="2.30" height="3.00" fill="#e83a3a" stroke="#cc0000" stroke-width="0.3" />
<circle cx="638.50" cy="18.50" r="0.65" fill="#cc0000" />
<circle cx="638.50" cy="22.50" r="0.65" fill="#cc0000" />
<line x1="644.80" y1="19.50" x2="644.80" y2="22.80" stroke="#0000cc" stroke-width="0.35" />
<rect x="643.65" y="20.00" width="2.30" height="2.30" fill="#3040f0" stroke="#0000cc" stroke-width="0.3" />
<circle cx="644.80" cy="19.50" r="0.65" fill="#0000cc" />
<circle cx="644.80" cy="22.80" r="0.65" fill="#0000cc" />
<line x1="650.00" y1="23.00" x2="650.00" y2="33.00" stroke="#cc0000" stroke-width="0.35" />
<rect x="648.85" y="24.00" width="2.30" height="8.00" fill="#e83a3a" stroke="#cc0000" stroke-width="0.3" />
<circle cx="650.00" cy="23.00" r="0.65" fill="#cc0000" />
<circle cx="650.00" cy="33.00" r="0.65" fill="#cc0000" />
<line x1="621.40" y1="62.40" x2="621.40" y2="77.70" stroke="#0000cc" stroke-width="0.35" />
<rect x="620.25" y="66.00" width="2.30" height="7.00" fill="#3040f0" stroke="#0000cc" stroke-width="0.3" />
<circle cx="621.40" cy="62.40" r="0.65" fill="#0000cc" />
<circle cx="621.40" cy="77.70" r="0.65" fill="#0000cc" />
<line x1="626.80" y1="70.00" x2="626.80" y2="78.50" stroke="#cc0000" stroke-width="0.35" />
<rect x="625.65" y="70.60" width="2.30" height="7.10" fill="#e83a3a" stroke="#cc0000" stroke-width="0.3" />
<circle cx="626.80" cy="70.00" r="0.65" fill="#cc0000" />
<circle cx="626.80" cy="78.50" r="0.65" fill="#cc0000" />
<line x1="633.60" y1="59.30" x2="633.60" y2="82.90" stroke="#0000cc" stroke-width="0.35" />
<rect x="632.45" y="67.00" width="2.30" height="6.00" fill="#3040f0" stroke="#0000cc" stroke-width="0.3" />
<circle cx="633.60" cy="59.30" r="0.65" fill="#0000cc" />
<circle cx="633.60" cy="82.90" r="0.65" fill="#0000cc" />
<line x1="638.40" y1="73.00" x2="638.40" y2="90.00" stroke="#cc0000" stroke-width="0.35" />
<rect x="637.25" y="74.00" width="2.30" height="8.40" fill="#e83a3a" stroke="#cc0000" stroke-width="0.3" />
<circle cx="638.40" cy="73.00" r="0.65" fill="#cc0000" />
<circle cx="638.40" cy="90.00" r="0.65" fill="#cc0000" />
<line x1="645.00" y1="63.00" x2="645.00" y2="68.50" stroke="#0000cc" stroke-width="0.35" />
<rect x="643.85" y="63.50" width="2.30" height="4.30" fill="#3040f0" stroke="#0000cc" stroke-width="0.3" />
<circle cx="645.00" cy="63.00" r="0.65" fill="#0000cc" />
<circle cx="645.00" cy="68.50" r="0.65" fill="#0000cc" />
<line x1="649.80" y1="77.00" x2="649.80" y2="86.00" stroke="#cc0000" stroke-width="0.35" />
<rect x="648.65" y="80.00" width="2.30" height="5.40" fill="#e83a3a" stroke="#cc0000" stroke-width="0.3" />
<circle cx="649.80" cy="77.00" r="0.65" fill="#cc0000" />
<circle cx="649.80" cy="86.00" r="0.65" fill="#cc0000" />
<text x="620.20" y="47.40" font-size="2.7" text-anchor="start" fill="#333" textLength="6.60" lengthAdjust="spacingAndGlyphs" text-rendering="geometricPrecision" >p value</text>
<text x="620.20" y="49.90" font-size="2.7" text-anchor="start" fill="#333" textLength="5.60" lengthAdjust="spacingAndGlyphs" text-rendering="geometricPrecision" >0.005</text>
<text x="631.80" y="47.40" font-size="2.7" text-anchor="start" fill="#333" textLength="6.60" lengthAdjust="spacingAndGlyphs" text-rendering="geometricPrecision" >p value</text>
<text x="631.80" y="49.90" font-size="2.7" text-anchor="start" fill="#333" textLength="5.60" lengthAdjust="spacingAndGlyphs" text-rendering="geometricPrecision" >0.001</text>
<text x="643.30" y="47.40" font-size="2.7" text-anchor="start" fill="#333" textLength="6.60" lengthAdjust="spacingAndGlyphs" text-rendering="geometricPrecision" >p value</text>
<text x="643.30" y="49.90" font-size="2.7" text-anchor="start" fill="#333" textLength="5.60" lengthAdjust="spacingAndGlyphs" text-rendering="geometricPrecision" >0.004</text>
<text x="620.20" y="94.40" font-size="2.7" text-anchor="start" fill="#333" textLength="6.60" lengthAdjust="spacingAndGlyphs" text-rendering="geometricPrecision" >p value</text>
<text x="620.20" y="96.90" font-size="2.7" text-anchor="start" fill="#333" textLength="5.60" lengthAdjust="spacingAndGlyphs" text-rendering="geometricPrecision" >0.013</text>
<text x="631.80" y="94.40" font-size="2.7" text-anchor="start" fill="#333" textLength="6.60" lengthAdjust="spacingAndGlyphs" text-rendering="geometricPrecision" >p value</text>
<text x="631.80" y="96.90" font-size="2.7" text-anchor="start" fill="#333" textLength="5.60" lengthAdjust="spacingAndGlyphs" text-rendering="geometricPrecision" >0.003</text>
<text x="643.30" y="94.40" font-size="2.7" text-anchor="start" fill="#333" textLength="6.60" lengthAdjust="spacingAndGlyphs" text-rendering="geometricPrecision" >p value</text>
<text x="643.30" y="96.90" font-size="2.7" text-anchor="start" fill="#333" textLength="5.60" lengthAdjust="spacingAndGlyphs" text-rendering="geometricPrecision" >0.001</text>
<circle cx="651.00" cy="48.80" r="0.60" fill="#cc0000" />
<circle cx="627.50" cy="96.00" r="0.60" fill="#cc0000" />
<text x="235.80" y="131.20" font-size="8.6" text-anchor="start" font-weight="bold" fill="#000" stroke="#000" stroke-width="0.3" >E</text>
<text x="307.80" y="139.60" font-size="3.0" text-anchor="start" fill="#333" textLength="6.70" lengthAdjust="spacingAndGlyphs" >AML</text>
<rect x="307.80" y="141.20" width="43.60" height="127.10" fill="#fff" stroke="#e2e2e2" stroke-width="0.3" />
<line x1="315.91" y1="141.20" x2="315.91" y2="268.30" stroke="#f4f4f4" stroke-width="0.3" />
<line x1="328.57" y1="141.20" x2="328.57" y2="268.30" stroke="#f4f4f4" stroke-width="0.3" />
<line x1="341.23" y1="141.20" x2="341.23" y2="268.30" stroke="#f4f4f4" stroke-width="0.3" />
<line x1="309.58" y1="141.20" x2="309.58" y2="268.30" stroke="#e8e8e8" stroke-width="0.35" />
<line x1="322.24" y1="141.20" x2="322.24" y2="268.30" stroke="#e8e8e8" stroke-width="0.35" />
<line x1="334.90" y1="141.20" x2="334.90" y2="268.30" stroke="#e8e8e8" stroke-width="0.35" />
<line x1="347.56" y1="141.20" x2="347.56" y2="268.30" stroke="#e8e8e8" stroke-width="0.35" />
<line x1="307.80" y1="143.90" x2="351.40" y2="143.90" stroke="#efefef" stroke-width="0.3" />
<line x1="307.80" y1="148.39" x2="351.40" y2="148.39" stroke="#efefef" stroke-width="0.3" />
<line x1="307.80" y1="152.88" x2="351.40" y2="152.88" stroke="#efefef" stroke-width="0.3" />
<line x1="307.80" y1="157.37" x2="351.40" y2="157.37" stroke="#efefef" stroke-width="0.3" />
<line x1="307.80" y1="161.86" x2="351.40" y2="161.86" stroke="#efefef" stroke-width="0.3" />
<line x1="307.80" y1="166.35" x2="351.40" y2="166.35" stroke="#efefef" stroke-width="0.3" />
<line x1="307.80" y1="170.84" x2="351.40" y2="170.84" stroke="#efefef" stroke-width="0.3" />
<line x1="307.80" y1="175.33" x2="351.40" y2="175.33" stroke="#efefef" stroke-width="0.3" />
<line x1="307.80" y1="179.82" x2="351.40" y2="179.82" stroke="#efefef" stroke-width="0.3" />
<line x1="307.80" y1="184.31" x2="351.40" y2="184.31" stroke="#efefef" stroke-width="0.3" />
<line x1="307.80" y1="188.80" x2="351.40" y2="188.80" stroke="#efefef" stroke-width="0.3" />
<line x1="307.80" y1="193.29" x2="351.40" y2="193.29" stroke="#efefef" stroke-width="0.3" />
<line x1="307.80" y1="197.78" x2="351.40" y2="197.78" stroke="#efefef" stroke-width="0.3" />
<line x1="307.80" y1="202.27" x2="351.40" y2="202.27" stroke="#efefef" stroke-width="0.3" />
<line x1="307.80" y1="206.76" x2="351.40" y2="206.76" stroke="#efefef" stroke-width="0.3" />
<line x1="307.80" y1="211.25" x2="351.40" y2="211.25" stroke="#efefef" stroke-width="0.3" />
<line x1="307.80" y1="215.74" x2="351.40" y2="215.74" stroke="#efefef" stroke-width="0.3" />
<line x1="307.80" y1="220.23" x2="351.40" y2="220.23" stroke="#efefef" stroke-width="0.3" />
<line x1="307.80" y1="224.72" x2="351.40" y2="224.72" stroke="#efefef" stroke-width="0.3" />
<line x1="307.80" y1="229.21" x2="351.40" y2="229.21" stroke="#efefef" stroke-width="0.3" />
<line x1="307.80" y1="233.70" x2="351.40" y2="233.70" stroke="#efefef" stroke-width="0.3" />
<line x1="307.80" y1="238.19" x2="351.40" y2="238.19" stroke="#efefef" stroke-width="0.3" />
<line x1="307.80" y1="242.68" x2="351.40" y2="242.68" stroke="#efefef" stroke-width="0.3" />
<line x1="307.80" y1="247.17" x2="351.40" y2="247.17" stroke="#efefef" stroke-width="0.3" />
<line x1="307.80" y1="251.66" x2="351.40" y2="251.66" stroke="#efefef" stroke-width="0.3" />
<line x1="307.80" y1="256.15" x2="351.40" y2="256.15" stroke="#efefef" stroke-width="0.3" />
<line x1="307.80" y1="260.64" x2="351.40" y2="260.64" stroke="#efefef" stroke-width="0.3" />
<line x1="307.80" y1="265.13" x2="351.40" y2="265.13" stroke="#efefef" stroke-width="0.3" />
<text x="306.50" y="144.75" font-size="2.45" text-anchor="end" fill="#333" text-rendering="geometricPrecision" >KEGG_FATTY_ACID_METABOLISM</text>
<line x1="306.90" y1="143.90" x2="307.80" y2="143.90" stroke="#555" stroke-width="0.3" />
<text x="306.50" y="149.24" font-size="2.45" text-anchor="end" fill="#333" text-rendering="geometricPrecision" >KEGG_PARKINSONS_DISEASE</text>
<line x1="306.90" y1="148.39" x2="307.80" y2="148.39" stroke="#555" stroke-width="0.3" />
<text x="306.50" y="153.73" font-size="2.45" text-anchor="end" fill="#333" text-rendering="geometricPrecision" >KEGG_VALINE_LEUCINE_AND_ISOLEUCINE_DEGRADATION</text>
<line x1="306.90" y1="152.88" x2="307.80" y2="152.88" stroke="#555" stroke-width="0.3" />
<text x="306.50" y="158.22" font-size="2.45" text-anchor="end" fill="#333" text-rendering="geometricPrecision" >KEGG_LYSOSOME</text>
<line x1="306.90" y1="157.37" x2="307.80" y2="157.37" stroke="#555" stroke-width="0.3" />
<text x="306.50" y="162.71" font-size="2.45" text-anchor="end" fill="#333" text-rendering="geometricPrecision" >KEGG_PYRUVATE_METABOLISM</text>
<line x1="306.90" y1="161.86" x2="307.80" y2="161.86" stroke="#555" stroke-width="0.3" />
<text x="306.50" y="167.20" font-size="2.45" text-anchor="end" fill="#333" text-rendering="geometricPrecision" >KEGG_GLYCOLYSIS_GLUCONEOGENESIS</text>
<line x1="306.90" y1="166.35" x2="307.80" y2="166.35" stroke="#555" stroke-width="0.3" />
<text x="306.50" y="171.69" font-size="2.45" text-anchor="end" fill="#333" text-rendering="geometricPrecision" >KEGG_CITRATE_CYCLE_TCA_CYCLE</text>
<line x1="306.90" y1="170.84" x2="307.80" y2="170.84" stroke="#555" stroke-width="0.3" />
<text x="306.50" y="176.18" font-size="2.45" text-anchor="end" fill="#333" text-rendering="geometricPrecision" >KEGG_OXIDATIVE_PHOSPHORYLATION</text>
<line x1="306.90" y1="175.33" x2="307.80" y2="175.33" stroke="#555" stroke-width="0.3" />
<text x="306.50" y="180.67" font-size="2.45" text-anchor="end" fill="#333" text-rendering="geometricPrecision" >KEGG_HUNTINGTONS_DISEASE</text>
<line x1="306.90" y1="179.82" x2="307.80" y2="179.82" stroke="#555" stroke-width="0.3" />
<text x="306.50" y="185.16" font-size="2.45" text-anchor="end" fill="#333" text-rendering="geometricPrecision" >KEGG_ALANINE_ASPARTATE_AND_GLUTAMATE_METABOLISM</text>
<line x1="306.90" y1="184.31" x2="307.80" y2="184.31" stroke="#555" stroke-width="0.3" />
<text x="306.50" y="189.65" font-size="2.45" text-anchor="end" fill="#333" text-rendering="geometricPrecision" >KEGG_ARGININE_AND_PROLINE_METABOLISM</text>
<line x1="306.90" y1="188.80" x2="307.80" y2="188.80" stroke="#555" stroke-width="0.3" />
<text x="306.50" y="194.14" font-size="2.45" text-anchor="end" fill="#333" text-rendering="geometricPrecision" >KEGG_GLYCEROLIPID_METABOLISM</text>
<line x1="306.90" y1="193.29" x2="307.80" y2="193.29" stroke="#555" stroke-width="0.3" />
<text x="306.50" y="198.63" font-size="2.45" text-anchor="end" fill="#333" text-rendering="geometricPrecision" >KEGG_PORPHYRIN_AND_CHLOROPHYLL_METABOLISM</text>
<line x1="306.90" y1="197.78" x2="307.80" y2="197.78" stroke="#555" stroke-width="0.3" />
<text x="306.50" y="203.12" font-size="2.45" text-anchor="end" fill="#333" text-rendering="geometricPrecision" >KEGG_ANTIGEN_PROCESSING_AND_PRESENTATION</text>
<line x1="306.90" y1="202.27" x2="307.80" y2="202.27" stroke="#555" stroke-width="0.3" />
<text x="306.50" y="207.61" font-size="2.45" text-anchor="end" fill="#333" text-rendering="geometricPrecision" >KEGG_ALZHEIMERS_DISEASE</text>
<line x1="306.90" y1="206.76" x2="307.80" y2="206.76" stroke="#555" stroke-width="0.3" />
<text x="306.50" y="212.10" font-size="2.45" text-anchor="end" fill="#333" text-rendering="geometricPrecision" >KEGG_BUTANOATE_METABOLISM</text>
<line x1="306.90" y1="211.25" x2="307.80" y2="211.25" stroke="#555" stroke-width="0.3" />
<text x="306.50" y="216.59" font-size="2.45" text-anchor="end" fill="#333" text-rendering="geometricPrecision" >KEGG_PEROXISOME</text>
<line x1="306.90" y1="215.74" x2="307.80" y2="215.74" stroke="#555" stroke-width="0.3" />
<text x="306.50" y="221.08" font-size="2.45" text-anchor="end" fill="#333" text-rendering="geometricPrecision" >KEGG_PROPANOATE_METABOLISM</text>
<line x1="306.90" y1="220.23" x2="307.80" y2="220.23" stroke="#555" stroke-width="0.3" />
<text x="306.50" y="225.57" font-size="2.45" text-anchor="end" fill="#333" text-rendering="geometricPrecision" >KEGG_MAPK_SIGNALING_PATHWAY</text>
<line x1="306.90" y1="224.72" x2="307.80" y2="224.72" stroke="#555" stroke-width="0.3" />
<text x="306.50" y="230.06" font-size="2.45" text-anchor="end" fill="#333" text-rendering="geometricPrecision" >KEGG_SYSTEMIC_LUPUS_ERYTHEMATOSUS</text>
<line x1="306.90" y1="229.21" x2="307.80" y2="229.21" stroke="#555" stroke-width="0.3" />
<text x="306.50" y="234.55" font-size="2.45" text-anchor="end" fill="#333" text-rendering="geometricPrecision" >KEGG_DNA_REPLICATION</text>
<line x1="306.90" y1="233.70" x2="307.80" y2="233.70" stroke="#555" stroke-width="0.3" />
<text x="306.50" y="239.04" font-size="2.45" text-anchor="end" fill="#333" text-rendering="geometricPrecision" >KEGG_SPLICEOSOME</text>
<line x1="306.90" y1="238.19" x2="307.80" y2="238.19" stroke="#555" stroke-width="0.3" />
<text x="306.50" y="243.53" font-size="2.45" text-anchor="end" fill="#333" text-rendering="geometricPrecision" >KEGG_MISMATCH_REPAIR</text>
<line x1="306.90" y1="242.68" x2="307.80" y2="242.68" stroke="#555" stroke-width="0.3" />
<text x="306.50" y="248.02" font-size="2.45" text-anchor="end" fill="#333" text-rendering="geometricPrecision" >KEGG_NOTCH_SIGNALING_PATHWAY</text>
<line x1="306.90" y1="247.17" x2="307.80" y2="247.17" stroke="#555" stroke-width="0.3" />
<text x="306.50" y="252.51" font-size="2.45" text-anchor="end" fill="#333" text-rendering="geometricPrecision" >KEGG_CELL_CYCLE</text>
<line x1="306.90" y1="251.66" x2="307.80" y2="251.66" stroke="#555" stroke-width="0.3" />
<text x="306.50" y="257.00" font-size="2.45" text-anchor="end" fill="#333" text-rendering="geometricPrecision" >KEGG_PYRIMIDINE_METABOLISM</text>
<line x1="306.90" y1="256.15" x2="307.80" y2="256.15" stroke="#555" stroke-width="0.3" />
<text x="306.50" y="261.49" font-size="2.45" text-anchor="end" fill="#333" text-rendering="geometricPrecision" >KEGG_RNA_DEGRADATION</text>
<line x1="306.90" y1="260.64" x2="307.80" y2="260.64" stroke="#555" stroke-width="0.3" />
<text x="306.50" y="265.98" font-size="2.45" text-anchor="end" fill="#333" text-rendering="geometricPrecision" >KEGG_RIBOSOME</text>
<line x1="306.90" y1="265.13" x2="307.80" y2="265.13" stroke="#555" stroke-width="0.3" />
<circle cx="349.10" cy="143.90" r="0.90" fill="#3a3af5" />
<circle cx="348.50" cy="148.39" r="1.50" fill="#2828f0" />
<circle cx="348.60" cy="152.88" r="1.10" fill="#3030f0" />
<circle cx="348.50" cy="157.37" r="1.40" fill="#2828f0" />
<circle cx="348.20" cy="161.86" r="0.90" fill="#3030f0" />
<circle cx="348.00" cy="166.35" r="1.00" fill="#3030f0" />
<circle cx="347.90" cy="170.84" r="0.80" fill="#3535f0" />
<circle cx="347.70" cy="175.33" r="1.40" fill="#3030f0" />
<circle cx="346.60" cy="179.82" r="1.70" fill="#2a2af0" />
<circle cx="346.60" cy="184.31" r="0.70" fill="#3a30f0" />
<circle cx="346.60" cy="188.80" r="0.90" fill="#3a30f0" />
<circle cx="346.10" cy="193.29" r="0.80" fill="#3a2ef0" />
<circle cx="346.10" cy="197.78" r="0.70" fill="#4030f0" />
<circle cx="345.80" cy="202.27" r="1.00" fill="#4530ee" />
<circle cx="345.80" cy="206.76" r="1.60" fill="#4a28ee" />
<circle cx="345.60" cy="211.25" r="0.70" fill="#5028ec" />
<circle cx="345.10" cy="215.74" r="1.10" fill="#6a1af0" />
<circle cx="345.00" cy="220.23" r="0.80" fill="#6a1af0" />
<circle cx="344.70" cy="224.72" r="1.60" fill="#7010e8" />
<circle cx="344.20" cy="229.21" r="0.80" fill="#8010e0" />
<circle cx="326.60" cy="233.70" r="0.80" fill="#ff2020" />
<circle cx="326.00" cy="238.19" r="1.50" fill="#e8106a" />
<circle cx="325.40" cy="242.68" r="0.80" fill="#e0208a" />
<circle cx="324.50" cy="247.17" r="0.90" fill="#a010d0" />
<circle cx="324.40" cy="251.66" r="1.50" fill="#8010d8" />
<circle cx="324.00" cy="256.15" r="1.40" fill="#8010d0" />
<circle cx="321.60" cy="260.64" r="1.10" fill="#3a2af0" />
<circle cx="309.50" cy="265.13" r="1.50" fill="#2020ff" />
<text x="307.40" y="271.80" font-size="2.6" text-anchor="start" fill="#444" textLength="4.40" lengthAdjust="spacingAndGlyphs" text-rendering="geometricPrecision" >−0.6</text>
<text x="319.00" y="271.80" font-size="2.6" text-anchor="start" fill="#444" textLength="4.50" lengthAdjust="spacingAndGlyphs" text-rendering="geometricPrecision" >−0.3</text>
<text x="333.00" y="271.80" font-size="2.6" text-anchor="start" fill="#444" textLength="3.80" lengthAdjust="spacingAndGlyphs" text-rendering="geometricPrecision" >0.0</text>
<text x="345.60" y="271.80" font-size="2.6" text-anchor="start" fill="#444" textLength="3.50" lengthAdjust="spacingAndGlyphs" text-rendering="geometricPrecision" >0.3</text>
<text x="327.00" y="275.10" font-size="3.0" text-anchor="start" fill="#333" textLength="6.00" lengthAdjust="spacingAndGlyphs" >NES</text>
<text transform="translate(230.60,205.00) rotate(-90)" font-size="3.0" text-anchor="middle" fill="#333" textLength="20.50" lengthAdjust="spacingAndGlyphs" >ID-short.NES</text>
<text x="355.10" y="179.10" font-size="2.6" text-anchor="start" fill="#333" textLength="6.40" lengthAdjust="spacingAndGlyphs" text-rendering="geometricPrecision" >FDR</text>
<rect x="355.1" y="180.9" width="4.5" height="20.6" fill="url(#gfdr)"/>
<text x="361.00" y="186.10" font-size="2.3" text-anchor="start" fill="#333" textLength="4.70" lengthAdjust="spacingAndGlyphs" text-rendering="geometricPrecision" >0.10</text>
<text x="361.00" y="191.80" font-size="2.3" text-anchor="start" fill="#333" textLength="4.70" lengthAdjust="spacingAndGlyphs" text-rendering="geometricPrecision" >0.05</text>
<text x="361.00" y="197.60" font-size="2.3" text-anchor="start" fill="#333" textLength="4.70" lengthAdjust="spacingAndGlyphs" text-rendering="geometricPrecision" >0.00</text>
<text x="355.10" y="210.00" font-size="2.7" text-anchor="start" fill="#333" textLength="7.80" lengthAdjust="spacingAndGlyphs" text-rendering="geometricPrecision" >count</text>
<circle cx="357.20" cy="213.60" r="0.50" fill="#111" />
<text x="361.00" y="214.50" font-size="2.5" text-anchor="start" fill="#333" text-rendering="geometricPrecision" >25</text>
<circle cx="357.20" cy="218.00" r="0.90" fill="#111" />
<text x="361.00" y="218.90" font-size="2.5" text-anchor="start" fill="#333" text-rendering="geometricPrecision" >50</text>
<circle cx="357.20" cy="222.30" r="1.10" fill="#111" />
<text x="361.00" y="223.20" font-size="2.5" text-anchor="start" fill="#333" text-rendering="geometricPrecision" >75</text>
<circle cx="357.20" cy="226.30" r="1.25" fill="#111" />
<text x="361.00" y="227.20" font-size="2.5" text-anchor="start" fill="#333" text-rendering="geometricPrecision" >100</text>
<circle cx="357.20" cy="230.90" r="1.45" fill="#111" />
<text x="361.00" y="231.80" font-size="2.5" text-anchor="start" fill="#333" text-rendering="geometricPrecision" >125</text>
<text x="381.60" y="134.20" font-size="8.6" text-anchor="start" font-weight="bold" fill="#000" stroke="#000" stroke-width="0.3" >F</text>
<rect x="445.60" y="148.30" width="82.60" height="105.10" fill="#fff" stroke="#e0e0e0" stroke-width="0.35" />
<line x1="452.35" y1="148.30" x2="452.35" y2="253.40" stroke="#ededed" stroke-width="0.35" />
<line x1="460.60" y1="148.30" x2="460.60" y2="253.40" stroke="#e2e2e2" stroke-width="0.35" />
<line x1="468.85" y1="148.30" x2="468.85" y2="253.40" stroke="#ededed" stroke-width="0.35" />
<line x1="477.10" y1="148.30" x2="477.10" y2="253.40" stroke="#e2e2e2" stroke-width="0.35" />
<line x1="485.35" y1="148.30" x2="485.35" y2="253.40" stroke="#ededed" stroke-width="0.35" />
<line x1="493.60" y1="148.30" x2="493.60" y2="253.40" stroke="#e2e2e2" stroke-width="0.35" />
<line x1="501.85" y1="148.30" x2="501.85" y2="253.40" stroke="#ededed" stroke-width="0.35" />
<line x1="510.10" y1="148.30" x2="510.10" y2="253.40" stroke="#e2e2e2" stroke-width="0.35" />
<line x1="518.35" y1="148.30" x2="518.35" y2="253.40" stroke="#ededed" stroke-width="0.35" />
<line x1="526.60" y1="148.30" x2="526.60" y2="253.40" stroke="#e2e2e2" stroke-width="0.35" />
<line x1="445.60" y1="150.80" x2="528.20" y2="150.80" stroke="#f2f2f2" stroke-width="0.3" />
<line x1="445.60" y1="155.52" x2="528.20" y2="155.52" stroke="#f2f2f2" stroke-width="0.3" />
<line x1="445.60" y1="160.24" x2="528.20" y2="160.24" stroke="#f2f2f2" stroke-width="0.3" />
<line x1="445.60" y1="164.96" x2="528.20" y2="164.96" stroke="#f2f2f2" stroke-width="0.3" />
<line x1="445.60" y1="169.68" x2="528.20" y2="169.68" stroke="#f2f2f2" stroke-width="0.3" />
<line x1="445.60" y1="174.40" x2="528.20" y2="174.40" stroke="#f2f2f2" stroke-width="0.3" />
<line x1="445.60" y1="179.12" x2="528.20" y2="179.12" stroke="#f2f2f2" stroke-width="0.3" />
<line x1="445.60" y1="183.84" x2="528.20" y2="183.84" stroke="#f2f2f2" stroke-width="0.3" />
<line x1="445.60" y1="188.56" x2="528.20" y2="188.56" stroke="#f2f2f2" stroke-width="0.3" />
<line x1="445.60" y1="193.28" x2="528.20" y2="193.28" stroke="#f2f2f2" stroke-width="0.3" />
<line x1="445.60" y1="198.00" x2="528.20" y2="198.00" stroke="#f2f2f2" stroke-width="0.3" />
<line x1="445.60" y1="202.72" x2="528.20" y2="202.72" stroke="#f2f2f2" stroke-width="0.3" />
<line x1="445.60" y1="207.44" x2="528.20" y2="207.44" stroke="#f2f2f2" stroke-width="0.3" />
<line x1="445.60" y1="212.16" x2="528.20" y2="212.16" stroke="#f2f2f2" stroke-width="0.3" />
<line x1="445.60" y1="216.88" x2="528.20" y2="216.88" stroke="#f2f2f2" stroke-width="0.3" />
<line x1="445.60" y1="221.60" x2="528.20" y2="221.60" stroke="#f2f2f2" stroke-width="0.3" />
<line x1="445.60" y1="226.32" x2="528.20" y2="226.32" stroke="#f2f2f2" stroke-width="0.3" />
<line x1="445.60" y1="231.04" x2="528.20" y2="231.04" stroke="#f2f2f2" stroke-width="0.3" />
<line x1="445.60" y1="235.76" x2="528.20" y2="235.76" stroke="#f2f2f2" stroke-width="0.3" />
<line x1="445.60" y1="240.48" x2="528.20" y2="240.48" stroke="#f2f2f2" stroke-width="0.3" />
<line x1="445.60" y1="245.20" x2="528.20" y2="245.20" stroke="#f2f2f2" stroke-width="0.3" />
<line x1="445.60" y1="249.92" x2="528.20" y2="249.92" stroke="#f2f2f2" stroke-width="0.3" />
<line x1="493.60" y1="148.30" x2="493.60" y2="253.40" stroke="#666" stroke-width="0.35" stroke-dasharray="0.8,0.6"/>
<text x="444.60" y="152.10" font-size="3.75" text-anchor="end" fill="#222" >OXIDATIVE PHOSPHORYLATION</text>
<text x="444.60" y="156.82" font-size="3.75" text-anchor="end" fill="#222" >FATTY ACID METABOLISM</text>
<text x="444.60" y="161.54" font-size="3.75" text-anchor="end" fill="#222" >UV RESPONSE UP</text>
<text x="444.60" y="166.26" font-size="3.75" text-anchor="end" fill="#222" >ADIPOGENESIS</text>
<text x="444.60" y="170.98" font-size="3.75" text-anchor="end" fill="#222" >XENOBIOTIC METABOLISM</text>
<text x="444.60" y="175.70" font-size="3.75" text-anchor="end" fill="#222" >HYPOXIA</text>
<text x="444.60" y="180.42" font-size="3.75" text-anchor="end" fill="#222" >HEME METABOLISM</text>
<text x="444.60" y="185.14" font-size="3.75" text-anchor="end" fill="#222" >COMPLEMENT</text>
<text x="444.60" y="189.86" font-size="3.75" text-anchor="end" fill="#222" >GLYCOLYSIS</text>
<text x="444.60" y="194.58" font-size="3.75" text-anchor="end" fill="#222" >COAGULATION</text>
<text x="444.60" y="199.30" font-size="3.75" text-anchor="end" fill="#222" >INTERFERON GAMMA RESPONSE</text>
<text x="444.60" y="204.02" font-size="3.75" text-anchor="end" fill="#222" >TNFA SIGNALING VIA NFKB</text>
<text x="444.60" y="208.74" font-size="3.75" text-anchor="end" fill="#222" >ESTROGEN RESPONSE LATE</text>
<text x="444.60" y="213.46" font-size="3.75" text-anchor="end" fill="#222" >EPITHELIAL MESENCHYMAL TRANSITION</text>
<text x="444.60" y="218.18" font-size="3.75" text-anchor="end" fill="#222" >PROTEIN SECRETION</text>
<text x="444.60" y="222.90" font-size="3.75" text-anchor="end" fill="#222" >SPERMATOGENESIS</text>
<text x="444.60" y="227.62" font-size="3.75" text-anchor="end" fill="#222" >WNT BETA CATENIN SIGNALING</text>
<text x="444.60" y="232.34" font-size="3.75" text-anchor="end" fill="#222" >MITOTIC SPINDLE</text>
<text x="444.60" y="237.06" font-size="3.75" text-anchor="end" fill="#222" >MYC TARGETS V2</text>
<text x="444.60" y="241.78" font-size="3.75" text-anchor="end" fill="#222" >MYC TARGETS V1</text>
<text x="444.60" y="246.50" font-size="3.75" text-anchor="end" fill="#222" >G2M CHECKPOINT</text>
<text x="444.60" y="251.22" font-size="3.75" text-anchor="end" fill="#222" >E2F TARGETS</text>
<line x1="493.60" y1="150.80" x2="525.10" y2="150.80" stroke="#9a9a9a" stroke-width="0.75" />
<circle cx="525.10" cy="150.80" r="1.50" fill="#b52a2a" stroke="#6a1a1a" stroke-width="0.15"/>
<line x1="493.60" y1="155.52" x2="518.90" y2="155.52" stroke="#9a9a9a" stroke-width="0.75" />
<circle cx="518.90" cy="155.52" r="1.30" fill="#b52a2a" stroke="#6a1a1a" stroke-width="0.15"/>
<line x1="493.60" y1="160.24" x2="514.80" y2="160.24" stroke="#9a9a9a" stroke-width="0.75" />
<circle cx="514.80" cy="160.24" r="1.20" fill="#b52a2a" stroke="#6a1a1a" stroke-width="0.15"/>
<line x1="493.60" y1="164.96" x2="514.20" y2="164.96" stroke="#9a9a9a" stroke-width="0.75" />
<circle cx="514.20" cy="164.96" r="1.20" fill="#b52a2a" stroke="#6a1a1a" stroke-width="0.15"/>
<line x1="493.60" y1="169.68" x2="511.00" y2="169.68" stroke="#9a9a9a" stroke-width="0.75" />
<circle cx="511.00" cy="169.68" r="1.20" fill="#b52a2a" stroke="#6a1a1a" stroke-width="0.15"/>
<line x1="493.60" y1="174.40" x2="511.00" y2="174.40" stroke="#9a9a9a" stroke-width="0.75" />
<circle cx="511.00" cy="174.40" r="1.20" fill="#b52a2a" stroke="#6a1a1a" stroke-width="0.15"/>
<line x1="493.60" y1="179.12" x2="510.70" y2="179.12" stroke="#9a9a9a" stroke-width="0.75" />
<circle cx="510.70" cy="179.12" r="1.20" fill="#b52a2a" stroke="#6a1a1a" stroke-width="0.15"/>
<line x1="493.60" y1="183.84" x2="510.70" y2="183.84" stroke="#9a9a9a" stroke-width="0.75" />
<circle cx="510.70" cy="183.84" r="1.20" fill="#b52a2a" stroke="#6a1a1a" stroke-width="0.15"/>
<line x1="493.60" y1="188.56" x2="509.60" y2="188.56" stroke="#9a9a9a" stroke-width="0.75" />
<circle cx="509.60" cy="188.56" r="1.20" fill="#b52a2a" stroke="#6a1a1a" stroke-width="0.15"/>
<line x1="493.60" y1="193.28" x2="507.40" y2="193.28" stroke="#9a9a9a" stroke-width="0.75" />
<circle cx="507.40" cy="193.28" r="0.90" fill="#a23a4a" stroke="#6a1a1a" stroke-width="0.15"/>
<line x1="493.60" y1="198.00" x2="507.20" y2="198.00" stroke="#9a9a9a" stroke-width="0.75" />
<circle cx="507.20" cy="198.00" r="1.00" fill="#9a3f55" stroke="#6a1a1a" stroke-width="0.15"/>
<line x1="493.60" y1="202.72" x2="506.60" y2="202.72" stroke="#9a9a9a" stroke-width="0.75" />
<circle cx="506.60" cy="202.72" r="0.90" fill="#8a4565" stroke="#6a1a1a" stroke-width="0.15"/>
<line x1="493.60" y1="207.44" x2="506.30" y2="207.44" stroke="#9a9a9a" stroke-width="0.75" />
<circle cx="506.30" cy="207.44" r="0.90" fill="#7a4a75" stroke="#6a1a1a" stroke-width="0.15"/>
<line x1="493.60" y1="212.16" x2="506.00" y2="212.16" stroke="#9a9a9a" stroke-width="0.75" />
<circle cx="506.00" cy="212.16" r="0.90" fill="#6a5085" stroke="#6a1a1a" stroke-width="0.15"/>
<line x1="493.60" y1="216.88" x2="505.50" y2="216.88" stroke="#9a9a9a" stroke-width="0.75" />
<circle cx="505.50" cy="216.88" r="0.90" fill="#5a5595" stroke="#6a1a1a" stroke-width="0.15"/>
<line x1="493.60" y1="221.60" x2="505.20" y2="221.60" stroke="#9a9a9a" stroke-width="0.75" />
<circle cx="505.20" cy="221.60" r="0.90" fill="#4a5aa5" stroke="#6a1a1a" stroke-width="0.15"/>
<line x1="493.60" y1="226.32" x2="479.60" y2="226.32" stroke="#9a9a9a" stroke-width="0.75" />
<circle cx="479.60" cy="226.32" r="0.50" fill="#bb8888" stroke="#6a1a1a" stroke-width="0.15"/>
<line x1="493.60" y1="231.04" x2="478.80" y2="231.04" stroke="#9a9a9a" stroke-width="0.75" />
<circle cx="478.80" cy="231.04" r="1.20" fill="#c03030" stroke="#6a1a1a" stroke-width="0.15"/>
<line x1="493.60" y1="235.76" x2="470.80" y2="235.76" stroke="#9a9a9a" stroke-width="0.75" />
<circle cx="470.80" cy="235.76" r="0.70" fill="#b54040" stroke="#6a1a1a" stroke-width="0.15"/>
<line x1="493.60" y1="240.48" x2="460.30" y2="240.48" stroke="#9a9a9a" stroke-width="0.75" />
<circle cx="460.30" cy="240.48" r="1.40" fill="#c02a2a" stroke="#6a1a1a" stroke-width="0.15"/>
<line x1="493.60" y1="245.20" x2="458.10" y2="245.20" stroke="#9a9a9a" stroke-width="0.75" />
<circle cx="458.10" cy="245.20" r="1.30" fill="#c02a2a" stroke="#6a1a1a" stroke-width="0.15"/>
<line x1="493.60" y1="249.92" x2="449.30" y2="249.92" stroke="#9a9a9a" stroke-width="0.75" />
<circle cx="449.30" cy="249.92" r="1.50" fill="#c82a2a" stroke="#6a1a1a" stroke-width="0.15"/>
<text x="459.50" y="258.40" font-size="4.8" text-anchor="middle" fill="#333" >−4</text>
<text x="476.00" y="258.40" font-size="4.8" text-anchor="middle" fill="#333" >−2</text>
<text x="493.60" y="258.40" font-size="4.8" text-anchor="middle" fill="#333" >0</text>
<text x="510.10" y="258.40" font-size="4.8" text-anchor="middle" fill="#333" >2</text>
<text x="526.60" y="258.40" font-size="4.8" text-anchor="middle" fill="#333" >4</text>
<text x="487.80" y="263.50" font-size="4.8" text-anchor="start" font-weight="bold" fill="#000" textLength="10.80" lengthAdjust="spacingAndGlyphs" >NES</text>
<text x="423.80" y="268.30" font-size="3.9" text-anchor="start" fill="#333" textLength="7.40" lengthAdjust="spacingAndGlyphs" >FDR</text>
<rect x="435" y="265.3" width="19.1" height="3.4" fill="url(#gf)"/>
<text x="436.00" y="264.30" font-size="3.0" text-anchor="start" fill="#333" textLength="16.60" lengthAdjust="spacingAndGlyphs" >0.05 0.15</text>
<text x="431.90" y="272.00" font-size="3.0" text-anchor="start" fill="#333" textLength="26.10" lengthAdjust="spacingAndGlyphs" >0.00 0.10 0.20</text>
<text x="466.10" y="270.60" font-size="3.3" text-anchor="start" fill="#333" textLength="48.60" lengthAdjust="spacingAndGlyphs" >SIZE ● 50 ○ 100○150○200</text>
<text x="550.60" y="132.40" font-size="8.6" text-anchor="start" font-weight="bold" fill="#000" stroke="#000" stroke-width="0.3" >G</text>
<rect x="580.40" y="150.30" width="38.40" height="97.90" fill="#fff" stroke="#c8c8c8" stroke-width="0.4" />
<line x1="582.12" y1="150.30" x2="582.12" y2="248.20" stroke="#f3f3f3" stroke-width="0.3" />
<line x1="589.48" y1="150.30" x2="589.48" y2="248.20" stroke="#f3f3f3" stroke-width="0.3" />
<line x1="596.83" y1="150.30" x2="596.83" y2="248.20" stroke="#f3f3f3" stroke-width="0.3" />
<line x1="604.17" y1="150.30" x2="604.17" y2="248.20" stroke="#f3f3f3" stroke-width="0.3" />
<line x1="611.52" y1="150.30" x2="611.52" y2="248.20" stroke="#f3f3f3" stroke-width="0.3" />
<line x1="585.80" y1="150.30" x2="585.80" y2="248.20" stroke="#e8e8e8" stroke-width="0.35" />
<line x1="593.15" y1="150.30" x2="593.15" y2="248.20" stroke="#e8e8e8" stroke-width="0.35" />
<line x1="607.85" y1="150.30" x2="607.85" y2="248.20" stroke="#e8e8e8" stroke-width="0.35" />
<line x1="615.20" y1="150.30" x2="615.20" y2="248.20" stroke="#e8e8e8" stroke-width="0.35" />
<line x1="580.40" y1="159.40" x2="618.80" y2="159.40" stroke="#efefef" stroke-width="0.35" />
<line x1="580.40" y1="175.30" x2="618.80" y2="175.30" stroke="#efefef" stroke-width="0.35" />
<line x1="580.40" y1="191.20" x2="618.80" y2="191.20" stroke="#efefef" stroke-width="0.35" />
<line x1="580.40" y1="207.00" x2="618.80" y2="207.00" stroke="#efefef" stroke-width="0.35" />
<line x1="580.40" y1="222.90" x2="618.80" y2="222.90" stroke="#efefef" stroke-width="0.35" />
<line x1="580.40" y1="238.40" x2="618.80" y2="238.40" stroke="#efefef" stroke-width="0.35" />
<line x1="600.50" y1="150.30" x2="600.50" y2="248.20" stroke="#777" stroke-width="0.4" stroke-dasharray="0.8,0.6"/>
<line x1="600.50" y1="159.40" x2="616.60" y2="159.40" stroke="#585858" stroke-width="1.5" />
<circle cx="616.60" cy="159.40" r="1.55" fill="#c03535" />
<text x="562.50" y="161.15" font-size="4.9" text-anchor="start" fill="#333" textLength="16.80" lengthAdjust="spacingAndGlyphs" >MAPK1</text>
<line x1="600.50" y1="175.30" x2="615.10" y2="175.30" stroke="#585858" stroke-width="1.5" />
<circle cx="615.10" cy="175.30" r="1.55" fill="#b04545" />
<text x="562.10" y="177.05" font-size="4.9" text-anchor="start" fill="#333" textLength="17.20" lengthAdjust="spacingAndGlyphs" >PRKDC</text>
<line x1="600.50" y1="191.20" x2="612.70" y2="191.20" stroke="#585858" stroke-width="1.5" />
<circle cx="612.70" cy="191.20" r="1.55" fill="#5a5aa8" />
<text x="562.10" y="192.95" font-size="4.9" text-anchor="start" fill="#333" textLength="17.20" lengthAdjust="spacingAndGlyphs" >UHMK1</text>
<line x1="600.50" y1="207.00" x2="587.50" y2="207.00" stroke="#585858" stroke-width="1.5" />
<text x="566.30" y="208.75" font-size="4.9" text-anchor="start" fill="#333" textLength="13.00" lengthAdjust="spacingAndGlyphs" >CDK9</text>
<line x1="600.50" y1="222.90" x2="584.20" y2="222.90" stroke="#585858" stroke-width="1.5" />
<text x="569.40" y="224.65" font-size="4.9" text-anchor="start" fill="#333" textLength="9.90" lengthAdjust="spacingAndGlyphs" >ATM</text>
<line x1="600.50" y1="238.40" x2="581.90" y2="238.40" stroke="#585858" stroke-width="1.5" />
<text x="556.50" y="240.15" font-size="4.9" text-anchor="start" fill="#333" textLength="22.80" lengthAdjust="spacingAndGlyphs" >CSNK2A2</text>
<text x="584.70" y="253.20" font-size="4.5" text-anchor="middle" fill="#333" >−2</text>
<text x="592.05" y="253.20" font-size="4.5" text-anchor="middle" fill="#333" >−1</text>
<text x="600.50" y="253.20" font-size="4.5" text-anchor="middle" fill="#333" >0</text>
<text x="607.85" y="253.20" font-size="4.5" text-anchor="middle" fill="#333" >1</text>
<text x="615.20" y="253.20" font-size="4.5" text-anchor="middle" fill="#333" >2</text>
<text x="591.10" y="257.80" font-size="4.9" text-anchor="start" font-weight="bold" fill="#000" textLength="18.10" lengthAdjust="spacingAndGlyphs" >Z-score</text>
<text transform="translate(555.00,199.60) rotate(-90)" font-size="4.5" text-anchor="middle" font-weight="bold" fill="#000" textLength="19.60" lengthAdjust="spacingAndGlyphs" >Kinases</text>
<text x="551.00" y="262.60" font-size="3.2" text-anchor="start" fill="#333" textLength="12.70" lengthAdjust="spacingAndGlyphs" >p-value</text>
<rect x="564.9" y="259.0" width="19.0" height="3.8" fill="url(#gg)"/>
<text x="565.80" y="258.00" font-size="2.7" text-anchor="start" fill="#333" textLength="7.00" lengthAdjust="spacingAndGlyphs" text-rendering="geometricPrecision" >0.02</text>
<text x="574.60" y="258.00" font-size="2.7" text-anchor="start" fill="#333" textLength="7.00" lengthAdjust="spacingAndGlyphs" text-rendering="geometricPrecision" >0.04</text>
<text x="564.80" y="266.30" font-size="2.7" text-anchor="start" fill="#333" textLength="19.80" lengthAdjust="spacingAndGlyphs" text-rendering="geometricPrecision" >0.01 0.03 0.05</text>
<text x="592.30" y="262.00" font-size="3.0" text-anchor="start" fill="#333" textLength="19.90" lengthAdjust="spacingAndGlyphs" >#substrates</text>
<text x="592.30" y="266.20" font-size="2.9" text-anchor="start" fill="#333" textLength="27.40" lengthAdjust="spacingAndGlyphs" >• 1  ● 1.50 ○ 2.00</text>
<rect x="645.90" y="150.10" width="37.50" height="98.10" fill="#fff" stroke="#c8c8c8" stroke-width="0.4" />
<line x1="654.90" y1="150.10" x2="654.90" y2="248.20" stroke="#efefef" stroke-width="0.35" />
<line x1="672.00" y1="150.10" x2="672.00" y2="248.20" stroke="#efefef" stroke-width="0.35" />
<line x1="645.90" y1="159.40" x2="683.40" y2="159.40" stroke="#f2f2f2" stroke-width="0.35" />
<line x1="645.90" y1="175.30" x2="683.40" y2="175.30" stroke="#f2f2f2" stroke-width="0.35" />
<line x1="645.90" y1="191.20" x2="683.40" y2="191.20" stroke="#f2f2f2" stroke-width="0.35" />
<line x1="645.90" y1="207.00" x2="683.40" y2="207.00" stroke="#f2f2f2" stroke-width="0.35" />
<line x1="645.90" y1="222.90" x2="683.40" y2="222.90" stroke="#f2f2f2" stroke-width="0.35" />
<line x1="645.90" y1="238.40" x2="683.40" y2="238.40" stroke="#f2f2f2" stroke-width="0.35" />
<line x1="662.90" y1="150.10" x2="662.90" y2="248.20" stroke="#999" stroke-width="0.35" stroke-dasharray="0.8,0.6"/>
<text x="627.60" y="161.15" font-size="4.9" text-anchor="start" fill="#333" textLength="16.80" lengthAdjust="spacingAndGlyphs" >MAPK1</text>
<text x="627.60" y="177.05" font-size="4.9" text-anchor="start" fill="#333" textLength="16.80" lengthAdjust="spacingAndGlyphs" >PRKDC</text>
<text x="627.60" y="192.95" font-size="4.9" text-anchor="start" fill="#333" textLength="16.80" lengthAdjust="spacingAndGlyphs" >UHMK1</text>
<text x="631.40" y="208.75" font-size="4.9" text-anchor="start" fill="#333" textLength="13.00" lengthAdjust="spacingAndGlyphs" >CDK9</text>
<text x="634.60" y="224.65" font-size="4.9" text-anchor="start" fill="#333" textLength="9.80" lengthAdjust="spacingAndGlyphs" >ATM</text>
<text x="621.60" y="240.15" font-size="4.9" text-anchor="start" fill="#333" textLength="22.80" lengthAdjust="spacingAndGlyphs" >CSNK2A2</text>
<line x1="665.50" y1="159.65" x2="669.30" y2="159.65" stroke="#444" stroke-width="0.35" />
<line x1="677.80" y1="159.65" x2="681.80" y2="159.65" stroke="#444" stroke-width="0.35" />
<rect x="669.30" y="153.40" width="8.50" height="12.50" fill="#fff" stroke="#555" stroke-width="0.4" />
<line x1="673.80" y1="153.40" x2="673.80" y2="165.90" stroke="#222" stroke-width="0.7" />
<circle cx="665.00" cy="159.65" r="0.65" fill="#c04545" />
<circle cx="682.40" cy="159.65" r="0.65" fill="#c04545" />
<line x1="663.50" y1="175.60" x2="667.50" y2="175.60" stroke="#444" stroke-width="0.35" />
<line x1="677.40" y1="175.60" x2="681.50" y2="175.60" stroke="#444" stroke-width="0.35" />
<rect x="667.50" y="169.30" width="9.90" height="12.60" fill="#fff" stroke="#555" stroke-width="0.4" />
<line x1="672.40" y1="169.30" x2="672.40" y2="181.90" stroke="#222" stroke-width="0.7" />
<circle cx="662.90" cy="175.60" r="0.65" fill="#c04545" />
<circle cx="681.80" cy="175.60" r="0.65" fill="#c04545" />
<line x1="666.50" y1="191.65" x2="668.90" y2="191.65" stroke="#444" stroke-width="0.35" />
<line x1="673.80" y1="191.65" x2="676.60" y2="191.65" stroke="#444" stroke-width="0.35" />
<rect x="668.90" y="185.50" width="4.90" height="12.30" fill="#fff" stroke="#555" stroke-width="0.4" />
<line x1="671.40" y1="185.50" x2="671.40" y2="197.80" stroke="#222" stroke-width="0.7" />
<circle cx="666.30" cy="191.65" r="0.65" fill="#c04545" />
<circle cx="676.80" cy="191.65" r="0.65" fill="#c04545" />
<rect x="652.00" y="200.80" width="1.60" height="12.20" fill="#5a5a5a" stroke="#666" stroke-width="0.3" />
<circle cx="652.80" cy="206.90" r="0.55" fill="#2aa0a8" />
<rect x="649.20" y="216.80" width="1.90" height="12.30" fill="#a5a5a5" stroke="#666" stroke-width="0.3" />
<circle cx="650.10" cy="222.95" r="0.55" fill="#2aa0a8" />
<rect x="646.90" y="232.80" width="1.90" height="11.30" fill="#b0b0b0" stroke="#666" stroke-width="0.3" />
<circle cx="647.90" cy="238.45" r="0.55" fill="#2aa0a8" />
<text transform="translate(650.20,249.80) rotate(-60)" font-size="4.0" text-anchor="end" fill="#222" >−0.5</text>
<text transform="translate(656.60,249.80) rotate(-60)" font-size="4.0" text-anchor="end" fill="#222" >−0.3</text>
<text transform="translate(662.40,249.80) rotate(-60)" font-size="4.0" text-anchor="end" fill="#222" >0.0</text>
<text transform="translate(668.60,249.80) rotate(-60)" font-size="4.0" text-anchor="end" fill="#222" >0.2</text>
<text transform="translate(674.60,249.80) rotate(-60)" font-size="4.0" text-anchor="end" fill="#222" >0.4</text>
<text transform="translate(680.40,249.80) rotate(-60)" font-size="4.0" text-anchor="end" fill="#222" >0.5</text>
<text x="642.00" y="261.90" font-size="4.6" text-anchor="start" font-weight="bold" fill="#000" textLength="42.70" lengthAdjust="spacingAndGlyphs" >Log2 Fold Change</text>
</svg>
</body></html>
